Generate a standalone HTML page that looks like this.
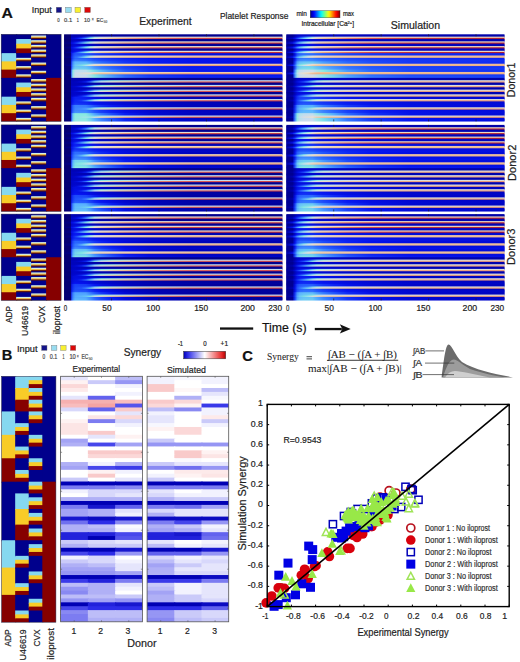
<!DOCTYPE html>
<html><head><meta charset="utf-8"><style>
html,body{margin:0;padding:0;background:#fff;width:520px;height:662px;overflow:hidden}
svg{display:block}
</style></head><body><svg width="520" height="662" viewBox="0 0 520 662" font-family='"Liberation Sans", sans-serif'><defs><linearGradient id="jetbar"><stop offset="0" stop-color="#000080"/><stop offset="0.05" stop-color="#0000b2"/><stop offset="0.1" stop-color="#0000e6"/><stop offset="0.15" stop-color="#0019ff"/><stop offset="0.2" stop-color="#004dff"/><stop offset="0.25" stop-color="#0080ff"/><stop offset="0.3" stop-color="#00b2ff"/><stop offset="0.35" stop-color="#00e5ff"/><stop offset="0.4" stop-color="#1affe5"/><stop offset="0.45" stop-color="#4dffb2"/><stop offset="0.5" stop-color="#80ff80"/><stop offset="0.55" stop-color="#b3ff4c"/><stop offset="0.6" stop-color="#e5ff1a"/><stop offset="0.65" stop-color="#ffe500"/><stop offset="0.7" stop-color="#ffb300"/><stop offset="0.75" stop-color="#ff8000"/><stop offset="0.8" stop-color="#ff4c00"/><stop offset="0.85" stop-color="#ff1a00"/><stop offset="0.9" stop-color="#e50000"/><stop offset="0.95" stop-color="#b30000"/><stop offset="1" stop-color="#800000"/></linearGradient><linearGradient id="g0"><stop offset="0" stop-color="#050073"/><stop offset="0.03" stop-color="#050073"/><stop offset="0.03" stop-color="#0003b5"/><stop offset="0.04" stop-color="#0003b4"/><stop offset="0.05" stop-color="#0003b3"/><stop offset="0.06" stop-color="#0003b1"/><stop offset="0.08" stop-color="#0002ae"/><stop offset="0.1" stop-color="#0002ac"/><stop offset="0.12" stop-color="#0002a9"/><stop offset="0.14" stop-color="#0002a6"/><stop offset="0.17" stop-color="#0001a2"/><stop offset="0.22" stop-color="#00019e"/><stop offset="0.28" stop-color="#000098"/><stop offset="0.39" stop-color="#000093"/><stop offset="0.57" stop-color="#01008f"/><stop offset="1" stop-color="#02008a"/></linearGradient><linearGradient id="g1"><stop offset="0" stop-color="#050074"/><stop offset="0.03" stop-color="#040078"/><stop offset="0.03" stop-color="#0004bf"/><stop offset="0.04" stop-color="#0004c1"/><stop offset="0.05" stop-color="#0005c7"/><stop offset="0.06" stop-color="#0108d0"/><stop offset="0.08" stop-color="#0412ea"/><stop offset="0.1" stop-color="#1a44f9"/><stop offset="0.12" stop-color="#50a5ff"/><stop offset="0.14" stop-color="#98e7e5"/><stop offset="0.17" stop-color="#ccdcec"/><stop offset="0.22" stop-color="#d8dee0"/><stop offset="0.28" stop-color="#dddedb"/><stop offset="0.39" stop-color="#e0dfd8"/><stop offset="0.57" stop-color="#e2dfd6"/><stop offset="1" stop-color="#e4dfd4"/></linearGradient><linearGradient id="g2"><stop offset="0" stop-color="#050076"/><stop offset="0.03" stop-color="#03007f"/><stop offset="0.03" stop-color="#0006cb"/><stop offset="0.04" stop-color="#0108d0"/><stop offset="0.05" stop-color="#030ddc"/><stop offset="0.06" stop-color="#0514f0"/><stop offset="0.08" stop-color="#1f4ffb"/><stop offset="0.1" stop-color="#4d9fff"/><stop offset="0.12" stop-color="#96e8e4"/><stop offset="0.14" stop-color="#dbdedd"/><stop offset="0.17" stop-color="#edd2b7"/><stop offset="0.22" stop-color="#efbb92"/><stop offset="0.28" stop-color="#e99977"/><stop offset="0.39" stop-color="#df6b5d"/><stop offset="0.57" stop-color="#d14548"/><stop offset="1" stop-color="#bd313d"/></linearGradient><linearGradient id="g3"><stop offset="0" stop-color="#050073"/><stop offset="0.03" stop-color="#050073"/><stop offset="0.03" stop-color="#0003b8"/><stop offset="0.04" stop-color="#0004c2"/><stop offset="0.05" stop-color="#0005c3"/><stop offset="0.06" stop-color="#0004c1"/><stop offset="0.08" stop-color="#0004bd"/><stop offset="0.1" stop-color="#0004ba"/><stop offset="0.12" stop-color="#0003b6"/><stop offset="0.14" stop-color="#0003b1"/><stop offset="0.17" stop-color="#0002ad"/><stop offset="0.22" stop-color="#0002a7"/><stop offset="0.28" stop-color="#0001a1"/><stop offset="0.39" stop-color="#000098"/><stop offset="0.57" stop-color="#010092"/><stop offset="1" stop-color="#01008d"/></linearGradient><linearGradient id="g4"><stop offset="0" stop-color="#050076"/><stop offset="0.03" stop-color="#03007e"/><stop offset="0.03" stop-color="#0006cb"/><stop offset="0.04" stop-color="#0109d1"/><stop offset="0.05" stop-color="#030dde"/><stop offset="0.06" stop-color="#0514f0"/><stop offset="0.08" stop-color="#1d4bfa"/><stop offset="0.1" stop-color="#4796ff"/><stop offset="0.12" stop-color="#82e5e4"/><stop offset="0.14" stop-color="#c2ddef"/><stop offset="0.17" stop-color="#d5dde3"/><stop offset="0.22" stop-color="#dbdedd"/><stop offset="0.28" stop-color="#dedfda"/><stop offset="0.39" stop-color="#e1dfd7"/><stop offset="0.57" stop-color="#e3dfd5"/><stop offset="1" stop-color="#e5dfd3"/></linearGradient><linearGradient id="g5"><stop offset="0" stop-color="#040079"/><stop offset="0.03" stop-color="#01008d"/><stop offset="0.03" stop-color="#030ee1"/><stop offset="0.04" stop-color="#0513ed"/><stop offset="0.05" stop-color="#102ef5"/><stop offset="0.06" stop-color="#2256fc"/><stop offset="0.08" stop-color="#50a5ff"/><stop offset="0.1" stop-color="#88ebe1"/><stop offset="0.12" stop-color="#d0dde8"/><stop offset="0.14" stop-color="#ebdcc6"/><stop offset="0.17" stop-color="#eec6a3"/><stop offset="0.22" stop-color="#f0b286"/><stop offset="0.28" stop-color="#e78e71"/><stop offset="0.39" stop-color="#dd6459"/><stop offset="0.57" stop-color="#cf4346"/><stop offset="1" stop-color="#bc303c"/></linearGradient><linearGradient id="g6"><stop offset="0" stop-color="#050073"/><stop offset="0.03" stop-color="#050073"/><stop offset="0.03" stop-color="#0004bc"/><stop offset="0.04" stop-color="#0108cf"/><stop offset="0.05" stop-color="#0109d2"/><stop offset="0.06" stop-color="#0108d0"/><stop offset="0.08" stop-color="#0006cc"/><stop offset="0.1" stop-color="#0005c8"/><stop offset="0.12" stop-color="#0004c3"/><stop offset="0.14" stop-color="#0004bd"/><stop offset="0.17" stop-color="#0003b7"/><stop offset="0.22" stop-color="#0003b1"/><stop offset="0.28" stop-color="#0002a9"/><stop offset="0.39" stop-color="#00019f"/><stop offset="0.57" stop-color="#000096"/><stop offset="1" stop-color="#010091"/></linearGradient><linearGradient id="g7"><stop offset="0" stop-color="#050076"/><stop offset="0.03" stop-color="#03007e"/><stop offset="0.03" stop-color="#0006cc"/><stop offset="0.04" stop-color="#020ad5"/><stop offset="0.05" stop-color="#030fe2"/><stop offset="0.06" stop-color="#0719f1"/><stop offset="0.08" stop-color="#1f4ffb"/><stop offset="0.1" stop-color="#4999ff"/><stop offset="0.12" stop-color="#84e8e3"/><stop offset="0.14" stop-color="#c4ddef"/><stop offset="0.17" stop-color="#d6dee2"/><stop offset="0.22" stop-color="#dcdedc"/><stop offset="0.28" stop-color="#dfdfd9"/><stop offset="0.39" stop-color="#e2dfd6"/><stop offset="0.57" stop-color="#e4dfd4"/><stop offset="1" stop-color="#e5dfd3"/></linearGradient><linearGradient id="g8"><stop offset="0" stop-color="#040079"/><stop offset="0.03" stop-color="#01008d"/><stop offset="0.03" stop-color="#030fe1"/><stop offset="0.04" stop-color="#0514f0"/><stop offset="0.05" stop-color="#1232f6"/><stop offset="0.06" stop-color="#245bfd"/><stop offset="0.08" stop-color="#53a8ff"/><stop offset="0.1" stop-color="#8aeae2"/><stop offset="0.12" stop-color="#d1dde7"/><stop offset="0.14" stop-color="#ecdbc4"/><stop offset="0.17" stop-color="#eec5a1"/><stop offset="0.22" stop-color="#efb085"/><stop offset="0.28" stop-color="#e78c70"/><stop offset="0.39" stop-color="#dd6258"/><stop offset="0.57" stop-color="#ce4246"/><stop offset="1" stop-color="#bb2f3c"/></linearGradient><linearGradient id="g9"><stop offset="0" stop-color="#050073"/><stop offset="0.03" stop-color="#050073"/><stop offset="0.03" stop-color="#0004bf"/><stop offset="0.04" stop-color="#020cda"/><stop offset="0.05" stop-color="#030edf"/><stop offset="0.06" stop-color="#030ddd"/><stop offset="0.08" stop-color="#020bd8"/><stop offset="0.1" stop-color="#0109d3"/><stop offset="0.12" stop-color="#0107ce"/><stop offset="0.14" stop-color="#0005c9"/><stop offset="0.17" stop-color="#0004c2"/><stop offset="0.22" stop-color="#0004ba"/><stop offset="0.28" stop-color="#0003b1"/><stop offset="0.39" stop-color="#0002a6"/><stop offset="0.57" stop-color="#00019d"/><stop offset="1" stop-color="#000094"/></linearGradient><linearGradient id="g10"><stop offset="0" stop-color="#050076"/><stop offset="0.03" stop-color="#03007e"/><stop offset="0.03" stop-color="#0107cc"/><stop offset="0.04" stop-color="#030ee1"/><stop offset="0.05" stop-color="#0412ea"/><stop offset="0.06" stop-color="#091df2"/><stop offset="0.08" stop-color="#2153fc"/><stop offset="0.1" stop-color="#4b9cff"/><stop offset="0.12" stop-color="#86eae2"/><stop offset="0.14" stop-color="#c6ddef"/><stop offset="0.17" stop-color="#d6dee2"/><stop offset="0.22" stop-color="#dddedb"/><stop offset="0.28" stop-color="#e0dfd8"/><stop offset="0.39" stop-color="#e2dfd6"/><stop offset="0.57" stop-color="#e4dfd4"/><stop offset="1" stop-color="#e6dfd2"/></linearGradient><linearGradient id="g11"><stop offset="0" stop-color="#040079"/><stop offset="0.03" stop-color="#01008d"/><stop offset="0.03" stop-color="#030fe2"/><stop offset="0.04" stop-color="#0718f1"/><stop offset="0.05" stop-color="#1437f7"/><stop offset="0.06" stop-color="#265ffe"/><stop offset="0.08" stop-color="#55acff"/><stop offset="0.1" stop-color="#8ceae2"/><stop offset="0.12" stop-color="#d2dde6"/><stop offset="0.14" stop-color="#ecd9c3"/><stop offset="0.17" stop-color="#eec4a0"/><stop offset="0.22" stop-color="#efaf84"/><stop offset="0.28" stop-color="#e68b6f"/><stop offset="0.39" stop-color="#dc6158"/><stop offset="0.57" stop-color="#cd4146"/><stop offset="1" stop-color="#bb2f3c"/></linearGradient><linearGradient id="g12"><stop offset="0" stop-color="#050073"/><stop offset="0.03" stop-color="#050073"/><stop offset="0.03" stop-color="#0107ce"/><stop offset="0.04" stop-color="#163af7"/><stop offset="0.05" stop-color="#2154fc"/><stop offset="0.06" stop-color="#2154fc"/><stop offset="0.08" stop-color="#2052fc"/><stop offset="0.1" stop-color="#1f50fb"/><stop offset="0.12" stop-color="#1b46f9"/><stop offset="0.14" stop-color="#163bf7"/><stop offset="0.17" stop-color="#1130f5"/><stop offset="0.22" stop-color="#0c25f3"/><stop offset="0.28" stop-color="#0719f1"/><stop offset="0.39" stop-color="#0412ea"/><stop offset="0.57" stop-color="#030ee1"/><stop offset="1" stop-color="#020cda"/></linearGradient><linearGradient id="g13"><stop offset="0" stop-color="#050076"/><stop offset="0.03" stop-color="#03007e"/><stop offset="0.03" stop-color="#0109d3"/><stop offset="0.04" stop-color="#1942f9"/><stop offset="0.05" stop-color="#2660fe"/><stop offset="0.06" stop-color="#2a67ff"/><stop offset="0.08" stop-color="#3274ff"/><stop offset="0.1" stop-color="#5ab5ff"/><stop offset="0.12" stop-color="#98e7e5"/><stop offset="0.14" stop-color="#d1dde7"/><stop offset="0.17" stop-color="#e2dfd6"/><stop offset="0.22" stop-color="#eae0ce"/><stop offset="0.28" stop-color="#ecdbc6"/><stop offset="0.39" stop-color="#ecd5bc"/><stop offset="0.57" stop-color="#edd0b3"/><stop offset="1" stop-color="#edccac"/></linearGradient><linearGradient id="g14"><stop offset="0" stop-color="#040079"/><stop offset="0.03" stop-color="#01008d"/><stop offset="0.03" stop-color="#0410e6"/><stop offset="0.04" stop-color="#1d4bfa"/><stop offset="0.05" stop-color="#2d6cff"/><stop offset="0.06" stop-color="#3578ff"/><stop offset="0.08" stop-color="#63bff9"/><stop offset="0.1" stop-color="#9be6e6"/><stop offset="0.12" stop-color="#d5dde3"/><stop offset="0.14" stop-color="#ebdeca"/><stop offset="0.17" stop-color="#edd0b3"/><stop offset="0.22" stop-color="#eec6a3"/><stop offset="0.28" stop-color="#efbd95"/><stop offset="0.39" stop-color="#efb185"/><stop offset="0.57" stop-color="#eb9e7b"/><stop offset="1" stop-color="#e78f72"/></linearGradient><linearGradient id="g15"><stop offset="0" stop-color="#050073"/><stop offset="0.03" stop-color="#050073"/><stop offset="0.03" stop-color="#0108d0"/><stop offset="0.04" stop-color="#1b47fa"/><stop offset="0.05" stop-color="#2863ff"/><stop offset="0.06" stop-color="#2863ff"/><stop offset="0.08" stop-color="#2660fe"/><stop offset="0.1" stop-color="#255dfe"/><stop offset="0.12" stop-color="#2052fc"/><stop offset="0.14" stop-color="#1b45f9"/><stop offset="0.17" stop-color="#163af7"/><stop offset="0.22" stop-color="#102df5"/><stop offset="0.28" stop-color="#0a20f2"/><stop offset="0.39" stop-color="#0514ef"/><stop offset="0.57" stop-color="#0410e6"/><stop offset="1" stop-color="#030edf"/></linearGradient><linearGradient id="g16"><stop offset="0" stop-color="#050073"/><stop offset="0.03" stop-color="#050073"/><stop offset="0.03" stop-color="#0109d3"/><stop offset="0.04" stop-color="#2154fc"/><stop offset="0.05" stop-color="#3071ff"/><stop offset="0.06" stop-color="#3070ff"/><stop offset="0.08" stop-color="#2d6dff"/><stop offset="0.1" stop-color="#2b69ff"/><stop offset="0.12" stop-color="#255dfe"/><stop offset="0.14" stop-color="#1f50fb"/><stop offset="0.17" stop-color="#1a44f9"/><stop offset="0.22" stop-color="#1436f6"/><stop offset="0.28" stop-color="#0e28f4"/><stop offset="0.39" stop-color="#081af1"/><stop offset="0.57" stop-color="#0412ec"/><stop offset="1" stop-color="#030fe4"/></linearGradient><linearGradient id="g17"><stop offset="0" stop-color="#050073"/><stop offset="0.03" stop-color="#050073"/><stop offset="0.03" stop-color="#020ad6"/><stop offset="0.04" stop-color="#2761fe"/><stop offset="0.05" stop-color="#387eff"/><stop offset="0.06" stop-color="#387dff"/><stop offset="0.08" stop-color="#3579ff"/><stop offset="0.1" stop-color="#3274ff"/><stop offset="0.12" stop-color="#2b68ff"/><stop offset="0.14" stop-color="#245bfd"/><stop offset="0.17" stop-color="#1e4dfb"/><stop offset="0.22" stop-color="#183ef8"/><stop offset="0.28" stop-color="#112ff5"/><stop offset="0.39" stop-color="#0a20f2"/><stop offset="0.57" stop-color="#0515f0"/><stop offset="1" stop-color="#0411e9"/></linearGradient><linearGradient id="g18"><stop offset="0" stop-color="#050073"/><stop offset="0.03" stop-color="#050073"/><stop offset="0.03" stop-color="#030ee0"/><stop offset="0.04" stop-color="#428dff"/><stop offset="0.05" stop-color="#5cb7fe"/><stop offset="0.06" stop-color="#5db8fd"/><stop offset="0.08" stop-color="#5db7fd"/><stop offset="0.1" stop-color="#5bb6fe"/><stop offset="0.12" stop-color="#4d9fff"/><stop offset="0.14" stop-color="#3d85ff"/><stop offset="0.17" stop-color="#2e6eff"/><stop offset="0.22" stop-color="#2053fc"/><stop offset="0.28" stop-color="#1437f7"/><stop offset="0.39" stop-color="#0a1ff2"/><stop offset="0.57" stop-color="#0513ec"/><stop offset="1" stop-color="#030fe4"/></linearGradient><linearGradient id="g19"><stop offset="0" stop-color="#050076"/><stop offset="0.03" stop-color="#03007e"/><stop offset="0.03" stop-color="#0410e5"/><stop offset="0.04" stop-color="#4694ff"/><stop offset="0.05" stop-color="#62befa"/><stop offset="0.06" stop-color="#67c4f7"/><stop offset="0.08" stop-color="#6ecdf2"/><stop offset="0.1" stop-color="#7adbea"/><stop offset="0.12" stop-color="#aae3e9"/><stop offset="0.14" stop-color="#d8dee0"/><stop offset="0.17" stop-color="#e8e0d0"/><stop offset="0.22" stop-color="#ebdcc7"/><stop offset="0.28" stop-color="#ecd8c1"/><stop offset="0.39" stop-color="#ecd3b9"/><stop offset="0.57" stop-color="#edcfb1"/><stop offset="1" stop-color="#edcaab"/></linearGradient><linearGradient id="g20"><stop offset="0" stop-color="#040079"/><stop offset="0.03" stop-color="#01008d"/><stop offset="0.03" stop-color="#0412ec"/><stop offset="0.04" stop-color="#4b9cff"/><stop offset="0.05" stop-color="#69c6f5"/><stop offset="0.06" stop-color="#70cff0"/><stop offset="0.08" stop-color="#7ddfe8"/><stop offset="0.1" stop-color="#b1e1eb"/><stop offset="0.12" stop-color="#dddedb"/><stop offset="0.14" stop-color="#ecd6bd"/><stop offset="0.17" stop-color="#eec9a9"/><stop offset="0.22" stop-color="#efc19c"/><stop offset="0.28" stop-color="#efba90"/><stop offset="0.39" stop-color="#eead83"/><stop offset="0.57" stop-color="#ea9c79"/><stop offset="1" stop-color="#e78d71"/></linearGradient><linearGradient id="g21"><stop offset="0" stop-color="#050073"/><stop offset="0.03" stop-color="#050073"/><stop offset="0.03" stop-color="#030fe3"/><stop offset="0.04" stop-color="#4998ff"/><stop offset="0.05" stop-color="#64c0f8"/><stop offset="0.06" stop-color="#65c1f8"/><stop offset="0.08" stop-color="#63bff9"/><stop offset="0.1" stop-color="#62bdfa"/><stop offset="0.12" stop-color="#53a9ff"/><stop offset="0.14" stop-color="#438eff"/><stop offset="0.17" stop-color="#3376ff"/><stop offset="0.22" stop-color="#245bfd"/><stop offset="0.28" stop-color="#183ef8"/><stop offset="0.39" stop-color="#0d26f3"/><stop offset="0.57" stop-color="#0616f0"/><stop offset="1" stop-color="#0411e9"/></linearGradient><linearGradient id="g22"><stop offset="0" stop-color="#050073"/><stop offset="0.03" stop-color="#050073"/><stop offset="0.03" stop-color="#0410e5"/><stop offset="0.04" stop-color="#50a4ff"/><stop offset="0.05" stop-color="#6bc9f3"/><stop offset="0.06" stop-color="#6ccaf3"/><stop offset="0.08" stop-color="#6ac8f4"/><stop offset="0.1" stop-color="#68c5f6"/><stop offset="0.12" stop-color="#5ab3ff"/><stop offset="0.14" stop-color="#4898ff"/><stop offset="0.17" stop-color="#387eff"/><stop offset="0.22" stop-color="#2864ff"/><stop offset="0.28" stop-color="#1b46f9"/><stop offset="0.39" stop-color="#102cf5"/><stop offset="0.57" stop-color="#081cf1"/><stop offset="1" stop-color="#0513ee"/></linearGradient><linearGradient id="g23"><stop offset="0" stop-color="#050073"/><stop offset="0.03" stop-color="#050073"/><stop offset="0.03" stop-color="#0411e8"/><stop offset="0.04" stop-color="#57afff"/><stop offset="0.05" stop-color="#73d3ee"/><stop offset="0.06" stop-color="#73d3ee"/><stop offset="0.08" stop-color="#71d0f0"/><stop offset="0.1" stop-color="#6ecdf1"/><stop offset="0.12" stop-color="#5fbbfb"/><stop offset="0.14" stop-color="#4ea1ff"/><stop offset="0.17" stop-color="#3e87ff"/><stop offset="0.22" stop-color="#2c6bff"/><stop offset="0.28" stop-color="#1e4dfb"/><stop offset="0.39" stop-color="#1233f6"/><stop offset="0.57" stop-color="#0b22f3"/><stop offset="1" stop-color="#0617f1"/></linearGradient><linearGradient id="g24"><stop offset="0" stop-color="#050073"/><stop offset="0.03" stop-color="#050073"/><stop offset="0.03" stop-color="#0b22f3"/><stop offset="0.04" stop-color="#88ebe1"/><stop offset="0.05" stop-color="#bedeee"/><stop offset="0.06" stop-color="#c1deee"/><stop offset="0.08" stop-color="#c0deee"/><stop offset="0.1" stop-color="#bfdeee"/><stop offset="0.12" stop-color="#9ce6e6"/><stop offset="0.14" stop-color="#7adbea"/><stop offset="0.17" stop-color="#5fbafc"/><stop offset="0.22" stop-color="#418cff"/><stop offset="0.28" stop-color="#255cfe"/><stop offset="0.39" stop-color="#1130f5"/><stop offset="0.57" stop-color="#0718f1"/><stop offset="1" stop-color="#0411e9"/></linearGradient><linearGradient id="g25"><stop offset="0" stop-color="#050076"/><stop offset="0.03" stop-color="#03007e"/><stop offset="0.03" stop-color="#0e28f4"/><stop offset="0.04" stop-color="#8deae2"/><stop offset="0.05" stop-color="#c5ddef"/><stop offset="0.06" stop-color="#cbdced"/><stop offset="0.08" stop-color="#cfdde9"/><stop offset="0.1" stop-color="#d6dee2"/><stop offset="0.12" stop-color="#d1dde7"/><stop offset="0.14" stop-color="#e3dfd5"/><stop offset="0.17" stop-color="#ecdac4"/><stop offset="0.22" stop-color="#ecd6bd"/><stop offset="0.28" stop-color="#ecd4bb"/><stop offset="0.39" stop-color="#edd2b6"/><stop offset="0.57" stop-color="#edceb0"/><stop offset="1" stop-color="#eecaaa"/></linearGradient><linearGradient id="g26"><stop offset="0" stop-color="#040079"/><stop offset="0.03" stop-color="#01008d"/><stop offset="0.03" stop-color="#112ff5"/><stop offset="0.04" stop-color="#93e8e4"/><stop offset="0.05" stop-color="#cbdced"/><stop offset="0.06" stop-color="#d1dde7"/><stop offset="0.08" stop-color="#d8dee0"/><stop offset="0.1" stop-color="#e2dfd6"/><stop offset="0.12" stop-color="#ebe0cd"/><stop offset="0.14" stop-color="#eecaa9"/><stop offset="0.17" stop-color="#efc099"/><stop offset="0.22" stop-color="#efba91"/><stop offset="0.28" stop-color="#f0b68a"/><stop offset="0.39" stop-color="#eeaa81"/><stop offset="0.57" stop-color="#ea9a78"/><stop offset="1" stop-color="#e68c70"/></linearGradient><linearGradient id="g27"><stop offset="0" stop-color="#050073"/><stop offset="0.03" stop-color="#050073"/><stop offset="0.03" stop-color="#0c25f3"/><stop offset="0.04" stop-color="#90e9e3"/><stop offset="0.05" stop-color="#c8dcf0"/><stop offset="0.06" stop-color="#c9dcef"/><stop offset="0.08" stop-color="#c9dcef"/><stop offset="0.1" stop-color="#c7dcf0"/><stop offset="0.12" stop-color="#a3e4e8"/><stop offset="0.14" stop-color="#7fe1e6"/><stop offset="0.17" stop-color="#64c0f8"/><stop offset="0.22" stop-color="#4593ff"/><stop offset="0.28" stop-color="#2863ff"/><stop offset="0.39" stop-color="#1437f7"/><stop offset="0.57" stop-color="#091ef2"/><stop offset="1" stop-color="#0513ee"/></linearGradient><linearGradient id="g28"><stop offset="0" stop-color="#050073"/><stop offset="0.03" stop-color="#050073"/><stop offset="0.03" stop-color="#0e28f4"/><stop offset="0.04" stop-color="#98e7e5"/><stop offset="0.05" stop-color="#cdddeb"/><stop offset="0.06" stop-color="#ceddea"/><stop offset="0.08" stop-color="#cdddeb"/><stop offset="0.1" stop-color="#cbdced"/><stop offset="0.12" stop-color="#abe3e9"/><stop offset="0.14" stop-color="#84e8e3"/><stop offset="0.17" stop-color="#69c6f5"/><stop offset="0.22" stop-color="#4a9bff"/><stop offset="0.28" stop-color="#2c6aff"/><stop offset="0.39" stop-color="#173df8"/><stop offset="0.57" stop-color="#0c24f3"/><stop offset="1" stop-color="#0617f1"/></linearGradient><linearGradient id="g29"><stop offset="0" stop-color="#050073"/><stop offset="0.03" stop-color="#050073"/><stop offset="0.03" stop-color="#0f2bf4"/><stop offset="0.04" stop-color="#a1e5e7"/><stop offset="0.05" stop-color="#d1dde7"/><stop offset="0.06" stop-color="#d3dde5"/><stop offset="0.08" stop-color="#d1dde7"/><stop offset="0.1" stop-color="#cfdde9"/><stop offset="0.12" stop-color="#b2e1eb"/><stop offset="0.14" stop-color="#8aeae2"/><stop offset="0.17" stop-color="#6dcbf2"/><stop offset="0.22" stop-color="#4fa2ff"/><stop offset="0.28" stop-color="#3070ff"/><stop offset="0.39" stop-color="#1a44f9"/><stop offset="0.57" stop-color="#0f2af4"/><stop offset="1" stop-color="#091df2"/></linearGradient><linearGradient id="g30"><stop offset="0" stop-color="#050073"/><stop offset="0.03" stop-color="#050074"/><stop offset="0.03" stop-color="#0003b7"/><stop offset="0.04" stop-color="#0003b7"/><stop offset="0.05" stop-color="#0003b7"/><stop offset="0.06" stop-color="#0003b8"/><stop offset="0.08" stop-color="#0004be"/><stop offset="0.1" stop-color="#0107cd"/><stop offset="0.12" stop-color="#0514f0"/><stop offset="0.14" stop-color="#2b69ff"/><stop offset="0.17" stop-color="#68c5f5"/><stop offset="0.22" stop-color="#91e9e3"/><stop offset="0.28" stop-color="#a4e4e8"/><stop offset="0.39" stop-color="#b2e1eb"/><stop offset="0.57" stop-color="#bedeee"/><stop offset="1" stop-color="#c7dcf0"/></linearGradient><linearGradient id="g31"><stop offset="0" stop-color="#050074"/><stop offset="0.03" stop-color="#040077"/><stop offset="0.03" stop-color="#0004bc"/><stop offset="0.04" stop-color="#0004bd"/><stop offset="0.05" stop-color="#0004c0"/><stop offset="0.06" stop-color="#0005c7"/><stop offset="0.08" stop-color="#020cda"/><stop offset="0.1" stop-color="#0c24f3"/><stop offset="0.12" stop-color="#377cff"/><stop offset="0.14" stop-color="#86e9e2"/><stop offset="0.17" stop-color="#d5dee3"/><stop offset="0.22" stop-color="#ecd5bb"/><stop offset="0.28" stop-color="#efbc93"/><stop offset="0.39" stop-color="#e89073"/><stop offset="0.57" stop-color="#dd6358"/><stop offset="1" stop-color="#cf4346"/></linearGradient><linearGradient id="g32"><stop offset="0" stop-color="#050073"/><stop offset="0.03" stop-color="#050073"/><stop offset="0.03" stop-color="#0003b7"/><stop offset="0.04" stop-color="#0004bb"/><stop offset="0.05" stop-color="#0004bb"/><stop offset="0.06" stop-color="#0004b9"/><stop offset="0.08" stop-color="#0003b6"/><stop offset="0.1" stop-color="#0003b3"/><stop offset="0.12" stop-color="#0003af"/><stop offset="0.14" stop-color="#0002ac"/><stop offset="0.17" stop-color="#0002a8"/><stop offset="0.22" stop-color="#0001a3"/><stop offset="0.28" stop-color="#00019c"/><stop offset="0.39" stop-color="#000095"/><stop offset="0.57" stop-color="#010091"/><stop offset="1" stop-color="#01008c"/></linearGradient><linearGradient id="g33"><stop offset="0" stop-color="#050074"/><stop offset="0.03" stop-color="#050076"/><stop offset="0.03" stop-color="#0004ba"/><stop offset="0.04" stop-color="#0004bd"/><stop offset="0.05" stop-color="#0004bf"/><stop offset="0.06" stop-color="#0005c3"/><stop offset="0.08" stop-color="#0108d1"/><stop offset="0.1" stop-color="#0412ea"/><stop offset="0.12" stop-color="#1e4dfb"/><stop offset="0.14" stop-color="#53a9ff"/><stop offset="0.17" stop-color="#7fe1e6"/><stop offset="0.22" stop-color="#9ae7e5"/><stop offset="0.28" stop-color="#a8e3e9"/><stop offset="0.39" stop-color="#b5e0ec"/><stop offset="0.57" stop-color="#bfdeee"/><stop offset="1" stop-color="#c7dcf0"/></linearGradient><linearGradient id="g34"><stop offset="0" stop-color="#050075"/><stop offset="0.03" stop-color="#04007b"/><stop offset="0.03" stop-color="#0005c4"/><stop offset="0.04" stop-color="#0005c9"/><stop offset="0.05" stop-color="#0108d1"/><stop offset="0.06" stop-color="#030dde"/><stop offset="0.08" stop-color="#0e28f4"/><stop offset="0.1" stop-color="#2d6dff"/><stop offset="0.12" stop-color="#6dcbf2"/><stop offset="0.14" stop-color="#c4ddef"/><stop offset="0.17" stop-color="#e6dfd2"/><stop offset="0.22" stop-color="#edccad"/><stop offset="0.28" stop-color="#f0b68a"/><stop offset="0.39" stop-color="#e6896e"/><stop offset="0.57" stop-color="#dc5f56"/><stop offset="1" stop-color="#ce4246"/></linearGradient><linearGradient id="g35"><stop offset="0" stop-color="#050074"/><stop offset="0.03" stop-color="#050076"/><stop offset="0.03" stop-color="#0004bb"/><stop offset="0.04" stop-color="#0005c4"/><stop offset="0.05" stop-color="#0005c6"/><stop offset="0.06" stop-color="#0005c6"/><stop offset="0.08" stop-color="#0109d2"/><stop offset="0.1" stop-color="#0412ec"/><stop offset="0.12" stop-color="#1f4ffb"/><stop offset="0.14" stop-color="#54aaff"/><stop offset="0.17" stop-color="#80e2e6"/><stop offset="0.22" stop-color="#9be6e6"/><stop offset="0.28" stop-color="#a9e3e9"/><stop offset="0.39" stop-color="#b5e0ec"/><stop offset="0.57" stop-color="#c0deee"/><stop offset="1" stop-color="#c8dcf0"/></linearGradient><linearGradient id="g36"><stop offset="0" stop-color="#050075"/><stop offset="0.03" stop-color="#04007b"/><stop offset="0.03" stop-color="#0005c5"/><stop offset="0.04" stop-color="#0006ca"/><stop offset="0.05" stop-color="#0109d3"/><stop offset="0.06" stop-color="#030ee0"/><stop offset="0.08" stop-color="#0f2bf4"/><stop offset="0.1" stop-color="#2e6eff"/><stop offset="0.12" stop-color="#6eccf2"/><stop offset="0.14" stop-color="#c5ddef"/><stop offset="0.17" stop-color="#e7e0d1"/><stop offset="0.22" stop-color="#edcbac"/><stop offset="0.28" stop-color="#f0b589"/><stop offset="0.39" stop-color="#e6886e"/><stop offset="0.57" stop-color="#dc5e56"/><stop offset="1" stop-color="#ce4246"/></linearGradient><linearGradient id="g37"><stop offset="0" stop-color="#050073"/><stop offset="0.03" stop-color="#050073"/><stop offset="0.03" stop-color="#0004ba"/><stop offset="0.04" stop-color="#0005c9"/><stop offset="0.05" stop-color="#0006cb"/><stop offset="0.06" stop-color="#0005c9"/><stop offset="0.08" stop-color="#0005c5"/><stop offset="0.1" stop-color="#0004c1"/><stop offset="0.12" stop-color="#0004bc"/><stop offset="0.14" stop-color="#0003b7"/><stop offset="0.17" stop-color="#0003b2"/><stop offset="0.22" stop-color="#0002ac"/><stop offset="0.28" stop-color="#0001a5"/><stop offset="0.39" stop-color="#00019c"/><stop offset="0.57" stop-color="#000094"/><stop offset="1" stop-color="#01008f"/></linearGradient><linearGradient id="g38"><stop offset="0" stop-color="#050074"/><stop offset="0.03" stop-color="#050076"/><stop offset="0.03" stop-color="#0004bc"/><stop offset="0.04" stop-color="#0006cb"/><stop offset="0.05" stop-color="#0107cd"/><stop offset="0.06" stop-color="#0107cd"/><stop offset="0.08" stop-color="#020ad4"/><stop offset="0.1" stop-color="#0513ed"/><stop offset="0.12" stop-color="#2051fb"/><stop offset="0.14" stop-color="#55acff"/><stop offset="0.17" stop-color="#80e3e5"/><stop offset="0.22" stop-color="#9ce6e6"/><stop offset="0.28" stop-color="#aae3e9"/><stop offset="0.39" stop-color="#b6e0ec"/><stop offset="0.57" stop-color="#c0deee"/><stop offset="1" stop-color="#c8dcf0"/></linearGradient><linearGradient id="g39"><stop offset="0" stop-color="#050075"/><stop offset="0.03" stop-color="#04007b"/><stop offset="0.03" stop-color="#0005c5"/><stop offset="0.04" stop-color="#0107ce"/><stop offset="0.05" stop-color="#020ad5"/><stop offset="0.06" stop-color="#030fe2"/><stop offset="0.08" stop-color="#102df5"/><stop offset="0.1" stop-color="#2f70ff"/><stop offset="0.12" stop-color="#6fcdf1"/><stop offset="0.14" stop-color="#c6ddef"/><stop offset="0.17" stop-color="#e7e0d1"/><stop offset="0.22" stop-color="#edcbab"/><stop offset="0.28" stop-color="#f0b588"/><stop offset="0.39" stop-color="#e5886e"/><stop offset="0.57" stop-color="#db5d56"/><stop offset="1" stop-color="#cd4146"/></linearGradient><linearGradient id="g40"><stop offset="0" stop-color="#050073"/><stop offset="0.03" stop-color="#050073"/><stop offset="0.03" stop-color="#0005c5"/><stop offset="0.04" stop-color="#0513ee"/><stop offset="0.05" stop-color="#0b21f2"/><stop offset="0.06" stop-color="#0b21f2"/><stop offset="0.08" stop-color="#0a1ff2"/><stop offset="0.1" stop-color="#091cf2"/><stop offset="0.12" stop-color="#0514ef"/><stop offset="0.14" stop-color="#0410e6"/><stop offset="0.17" stop-color="#030dde"/><stop offset="0.22" stop-color="#020ad4"/><stop offset="0.28" stop-color="#0006ca"/><stop offset="0.39" stop-color="#0004be"/><stop offset="0.57" stop-color="#0003b4"/><stop offset="1" stop-color="#0002ab"/></linearGradient><linearGradient id="g41"><stop offset="0" stop-color="#050074"/><stop offset="0.03" stop-color="#050076"/><stop offset="0.03" stop-color="#0005c6"/><stop offset="0.04" stop-color="#0514f0"/><stop offset="0.05" stop-color="#0c24f3"/><stop offset="0.06" stop-color="#0d25f3"/><stop offset="0.08" stop-color="#0e28f4"/><stop offset="0.1" stop-color="#112ff5"/><stop offset="0.12" stop-color="#2761ff"/><stop offset="0.14" stop-color="#5db7fd"/><stop offset="0.17" stop-color="#87ebe1"/><stop offset="0.22" stop-color="#a3e4e8"/><stop offset="0.28" stop-color="#b0e1eb"/><stop offset="0.39" stop-color="#bcdfed"/><stop offset="0.57" stop-color="#c6dcf0"/><stop offset="1" stop-color="#cbdced"/></linearGradient><linearGradient id="g42"><stop offset="0" stop-color="#050075"/><stop offset="0.03" stop-color="#04007b"/><stop offset="0.03" stop-color="#0005c9"/><stop offset="0.04" stop-color="#0617f1"/><stop offset="0.05" stop-color="#0e29f4"/><stop offset="0.06" stop-color="#102ef5"/><stop offset="0.08" stop-color="#183ef8"/><stop offset="0.1" stop-color="#3980ff"/><stop offset="0.12" stop-color="#77d7ec"/><stop offset="0.14" stop-color="#cbdced"/><stop offset="0.17" stop-color="#ebe0cc"/><stop offset="0.22" stop-color="#eec7a5"/><stop offset="0.28" stop-color="#efaf84"/><stop offset="0.39" stop-color="#e4826a"/><stop offset="0.57" stop-color="#da5752"/><stop offset="1" stop-color="#ca3e44"/></linearGradient><linearGradient id="g43"><stop offset="0" stop-color="#050073"/><stop offset="0.03" stop-color="#050073"/><stop offset="0.03" stop-color="#0005c7"/><stop offset="0.04" stop-color="#0719f1"/><stop offset="0.05" stop-color="#0e29f4"/><stop offset="0.06" stop-color="#0e28f4"/><stop offset="0.08" stop-color="#0d25f3"/><stop offset="0.1" stop-color="#0b23f3"/><stop offset="0.12" stop-color="#0719f1"/><stop offset="0.14" stop-color="#0412eb"/><stop offset="0.17" stop-color="#030fe2"/><stop offset="0.22" stop-color="#020bd8"/><stop offset="0.28" stop-color="#0107cd"/><stop offset="0.39" stop-color="#0004c2"/><stop offset="0.57" stop-color="#0003b7"/><stop offset="1" stop-color="#0002ae"/></linearGradient><linearGradient id="g44"><stop offset="0" stop-color="#050073"/><stop offset="0.03" stop-color="#050073"/><stop offset="0.03" stop-color="#0005c8"/><stop offset="0.04" stop-color="#0a1ff2"/><stop offset="0.05" stop-color="#1130f5"/><stop offset="0.06" stop-color="#1130f5"/><stop offset="0.08" stop-color="#102cf5"/><stop offset="0.1" stop-color="#0e29f4"/><stop offset="0.12" stop-color="#0a1ff2"/><stop offset="0.14" stop-color="#0514ef"/><stop offset="0.17" stop-color="#0410e6"/><stop offset="0.22" stop-color="#020cdc"/><stop offset="0.28" stop-color="#0108d1"/><stop offset="0.39" stop-color="#0005c5"/><stop offset="0.57" stop-color="#0004ba"/><stop offset="1" stop-color="#0003b1"/></linearGradient><linearGradient id="g45"><stop offset="0" stop-color="#050073"/><stop offset="0.03" stop-color="#050073"/><stop offset="0.03" stop-color="#0006ca"/><stop offset="0.04" stop-color="#0d25f3"/><stop offset="0.05" stop-color="#1538f7"/><stop offset="0.06" stop-color="#1437f7"/><stop offset="0.08" stop-color="#1333f6"/><stop offset="0.1" stop-color="#112ff5"/><stop offset="0.12" stop-color="#0c24f3"/><stop offset="0.14" stop-color="#0719f1"/><stop offset="0.17" stop-color="#0412ea"/><stop offset="0.22" stop-color="#030edf"/><stop offset="0.28" stop-color="#0109d4"/><stop offset="0.39" stop-color="#0005c9"/><stop offset="0.57" stop-color="#0004be"/><stop offset="1" stop-color="#0003b4"/></linearGradient><linearGradient id="g46"><stop offset="0" stop-color="#050073"/><stop offset="0.03" stop-color="#050073"/><stop offset="0.03" stop-color="#020ad5"/><stop offset="0.04" stop-color="#255efe"/><stop offset="0.05" stop-color="#387dff"/><stop offset="0.06" stop-color="#397fff"/><stop offset="0.08" stop-color="#377dff"/><stop offset="0.1" stop-color="#367bff"/><stop offset="0.12" stop-color="#2965ff"/><stop offset="0.14" stop-color="#1d4bfa"/><stop offset="0.17" stop-color="#1232f6"/><stop offset="0.22" stop-color="#0718f1"/><stop offset="0.28" stop-color="#030dde"/><stop offset="0.39" stop-color="#0006ca"/><stop offset="0.57" stop-color="#0004bb"/><stop offset="1" stop-color="#0003b0"/></linearGradient><linearGradient id="g47"><stop offset="0" stop-color="#050074"/><stop offset="0.03" stop-color="#050076"/><stop offset="0.03" stop-color="#020ad6"/><stop offset="0.04" stop-color="#2660fe"/><stop offset="0.05" stop-color="#3980ff"/><stop offset="0.06" stop-color="#3b82ff"/><stop offset="0.08" stop-color="#3d85ff"/><stop offset="0.1" stop-color="#418bff"/><stop offset="0.12" stop-color="#3e87ff"/><stop offset="0.14" stop-color="#67c3f7"/><stop offset="0.17" stop-color="#91e9e3"/><stop offset="0.22" stop-color="#aae3e9"/><stop offset="0.28" stop-color="#b5e0ec"/><stop offset="0.39" stop-color="#bedeee"/><stop offset="0.57" stop-color="#c7dcf0"/><stop offset="1" stop-color="#ccdcec"/></linearGradient><linearGradient id="g48"><stop offset="0" stop-color="#050075"/><stop offset="0.03" stop-color="#04007b"/><stop offset="0.03" stop-color="#020bd9"/><stop offset="0.04" stop-color="#2863ff"/><stop offset="0.05" stop-color="#3c84ff"/><stop offset="0.06" stop-color="#408aff"/><stop offset="0.08" stop-color="#4694ff"/><stop offset="0.1" stop-color="#50a5ff"/><stop offset="0.12" stop-color="#83e6e4"/><stop offset="0.14" stop-color="#d1dde7"/><stop offset="0.17" stop-color="#ecdac4"/><stop offset="0.22" stop-color="#eec39f"/><stop offset="0.28" stop-color="#eeaa81"/><stop offset="0.39" stop-color="#e37f69"/><stop offset="0.57" stop-color="#da5651"/><stop offset="1" stop-color="#c93d44"/></linearGradient><linearGradient id="g49"><stop offset="0" stop-color="#050073"/><stop offset="0.03" stop-color="#050073"/><stop offset="0.03" stop-color="#020ad6"/><stop offset="0.04" stop-color="#2864ff"/><stop offset="0.05" stop-color="#3c84ff"/><stop offset="0.06" stop-color="#3d85ff"/><stop offset="0.08" stop-color="#3b83ff"/><stop offset="0.1" stop-color="#3a80ff"/><stop offset="0.12" stop-color="#2c6aff"/><stop offset="0.14" stop-color="#1f50fb"/><stop offset="0.17" stop-color="#1437f7"/><stop offset="0.22" stop-color="#091cf2"/><stop offset="0.28" stop-color="#030ee1"/><stop offset="0.39" stop-color="#0107cd"/><stop offset="0.57" stop-color="#0004be"/><stop offset="1" stop-color="#0003b3"/></linearGradient><linearGradient id="g50"><stop offset="0" stop-color="#050073"/><stop offset="0.03" stop-color="#050073"/><stop offset="0.03" stop-color="#020bd8"/><stop offset="0.04" stop-color="#2c6aff"/><stop offset="0.05" stop-color="#408bff"/><stop offset="0.06" stop-color="#418cff"/><stop offset="0.08" stop-color="#3f89ff"/><stop offset="0.1" stop-color="#3d86ff"/><stop offset="0.12" stop-color="#2f6fff"/><stop offset="0.14" stop-color="#2255fc"/><stop offset="0.17" stop-color="#163cf7"/><stop offset="0.22" stop-color="#0b21f2"/><stop offset="0.28" stop-color="#0410e4"/><stop offset="0.39" stop-color="#0108d0"/><stop offset="0.57" stop-color="#0004c1"/><stop offset="1" stop-color="#0003b7"/></linearGradient><linearGradient id="g51"><stop offset="0" stop-color="#050073"/><stop offset="0.03" stop-color="#050073"/><stop offset="0.03" stop-color="#020bd9"/><stop offset="0.04" stop-color="#2f70ff"/><stop offset="0.05" stop-color="#4491ff"/><stop offset="0.06" stop-color="#4592ff"/><stop offset="0.08" stop-color="#438fff"/><stop offset="0.1" stop-color="#418cff"/><stop offset="0.12" stop-color="#3275ff"/><stop offset="0.14" stop-color="#245bfd"/><stop offset="0.17" stop-color="#1840f8"/><stop offset="0.22" stop-color="#0c25f3"/><stop offset="0.28" stop-color="#0411e7"/><stop offset="0.39" stop-color="#0109d3"/><stop offset="0.57" stop-color="#0005c5"/><stop offset="1" stop-color="#0004ba"/></linearGradient><linearGradient id="g52"><stop offset="0" stop-color="#050073"/><stop offset="0.03" stop-color="#050073"/><stop offset="0.03" stop-color="#0513ee"/><stop offset="0.04" stop-color="#66c3f7"/><stop offset="0.05" stop-color="#87ebe1"/><stop offset="0.06" stop-color="#8aeae2"/><stop offset="0.08" stop-color="#88ebe1"/><stop offset="0.1" stop-color="#87ebe1"/><stop offset="0.12" stop-color="#6ecdf1"/><stop offset="0.14" stop-color="#53a9ff"/><stop offset="0.17" stop-color="#387eff"/><stop offset="0.22" stop-color="#1e4efb"/><stop offset="0.28" stop-color="#091ef2"/><stop offset="0.39" stop-color="#020ad5"/><stop offset="0.57" stop-color="#0004c0"/><stop offset="1" stop-color="#0003b3"/></linearGradient><linearGradient id="g53"><stop offset="0" stop-color="#050074"/><stop offset="0.03" stop-color="#050076"/><stop offset="0.03" stop-color="#0514ef"/><stop offset="0.04" stop-color="#67c4f6"/><stop offset="0.05" stop-color="#89ebe1"/><stop offset="0.06" stop-color="#8ceae2"/><stop offset="0.08" stop-color="#8ee9e3"/><stop offset="0.1" stop-color="#93e8e4"/><stop offset="0.12" stop-color="#82e4e5"/><stop offset="0.14" stop-color="#76d7ec"/><stop offset="0.17" stop-color="#a0e5e7"/><stop offset="0.22" stop-color="#b5e0ec"/><stop offset="0.28" stop-color="#badfed"/><stop offset="0.39" stop-color="#c0deee"/><stop offset="0.57" stop-color="#c8dcf0"/><stop offset="1" stop-color="#ccdcec"/></linearGradient><linearGradient id="g54"><stop offset="0" stop-color="#050075"/><stop offset="0.03" stop-color="#04007b"/><stop offset="0.03" stop-color="#0616f0"/><stop offset="0.04" stop-color="#69c6f5"/><stop offset="0.05" stop-color="#8ceae2"/><stop offset="0.06" stop-color="#92e8e4"/><stop offset="0.08" stop-color="#99e7e5"/><stop offset="0.1" stop-color="#a5e4e8"/><stop offset="0.12" stop-color="#9de6e6"/><stop offset="0.14" stop-color="#dbdedd"/><stop offset="0.17" stop-color="#edd2b7"/><stop offset="0.22" stop-color="#efbd96"/><stop offset="0.28" stop-color="#eca47e"/><stop offset="0.39" stop-color="#e37d67"/><stop offset="0.57" stop-color="#d95551"/><stop offset="1" stop-color="#c93d43"/></linearGradient><linearGradient id="g55"><stop offset="0" stop-color="#050073"/><stop offset="0.03" stop-color="#050073"/><stop offset="0.03" stop-color="#0514ef"/><stop offset="0.04" stop-color="#69c7f5"/><stop offset="0.05" stop-color="#8ceae2"/><stop offset="0.06" stop-color="#8ee9e3"/><stop offset="0.08" stop-color="#8deae2"/><stop offset="0.1" stop-color="#8beae2"/><stop offset="0.12" stop-color="#71d0ef"/><stop offset="0.14" stop-color="#56adff"/><stop offset="0.17" stop-color="#3b82ff"/><stop offset="0.22" stop-color="#2052fc"/><stop offset="0.28" stop-color="#0b21f3"/><stop offset="0.39" stop-color="#020bd8"/><stop offset="0.57" stop-color="#0005c3"/><stop offset="1" stop-color="#0003b6"/></linearGradient><linearGradient id="g56"><stop offset="0" stop-color="#050073"/><stop offset="0.03" stop-color="#050073"/><stop offset="0.03" stop-color="#0515f0"/><stop offset="0.04" stop-color="#6ccaf3"/><stop offset="0.05" stop-color="#91e9e3"/><stop offset="0.06" stop-color="#93e8e4"/><stop offset="0.08" stop-color="#91e9e3"/><stop offset="0.1" stop-color="#8fe9e3"/><stop offset="0.12" stop-color="#74d4ee"/><stop offset="0.14" stop-color="#59b2ff"/><stop offset="0.17" stop-color="#3d86ff"/><stop offset="0.22" stop-color="#2257fc"/><stop offset="0.28" stop-color="#0c25f3"/><stop offset="0.39" stop-color="#020cdb"/><stop offset="0.57" stop-color="#0005c7"/><stop offset="1" stop-color="#0004b9"/></linearGradient><linearGradient id="g57"><stop offset="0" stop-color="#050073"/><stop offset="0.03" stop-color="#050073"/><stop offset="0.03" stop-color="#0616f0"/><stop offset="0.04" stop-color="#70cef1"/><stop offset="0.05" stop-color="#96e8e4"/><stop offset="0.06" stop-color="#98e7e5"/><stop offset="0.08" stop-color="#95e8e4"/><stop offset="0.1" stop-color="#93e8e4"/><stop offset="0.12" stop-color="#77d7ec"/><stop offset="0.14" stop-color="#5cb6fe"/><stop offset="0.17" stop-color="#408aff"/><stop offset="0.22" stop-color="#245bfd"/><stop offset="0.28" stop-color="#0e29f4"/><stop offset="0.39" stop-color="#030dde"/><stop offset="0.57" stop-color="#0006c9"/><stop offset="1" stop-color="#0004bd"/></linearGradient><linearGradient id="g58"><stop offset="0" stop-color="#000092"/><stop offset="0.03" stop-color="#000092"/><stop offset="0.03" stop-color="#000095"/><stop offset="0.04" stop-color="#0002ae"/><stop offset="0.05" stop-color="#0005c5"/><stop offset="0.06" stop-color="#0006cc"/><stop offset="0.08" stop-color="#0107cd"/><stop offset="0.1" stop-color="#0107cc"/><stop offset="0.12" stop-color="#0006cb"/><stop offset="0.14" stop-color="#0005c9"/><stop offset="0.17" stop-color="#0005c7"/><stop offset="0.22" stop-color="#0005c3"/><stop offset="0.28" stop-color="#0004bf"/><stop offset="0.39" stop-color="#0003b8"/><stop offset="0.57" stop-color="#0003b1"/><stop offset="1" stop-color="#0002a8"/></linearGradient><linearGradient id="g59"><stop offset="0" stop-color="#000096"/><stop offset="0.03" stop-color="#0002a8"/><stop offset="0.03" stop-color="#0002af"/><stop offset="0.04" stop-color="#0107ce"/><stop offset="0.05" stop-color="#0514f0"/><stop offset="0.06" stop-color="#1335f6"/><stop offset="0.08" stop-color="#3275ff"/><stop offset="0.1" stop-color="#62befa"/><stop offset="0.12" stop-color="#a1e5e7"/><stop offset="0.14" stop-color="#d1dde7"/><stop offset="0.17" stop-color="#dfdfd9"/><stop offset="0.22" stop-color="#e5dfd3"/><stop offset="0.28" stop-color="#e9e0cf"/><stop offset="0.39" stop-color="#ebdfcc"/><stop offset="0.57" stop-color="#ebddc8"/><stop offset="1" stop-color="#ecdbc5"/></linearGradient><linearGradient id="g60"><stop offset="0" stop-color="#00019d"/><stop offset="0.03" stop-color="#0005c7"/><stop offset="0.03" stop-color="#0107ce"/><stop offset="0.04" stop-color="#0513ee"/><stop offset="0.05" stop-color="#1c49fa"/><stop offset="0.06" stop-color="#377cff"/><stop offset="0.08" stop-color="#6ac8f4"/><stop offset="0.1" stop-color="#abe3e9"/><stop offset="0.12" stop-color="#dfdfd9"/><stop offset="0.14" stop-color="#edcdaf"/><stop offset="0.17" stop-color="#efb88e"/><stop offset="0.22" stop-color="#ea9a78"/><stop offset="0.28" stop-color="#e17664"/><stop offset="0.39" stop-color="#d74c4b"/><stop offset="0.57" stop-color="#c1353f"/><stop offset="1" stop-color="#af2335"/></linearGradient><linearGradient id="g61"><stop offset="0" stop-color="#000092"/><stop offset="0.03" stop-color="#000092"/><stop offset="0.03" stop-color="#000096"/><stop offset="0.04" stop-color="#0003b7"/><stop offset="0.05" stop-color="#0108d1"/><stop offset="0.06" stop-color="#020bd8"/><stop offset="0.08" stop-color="#020bd9"/><stop offset="0.1" stop-color="#020bd8"/><stop offset="0.12" stop-color="#020ad5"/><stop offset="0.14" stop-color="#0109d2"/><stop offset="0.17" stop-color="#0108cf"/><stop offset="0.22" stop-color="#0006cc"/><stop offset="0.28" stop-color="#0005c7"/><stop offset="0.39" stop-color="#0004bf"/><stop offset="0.57" stop-color="#0003b8"/><stop offset="1" stop-color="#0002ae"/></linearGradient><linearGradient id="g62"><stop offset="0" stop-color="#00019c"/><stop offset="0.03" stop-color="#0005c4"/><stop offset="0.03" stop-color="#0006cb"/><stop offset="0.04" stop-color="#0513ec"/><stop offset="0.05" stop-color="#1b46f9"/><stop offset="0.06" stop-color="#3477ff"/><stop offset="0.08" stop-color="#64c1f8"/><stop offset="0.1" stop-color="#96e7e5"/><stop offset="0.12" stop-color="#ccdcec"/><stop offset="0.14" stop-color="#dcdedc"/><stop offset="0.17" stop-color="#e4dfd4"/><stop offset="0.22" stop-color="#e8e0d0"/><stop offset="0.28" stop-color="#eae0ce"/><stop offset="0.39" stop-color="#ebdeca"/><stop offset="0.57" stop-color="#ebdcc6"/><stop offset="1" stop-color="#ecdbc4"/></linearGradient><linearGradient id="g63"><stop offset="0" stop-color="#0002ad"/><stop offset="0.03" stop-color="#0718f1"/><stop offset="0.03" stop-color="#0b21f2"/><stop offset="0.04" stop-color="#2052fc"/><stop offset="0.05" stop-color="#4796ff"/><stop offset="0.06" stop-color="#6bc9f3"/><stop offset="0.08" stop-color="#aee2ea"/><stop offset="0.1" stop-color="#dbdedd"/><stop offset="0.12" stop-color="#ecd4ba"/><stop offset="0.14" stop-color="#efbe98"/><stop offset="0.17" stop-color="#eeaa81"/><stop offset="0.22" stop-color="#e78d71"/><stop offset="0.28" stop-color="#df6c5e"/><stop offset="0.39" stop-color="#d34749"/><stop offset="0.57" stop-color="#bf333e"/><stop offset="1" stop-color="#ae2235"/></linearGradient><linearGradient id="g64"><stop offset="0" stop-color="#000092"/><stop offset="0.03" stop-color="#000092"/><stop offset="0.03" stop-color="#000098"/><stop offset="0.04" stop-color="#0004bf"/><stop offset="0.05" stop-color="#020cdc"/><stop offset="0.06" stop-color="#030fe4"/><stop offset="0.08" stop-color="#0410e5"/><stop offset="0.1" stop-color="#030fe3"/><stop offset="0.12" stop-color="#030edf"/><stop offset="0.14" stop-color="#020cdc"/><stop offset="0.17" stop-color="#020bd8"/><stop offset="0.22" stop-color="#0109d3"/><stop offset="0.28" stop-color="#0107cd"/><stop offset="0.39" stop-color="#0005c7"/><stop offset="0.57" stop-color="#0004be"/><stop offset="1" stop-color="#0003b4"/></linearGradient><linearGradient id="g65"><stop offset="0" stop-color="#00019c"/><stop offset="0.03" stop-color="#0005c4"/><stop offset="0.03" stop-color="#0006cb"/><stop offset="0.04" stop-color="#0513ee"/><stop offset="0.05" stop-color="#1d4afa"/><stop offset="0.06" stop-color="#367aff"/><stop offset="0.08" stop-color="#66c3f7"/><stop offset="0.1" stop-color="#99e7e5"/><stop offset="0.12" stop-color="#cdddeb"/><stop offset="0.14" stop-color="#dddedb"/><stop offset="0.17" stop-color="#e5dfd3"/><stop offset="0.22" stop-color="#e8e0d0"/><stop offset="0.28" stop-color="#ebe0cd"/><stop offset="0.39" stop-color="#ebddc9"/><stop offset="0.57" stop-color="#ecdbc5"/><stop offset="1" stop-color="#ecdac3"/></linearGradient><linearGradient id="g66"><stop offset="0" stop-color="#0002ad"/><stop offset="0.03" stop-color="#0718f1"/><stop offset="0.03" stop-color="#0b22f3"/><stop offset="0.04" stop-color="#2154fc"/><stop offset="0.05" stop-color="#4a9aff"/><stop offset="0.06" stop-color="#6dccf2"/><stop offset="0.08" stop-color="#b1e1eb"/><stop offset="0.1" stop-color="#dcdedc"/><stop offset="0.12" stop-color="#ecd3b8"/><stop offset="0.14" stop-color="#efbd96"/><stop offset="0.17" stop-color="#eda880"/><stop offset="0.22" stop-color="#e68b70"/><stop offset="0.28" stop-color="#de6a5d"/><stop offset="0.39" stop-color="#d34749"/><stop offset="0.57" stop-color="#be323d"/><stop offset="1" stop-color="#ad2134"/></linearGradient><linearGradient id="g67"><stop offset="0" stop-color="#000092"/><stop offset="0.03" stop-color="#000092"/><stop offset="0.03" stop-color="#000099"/><stop offset="0.04" stop-color="#0005c7"/><stop offset="0.05" stop-color="#0410e7"/><stop offset="0.06" stop-color="#0514f0"/><stop offset="0.08" stop-color="#0515f0"/><stop offset="0.1" stop-color="#0513ee"/><stop offset="0.12" stop-color="#0412ea"/><stop offset="0.14" stop-color="#0410e5"/><stop offset="0.17" stop-color="#030ee0"/><stop offset="0.22" stop-color="#020cda"/><stop offset="0.28" stop-color="#0109d4"/><stop offset="0.39" stop-color="#0107cc"/><stop offset="0.57" stop-color="#0005c5"/><stop offset="1" stop-color="#0004bb"/></linearGradient><linearGradient id="g68"><stop offset="0" stop-color="#00019c"/><stop offset="0.03" stop-color="#0005c4"/><stop offset="0.03" stop-color="#0006cc"/><stop offset="0.04" stop-color="#0514f0"/><stop offset="0.05" stop-color="#1e4efb"/><stop offset="0.06" stop-color="#387eff"/><stop offset="0.08" stop-color="#68c5f5"/><stop offset="0.1" stop-color="#9be6e6"/><stop offset="0.12" stop-color="#ceddea"/><stop offset="0.14" stop-color="#dedfda"/><stop offset="0.17" stop-color="#e6dfd2"/><stop offset="0.22" stop-color="#e9e0cf"/><stop offset="0.28" stop-color="#ebdfcc"/><stop offset="0.39" stop-color="#ebddc8"/><stop offset="0.57" stop-color="#ecdac4"/><stop offset="1" stop-color="#ecd9c3"/></linearGradient><linearGradient id="g69"><stop offset="0" stop-color="#0002ad"/><stop offset="0.03" stop-color="#0718f1"/><stop offset="0.03" stop-color="#0b22f3"/><stop offset="0.04" stop-color="#2256fc"/><stop offset="0.05" stop-color="#4c9dff"/><stop offset="0.06" stop-color="#6fcef1"/><stop offset="0.08" stop-color="#b3e1eb"/><stop offset="0.1" stop-color="#dddedb"/><stop offset="0.12" stop-color="#edd2b6"/><stop offset="0.14" stop-color="#efbc94"/><stop offset="0.17" stop-color="#eda77f"/><stop offset="0.22" stop-color="#e68a6f"/><stop offset="0.28" stop-color="#de695c"/><stop offset="0.39" stop-color="#d24648"/><stop offset="0.57" stop-color="#bd313d"/><stop offset="1" stop-color="#ac2034"/></linearGradient><linearGradient id="g70"><stop offset="0" stop-color="#000092"/><stop offset="0.03" stop-color="#000092"/><stop offset="0.03" stop-color="#0001a0"/><stop offset="0.04" stop-color="#0411e7"/><stop offset="0.05" stop-color="#1e4cfb"/><stop offset="0.06" stop-color="#2864ff"/><stop offset="0.08" stop-color="#2d6dff"/><stop offset="0.1" stop-color="#2e6dff"/><stop offset="0.12" stop-color="#2d6cff"/><stop offset="0.14" stop-color="#2863ff"/><stop offset="0.17" stop-color="#2359fd"/><stop offset="0.22" stop-color="#1e4dfb"/><stop offset="0.28" stop-color="#1841f8"/><stop offset="0.39" stop-color="#1333f6"/><stop offset="0.57" stop-color="#0e29f4"/><stop offset="1" stop-color="#0a1ff2"/></linearGradient><linearGradient id="g71"><stop offset="0" stop-color="#00019c"/><stop offset="0.03" stop-color="#0005c4"/><stop offset="0.03" stop-color="#0107cd"/><stop offset="0.04" stop-color="#0a1ff2"/><stop offset="0.05" stop-color="#2b68ff"/><stop offset="0.06" stop-color="#4593ff"/><stop offset="0.08" stop-color="#75d6ed"/><stop offset="0.1" stop-color="#aee2ea"/><stop offset="0.12" stop-color="#d8dee0"/><stop offset="0.14" stop-color="#eae0ce"/><stop offset="0.17" stop-color="#ecd7bf"/><stop offset="0.22" stop-color="#edd1b6"/><stop offset="0.28" stop-color="#edcdae"/><stop offset="0.39" stop-color="#eec7a6"/><stop offset="0.57" stop-color="#eec29e"/><stop offset="1" stop-color="#efbf98"/></linearGradient><linearGradient id="g72"><stop offset="0" stop-color="#0002ad"/><stop offset="0.03" stop-color="#0718f1"/><stop offset="0.03" stop-color="#0c24f3"/><stop offset="0.04" stop-color="#2761fe"/><stop offset="0.05" stop-color="#57afff"/><stop offset="0.06" stop-color="#7bdde9"/><stop offset="0.08" stop-color="#bddfed"/><stop offset="0.1" stop-color="#dddedb"/><stop offset="0.12" stop-color="#ecdac3"/><stop offset="0.14" stop-color="#edcdb0"/><stop offset="0.17" stop-color="#eec7a6"/><stop offset="0.22" stop-color="#eec39f"/><stop offset="0.28" stop-color="#efbf99"/><stop offset="0.39" stop-color="#efba91"/><stop offset="0.57" stop-color="#f0b68a"/><stop offset="1" stop-color="#efb286"/></linearGradient><linearGradient id="g73"><stop offset="0" stop-color="#000092"/><stop offset="0.03" stop-color="#000092"/><stop offset="0.03" stop-color="#0001a2"/><stop offset="0.04" stop-color="#0513ee"/><stop offset="0.05" stop-color="#2359fd"/><stop offset="0.06" stop-color="#3070ff"/><stop offset="0.08" stop-color="#3578ff"/><stop offset="0.1" stop-color="#3578ff"/><stop offset="0.12" stop-color="#3376ff"/><stop offset="0.14" stop-color="#2d6dff"/><stop offset="0.17" stop-color="#2762ff"/><stop offset="0.22" stop-color="#2256fc"/><stop offset="0.28" stop-color="#1c48fa"/><stop offset="0.39" stop-color="#163af7"/><stop offset="0.57" stop-color="#112ff5"/><stop offset="1" stop-color="#0c24f3"/></linearGradient><linearGradient id="g74"><stop offset="0" stop-color="#000092"/><stop offset="0.03" stop-color="#000092"/><stop offset="0.03" stop-color="#0001a3"/><stop offset="0.04" stop-color="#0719f1"/><stop offset="0.05" stop-color="#2965ff"/><stop offset="0.06" stop-color="#377cff"/><stop offset="0.08" stop-color="#3c84ff"/><stop offset="0.1" stop-color="#3c83ff"/><stop offset="0.12" stop-color="#3a80ff"/><stop offset="0.14" stop-color="#3376ff"/><stop offset="0.17" stop-color="#2c6bff"/><stop offset="0.22" stop-color="#255efe"/><stop offset="0.28" stop-color="#1f4ffb"/><stop offset="0.39" stop-color="#1840f8"/><stop offset="0.57" stop-color="#1334f6"/><stop offset="1" stop-color="#0f2af4"/></linearGradient><linearGradient id="g75"><stop offset="0" stop-color="#000092"/><stop offset="0.03" stop-color="#000092"/><stop offset="0.03" stop-color="#0001a4"/><stop offset="0.04" stop-color="#0b21f2"/><stop offset="0.05" stop-color="#3070ff"/><stop offset="0.06" stop-color="#3f88ff"/><stop offset="0.08" stop-color="#4490ff"/><stop offset="0.1" stop-color="#438fff"/><stop offset="0.12" stop-color="#408aff"/><stop offset="0.14" stop-color="#397fff"/><stop offset="0.17" stop-color="#3273ff"/><stop offset="0.22" stop-color="#2966ff"/><stop offset="0.28" stop-color="#2257fd"/><stop offset="0.39" stop-color="#1b47fa"/><stop offset="0.57" stop-color="#163af7"/><stop offset="1" stop-color="#1130f5"/></linearGradient><linearGradient id="g76"><stop offset="0" stop-color="#000092"/><stop offset="0.03" stop-color="#000092"/><stop offset="0.03" stop-color="#0002aa"/><stop offset="0.04" stop-color="#173ef8"/><stop offset="0.05" stop-color="#4d9fff"/><stop offset="0.06" stop-color="#61bdfa"/><stop offset="0.08" stop-color="#69c7f5"/><stop offset="0.1" stop-color="#6ac8f4"/><stop offset="0.12" stop-color="#6ac7f5"/><stop offset="0.14" stop-color="#5cb7fd"/><stop offset="0.17" stop-color="#4da0ff"/><stop offset="0.22" stop-color="#3c85ff"/><stop offset="0.28" stop-color="#2b69ff"/><stop offset="0.39" stop-color="#1d4cfa"/><stop offset="0.57" stop-color="#1537f7"/><stop offset="1" stop-color="#0f2af4"/></linearGradient><linearGradient id="g77"><stop offset="0" stop-color="#00019c"/><stop offset="0.03" stop-color="#0005c4"/><stop offset="0.03" stop-color="#0108d0"/><stop offset="0.04" stop-color="#1f51fb"/><stop offset="0.05" stop-color="#5cb7fd"/><stop offset="0.06" stop-color="#76d6ed"/><stop offset="0.08" stop-color="#8ceae2"/><stop offset="0.1" stop-color="#c4ddef"/><stop offset="0.12" stop-color="#e3dfd5"/><stop offset="0.14" stop-color="#ecd7be"/><stop offset="0.17" stop-color="#edcfb2"/><stop offset="0.22" stop-color="#edcbac"/><stop offset="0.28" stop-color="#eec8a7"/><stop offset="0.39" stop-color="#eec5a1"/><stop offset="0.57" stop-color="#efc19b"/><stop offset="1" stop-color="#efbe96"/></linearGradient><linearGradient id="g78"><stop offset="0" stop-color="#0002ad"/><stop offset="0.03" stop-color="#0718f1"/><stop offset="0.03" stop-color="#0d26f3"/><stop offset="0.04" stop-color="#2f6fff"/><stop offset="0.05" stop-color="#69c7f5"/><stop offset="0.06" stop-color="#8ceae2"/><stop offset="0.08" stop-color="#cdddeb"/><stop offset="0.1" stop-color="#e7e0d1"/><stop offset="0.12" stop-color="#edceb0"/><stop offset="0.14" stop-color="#eec39f"/><stop offset="0.17" stop-color="#efbf99"/><stop offset="0.22" stop-color="#efbd95"/><stop offset="0.28" stop-color="#efbb92"/><stop offset="0.39" stop-color="#f0b88d"/><stop offset="0.57" stop-color="#f0b487"/><stop offset="1" stop-color="#efaf84"/></linearGradient><linearGradient id="g79"><stop offset="0" stop-color="#000092"/><stop offset="0.03" stop-color="#000092"/><stop offset="0.03" stop-color="#0002ab"/><stop offset="0.04" stop-color="#1b45f9"/><stop offset="0.05" stop-color="#54aaff"/><stop offset="0.06" stop-color="#68c5f6"/><stop offset="0.08" stop-color="#70cff0"/><stop offset="0.1" stop-color="#70cff0"/><stop offset="0.12" stop-color="#6fcef1"/><stop offset="0.14" stop-color="#62bdfa"/><stop offset="0.17" stop-color="#52a8ff"/><stop offset="0.22" stop-color="#418cff"/><stop offset="0.28" stop-color="#2f6fff"/><stop offset="0.39" stop-color="#2052fc"/><stop offset="0.57" stop-color="#173df8"/><stop offset="1" stop-color="#1130f5"/></linearGradient><linearGradient id="g80"><stop offset="0" stop-color="#000092"/><stop offset="0.03" stop-color="#000092"/><stop offset="0.03" stop-color="#0002ad"/><stop offset="0.04" stop-color="#1e4dfb"/><stop offset="0.05" stop-color="#5bb5ff"/><stop offset="0.06" stop-color="#6fcdf1"/><stop offset="0.08" stop-color="#77d7ec"/><stop offset="0.1" stop-color="#77d7ec"/><stop offset="0.12" stop-color="#75d5ed"/><stop offset="0.14" stop-color="#67c4f6"/><stop offset="0.17" stop-color="#58b0ff"/><stop offset="0.22" stop-color="#4693ff"/><stop offset="0.28" stop-color="#3376ff"/><stop offset="0.39" stop-color="#2359fd"/><stop offset="0.57" stop-color="#1a43f9"/><stop offset="1" stop-color="#1436f6"/></linearGradient><linearGradient id="g81"><stop offset="0" stop-color="#000092"/><stop offset="0.03" stop-color="#000092"/><stop offset="0.03" stop-color="#0002ae"/><stop offset="0.04" stop-color="#2154fc"/><stop offset="0.05" stop-color="#61bcfa"/><stop offset="0.06" stop-color="#75d6ed"/><stop offset="0.08" stop-color="#7ddfe8"/><stop offset="0.1" stop-color="#7ddfe8"/><stop offset="0.12" stop-color="#7bdce9"/><stop offset="0.14" stop-color="#6ccaf3"/><stop offset="0.17" stop-color="#5db7fd"/><stop offset="0.22" stop-color="#4a9bff"/><stop offset="0.28" stop-color="#377cff"/><stop offset="0.39" stop-color="#265ffe"/><stop offset="0.57" stop-color="#1c49fa"/><stop offset="1" stop-color="#163bf7"/></linearGradient><linearGradient id="g82"><stop offset="0" stop-color="#000092"/><stop offset="0.03" stop-color="#000092"/><stop offset="0.03" stop-color="#0003b9"/><stop offset="0.04" stop-color="#3f88ff"/><stop offset="0.05" stop-color="#98e7e5"/><stop offset="0.06" stop-color="#bedeee"/><stop offset="0.08" stop-color="#cbdced"/><stop offset="0.1" stop-color="#cdddeb"/><stop offset="0.12" stop-color="#ccddec"/><stop offset="0.14" stop-color="#aee2ea"/><stop offset="0.17" stop-color="#8aeae2"/><stop offset="0.22" stop-color="#6ac8f4"/><stop offset="0.28" stop-color="#4999ff"/><stop offset="0.39" stop-color="#2966ff"/><stop offset="0.57" stop-color="#1943f9"/><stop offset="1" stop-color="#1130f5"/></linearGradient><linearGradient id="g83"><stop offset="0" stop-color="#00019c"/><stop offset="0.03" stop-color="#0005c4"/><stop offset="0.03" stop-color="#0109d3"/><stop offset="0.04" stop-color="#4999ff"/><stop offset="0.05" stop-color="#aae3e9"/><stop offset="0.06" stop-color="#d0dde8"/><stop offset="0.08" stop-color="#e0dfd8"/><stop offset="0.1" stop-color="#ebe0cd"/><stop offset="0.12" stop-color="#ecd7be"/><stop offset="0.14" stop-color="#eec7a5"/><stop offset="0.17" stop-color="#eec29e"/><stop offset="0.22" stop-color="#eec29d"/><stop offset="0.28" stop-color="#eec39e"/><stop offset="0.39" stop-color="#eec29d"/><stop offset="0.57" stop-color="#efc099"/><stop offset="1" stop-color="#efbd95"/></linearGradient><linearGradient id="g84"><stop offset="0" stop-color="#0002ad"/><stop offset="0.03" stop-color="#0718f1"/><stop offset="0.03" stop-color="#0f2af4"/><stop offset="0.04" stop-color="#54aaff"/><stop offset="0.05" stop-color="#badfed"/><stop offset="0.06" stop-color="#dadede"/><stop offset="0.08" stop-color="#ebdfcc"/><stop offset="0.1" stop-color="#edd2b6"/><stop offset="0.12" stop-color="#efbb92"/><stop offset="0.14" stop-color="#f0b387"/><stop offset="0.17" stop-color="#efb286"/><stop offset="0.22" stop-color="#f0b487"/><stop offset="0.28" stop-color="#f0b589"/><stop offset="0.39" stop-color="#f0b588"/><stop offset="0.57" stop-color="#f0b286"/><stop offset="1" stop-color="#efae84"/></linearGradient><linearGradient id="g85"><stop offset="0" stop-color="#000092"/><stop offset="0.03" stop-color="#000092"/><stop offset="0.03" stop-color="#0004ba"/><stop offset="0.04" stop-color="#438fff"/><stop offset="0.05" stop-color="#9fe5e7"/><stop offset="0.06" stop-color="#c7dcf0"/><stop offset="0.08" stop-color="#d0dde8"/><stop offset="0.1" stop-color="#d1dde7"/><stop offset="0.12" stop-color="#d0dde8"/><stop offset="0.14" stop-color="#b5e0ec"/><stop offset="0.17" stop-color="#90e9e3"/><stop offset="0.22" stop-color="#6ecdf2"/><stop offset="0.28" stop-color="#4d9fff"/><stop offset="0.39" stop-color="#2d6cff"/><stop offset="0.57" stop-color="#1c49fa"/><stop offset="1" stop-color="#1436f6"/></linearGradient><linearGradient id="g86"><stop offset="0" stop-color="#000092"/><stop offset="0.03" stop-color="#000092"/><stop offset="0.03" stop-color="#0004bb"/><stop offset="0.04" stop-color="#4796ff"/><stop offset="0.05" stop-color="#a7e4e8"/><stop offset="0.06" stop-color="#ccdcec"/><stop offset="0.08" stop-color="#d4dde4"/><stop offset="0.1" stop-color="#d4dde4"/><stop offset="0.12" stop-color="#d4dde4"/><stop offset="0.14" stop-color="#bbdfed"/><stop offset="0.17" stop-color="#96e8e4"/><stop offset="0.22" stop-color="#72d2ef"/><stop offset="0.28" stop-color="#51a6ff"/><stop offset="0.39" stop-color="#3172ff"/><stop offset="0.57" stop-color="#1f4ffb"/><stop offset="1" stop-color="#163cf7"/></linearGradient><linearGradient id="g87"><stop offset="0" stop-color="#000092"/><stop offset="0.03" stop-color="#000092"/><stop offset="0.03" stop-color="#0004bd"/><stop offset="0.04" stop-color="#4b9cff"/><stop offset="0.05" stop-color="#afe2ea"/><stop offset="0.06" stop-color="#d0dde8"/><stop offset="0.08" stop-color="#d8dee0"/><stop offset="0.1" stop-color="#d8dee0"/><stop offset="0.12" stop-color="#d7dee1"/><stop offset="0.14" stop-color="#c2ddef"/><stop offset="0.17" stop-color="#9ce6e6"/><stop offset="0.22" stop-color="#77d7ec"/><stop offset="0.28" stop-color="#55acff"/><stop offset="0.39" stop-color="#3477ff"/><stop offset="0.57" stop-color="#2155fc"/><stop offset="1" stop-color="#1941f9"/></linearGradient><linearGradient id="g88"><stop offset="0" stop-color="#000093"/><stop offset="0.03" stop-color="#000096"/><stop offset="0.03" stop-color="#00009b"/><stop offset="0.04" stop-color="#0003b6"/><stop offset="0.05" stop-color="#0108cf"/><stop offset="0.06" stop-color="#020cdb"/><stop offset="0.08" stop-color="#0513ee"/><stop offset="0.1" stop-color="#1335f6"/><stop offset="0.12" stop-color="#3579ff"/><stop offset="0.14" stop-color="#6ccaf3"/><stop offset="0.17" stop-color="#99e7e5"/><stop offset="0.22" stop-color="#b7e0ec"/><stop offset="0.28" stop-color="#c8dcf0"/><stop offset="0.39" stop-color="#d0dde8"/><stop offset="0.57" stop-color="#d7dee1"/><stop offset="1" stop-color="#dddedb"/></linearGradient><linearGradient id="g89"><stop offset="0" stop-color="#000095"/><stop offset="0.03" stop-color="#0001a1"/><stop offset="0.03" stop-color="#0002a7"/><stop offset="0.04" stop-color="#0005c5"/><stop offset="0.05" stop-color="#030fe3"/><stop offset="0.06" stop-color="#0a1ff2"/><stop offset="0.08" stop-color="#2153fc"/><stop offset="0.1" stop-color="#4999ff"/><stop offset="0.12" stop-color="#87ebe1"/><stop offset="0.14" stop-color="#cfdde9"/><stop offset="0.17" stop-color="#e7e0d1"/><stop offset="0.22" stop-color="#ecd4ba"/><stop offset="0.28" stop-color="#eec8a7"/><stop offset="0.39" stop-color="#efbb91"/><stop offset="0.57" stop-color="#eeaa81"/><stop offset="1" stop-color="#e99877"/></linearGradient><linearGradient id="g90"><stop offset="0" stop-color="#000092"/><stop offset="0.03" stop-color="#000092"/><stop offset="0.03" stop-color="#000096"/><stop offset="0.04" stop-color="#0003b3"/><stop offset="0.05" stop-color="#0006cb"/><stop offset="0.06" stop-color="#0109d2"/><stop offset="0.08" stop-color="#0109d3"/><stop offset="0.1" stop-color="#0109d2"/><stop offset="0.12" stop-color="#0108d0"/><stop offset="0.14" stop-color="#0107ce"/><stop offset="0.17" stop-color="#0006cb"/><stop offset="0.22" stop-color="#0005c8"/><stop offset="0.28" stop-color="#0004c3"/><stop offset="0.39" stop-color="#0004bc"/><stop offset="0.57" stop-color="#0003b4"/><stop offset="1" stop-color="#0002ab"/></linearGradient><linearGradient id="g91"><stop offset="0" stop-color="#000094"/><stop offset="0.03" stop-color="#00019c"/><stop offset="0.03" stop-color="#0001a2"/><stop offset="0.04" stop-color="#0004c0"/><stop offset="0.05" stop-color="#030ddc"/><stop offset="0.06" stop-color="#0513ee"/><stop offset="0.08" stop-color="#1538f7"/><stop offset="0.1" stop-color="#2e6dff"/><stop offset="0.12" stop-color="#5db7fd"/><stop offset="0.14" stop-color="#89ebe1"/><stop offset="0.17" stop-color="#abe3e9"/><stop offset="0.22" stop-color="#bfdeee"/><stop offset="0.28" stop-color="#cadcee"/><stop offset="0.39" stop-color="#d2dde6"/><stop offset="0.57" stop-color="#d8dee0"/><stop offset="1" stop-color="#dddedb"/></linearGradient><linearGradient id="g92"><stop offset="0" stop-color="#000098"/><stop offset="0.03" stop-color="#0003b4"/><stop offset="0.03" stop-color="#0004bb"/><stop offset="0.04" stop-color="#020cdb"/><stop offset="0.05" stop-color="#0e2af4"/><stop offset="0.06" stop-color="#2153fc"/><stop offset="0.08" stop-color="#4b9cff"/><stop offset="0.1" stop-color="#7cdee8"/><stop offset="0.12" stop-color="#c2ddef"/><stop offset="0.14" stop-color="#e0dfd8"/><stop offset="0.17" stop-color="#ecdbc6"/><stop offset="0.22" stop-color="#edcfb3"/><stop offset="0.28" stop-color="#eec5a1"/><stop offset="0.39" stop-color="#f0b88e"/><stop offset="0.57" stop-color="#eda780"/><stop offset="1" stop-color="#e99777"/></linearGradient><linearGradient id="g93"><stop offset="0" stop-color="#000094"/><stop offset="0.03" stop-color="#00019c"/><stop offset="0.03" stop-color="#0001a2"/><stop offset="0.04" stop-color="#0004c1"/><stop offset="0.05" stop-color="#030dde"/><stop offset="0.06" stop-color="#0514f0"/><stop offset="0.08" stop-color="#163af7"/><stop offset="0.1" stop-color="#2f6fff"/><stop offset="0.12" stop-color="#5eb8fd"/><stop offset="0.14" stop-color="#8aeae2"/><stop offset="0.17" stop-color="#ace2ea"/><stop offset="0.22" stop-color="#bfdeee"/><stop offset="0.28" stop-color="#cbdced"/><stop offset="0.39" stop-color="#d2dde6"/><stop offset="0.57" stop-color="#d9dedf"/><stop offset="1" stop-color="#dddedb"/></linearGradient><linearGradient id="g94"><stop offset="0" stop-color="#000098"/><stop offset="0.03" stop-color="#0003b4"/><stop offset="0.03" stop-color="#0004bb"/><stop offset="0.04" stop-color="#020cdc"/><stop offset="0.05" stop-color="#0f2bf4"/><stop offset="0.06" stop-color="#2255fc"/><stop offset="0.08" stop-color="#4c9dff"/><stop offset="0.1" stop-color="#7ddfe8"/><stop offset="0.12" stop-color="#c3ddef"/><stop offset="0.14" stop-color="#e1dfd7"/><stop offset="0.17" stop-color="#ecdbc5"/><stop offset="0.22" stop-color="#edcfb2"/><stop offset="0.28" stop-color="#eec4a1"/><stop offset="0.39" stop-color="#f0b88d"/><stop offset="0.57" stop-color="#eda77f"/><stop offset="1" stop-color="#e99776"/></linearGradient><linearGradient id="g95"><stop offset="0" stop-color="#000092"/><stop offset="0.03" stop-color="#000092"/><stop offset="0.03" stop-color="#000097"/><stop offset="0.04" stop-color="#0004bb"/><stop offset="0.05" stop-color="#020ad6"/><stop offset="0.06" stop-color="#030dde"/><stop offset="0.08" stop-color="#030edf"/><stop offset="0.1" stop-color="#030ddd"/><stop offset="0.12" stop-color="#020cda"/><stop offset="0.14" stop-color="#020bd7"/><stop offset="0.17" stop-color="#0109d3"/><stop offset="0.22" stop-color="#0108cf"/><stop offset="0.28" stop-color="#0006ca"/><stop offset="0.39" stop-color="#0004c3"/><stop offset="0.57" stop-color="#0004bb"/><stop offset="1" stop-color="#0003b1"/></linearGradient><linearGradient id="g96"><stop offset="0" stop-color="#000094"/><stop offset="0.03" stop-color="#00019c"/><stop offset="0.03" stop-color="#0001a2"/><stop offset="0.04" stop-color="#0004c2"/><stop offset="0.05" stop-color="#030edf"/><stop offset="0.06" stop-color="#0616f0"/><stop offset="0.08" stop-color="#163cf7"/><stop offset="0.1" stop-color="#3071ff"/><stop offset="0.12" stop-color="#5fbafc"/><stop offset="0.14" stop-color="#8beae2"/><stop offset="0.17" stop-color="#ade2ea"/><stop offset="0.22" stop-color="#c0deee"/><stop offset="0.28" stop-color="#cbdced"/><stop offset="0.39" stop-color="#d2dde6"/><stop offset="0.57" stop-color="#d9dedf"/><stop offset="1" stop-color="#dededa"/></linearGradient><linearGradient id="g97"><stop offset="0" stop-color="#000098"/><stop offset="0.03" stop-color="#0003b4"/><stop offset="0.03" stop-color="#0004bb"/><stop offset="0.04" stop-color="#030ddd"/><stop offset="0.05" stop-color="#102df5"/><stop offset="0.06" stop-color="#2257fd"/><stop offset="0.08" stop-color="#4d9fff"/><stop offset="0.1" stop-color="#7ee0e7"/><stop offset="0.12" stop-color="#c5ddef"/><stop offset="0.14" stop-color="#e1dfd7"/><stop offset="0.17" stop-color="#ecdac4"/><stop offset="0.22" stop-color="#edcfb1"/><stop offset="0.28" stop-color="#eec4a0"/><stop offset="0.39" stop-color="#f0b88d"/><stop offset="0.57" stop-color="#eda67f"/><stop offset="1" stop-color="#e99676"/></linearGradient><linearGradient id="g98"><stop offset="0" stop-color="#000092"/><stop offset="0.03" stop-color="#000092"/><stop offset="0.03" stop-color="#00019d"/><stop offset="0.04" stop-color="#020ad7"/><stop offset="0.05" stop-color="#0f2bf4"/><stop offset="0.06" stop-color="#173df8"/><stop offset="0.08" stop-color="#1a44f9"/><stop offset="0.1" stop-color="#1a44f9"/><stop offset="0.12" stop-color="#1942f9"/><stop offset="0.14" stop-color="#1538f7"/><stop offset="0.17" stop-color="#102df5"/><stop offset="0.22" stop-color="#0a20f2"/><stop offset="0.28" stop-color="#0514ef"/><stop offset="0.39" stop-color="#030fe3"/><stop offset="0.57" stop-color="#020bd9"/><stop offset="1" stop-color="#0108d0"/></linearGradient><linearGradient id="g99"><stop offset="0" stop-color="#000094"/><stop offset="0.03" stop-color="#00019c"/><stop offset="0.03" stop-color="#0001a4"/><stop offset="0.04" stop-color="#020cdb"/><stop offset="0.05" stop-color="#1232f6"/><stop offset="0.06" stop-color="#1c48fa"/><stop offset="0.08" stop-color="#245afd"/><stop offset="0.1" stop-color="#3b83ff"/><stop offset="0.12" stop-color="#69c6f5"/><stop offset="0.14" stop-color="#97e7e5"/><stop offset="0.17" stop-color="#b8e0ec"/><stop offset="0.22" stop-color="#c9dcef"/><stop offset="0.28" stop-color="#cfdde9"/><stop offset="0.39" stop-color="#d6dee2"/><stop offset="0.57" stop-color="#dcdedc"/><stop offset="1" stop-color="#e0dfd8"/></linearGradient><linearGradient id="g100"><stop offset="0" stop-color="#000098"/><stop offset="0.03" stop-color="#0003b4"/><stop offset="0.03" stop-color="#0004bd"/><stop offset="0.04" stop-color="#0410e4"/><stop offset="0.05" stop-color="#183ff8"/><stop offset="0.06" stop-color="#2b69ff"/><stop offset="0.08" stop-color="#58b1ff"/><stop offset="0.1" stop-color="#89ebe1"/><stop offset="0.12" stop-color="#cdddeb"/><stop offset="0.14" stop-color="#e7e0d1"/><stop offset="0.17" stop-color="#ecd4ba"/><stop offset="0.22" stop-color="#eec9a9"/><stop offset="0.28" stop-color="#efbf99"/><stop offset="0.39" stop-color="#f0b487"/><stop offset="0.57" stop-color="#eba07b"/><stop offset="1" stop-color="#e79073"/></linearGradient><linearGradient id="g101"><stop offset="0" stop-color="#000092"/><stop offset="0.03" stop-color="#000092"/><stop offset="0.03" stop-color="#00019d"/><stop offset="0.04" stop-color="#020cda"/><stop offset="0.05" stop-color="#1231f5"/><stop offset="0.06" stop-color="#1a44f9"/><stop offset="0.08" stop-color="#1d4bfa"/><stop offset="0.1" stop-color="#1d4afa"/><stop offset="0.12" stop-color="#1c48fa"/><stop offset="0.14" stop-color="#173df8"/><stop offset="0.17" stop-color="#1232f6"/><stop offset="0.22" stop-color="#0c24f3"/><stop offset="0.28" stop-color="#0616f0"/><stop offset="0.39" stop-color="#0410e6"/><stop offset="0.57" stop-color="#020cdc"/><stop offset="1" stop-color="#0109d3"/></linearGradient><linearGradient id="g102"><stop offset="0" stop-color="#000092"/><stop offset="0.03" stop-color="#000092"/><stop offset="0.03" stop-color="#00019e"/><stop offset="0.04" stop-color="#030ddd"/><stop offset="0.05" stop-color="#1437f7"/><stop offset="0.06" stop-color="#1d4afa"/><stop offset="0.08" stop-color="#2051fc"/><stop offset="0.1" stop-color="#2051fb"/><stop offset="0.12" stop-color="#1e4efb"/><stop offset="0.14" stop-color="#1942f9"/><stop offset="0.17" stop-color="#1436f6"/><stop offset="0.22" stop-color="#0e29f4"/><stop offset="0.28" stop-color="#081af1"/><stop offset="0.39" stop-color="#0411e8"/><stop offset="0.57" stop-color="#030dde"/><stop offset="1" stop-color="#020ad5"/></linearGradient><linearGradient id="g103"><stop offset="0" stop-color="#000092"/><stop offset="0.03" stop-color="#000092"/><stop offset="0.03" stop-color="#00019f"/><stop offset="0.04" stop-color="#030ee0"/><stop offset="0.05" stop-color="#173df8"/><stop offset="0.06" stop-color="#2051fc"/><stop offset="0.08" stop-color="#2358fd"/><stop offset="0.1" stop-color="#2257fd"/><stop offset="0.12" stop-color="#2154fc"/><stop offset="0.14" stop-color="#1c48fa"/><stop offset="0.17" stop-color="#163bf7"/><stop offset="0.22" stop-color="#102df5"/><stop offset="0.28" stop-color="#091ef2"/><stop offset="0.39" stop-color="#0412eb"/><stop offset="0.57" stop-color="#030ee1"/><stop offset="1" stop-color="#020bd8"/></linearGradient><linearGradient id="g104"><stop offset="0" stop-color="#000092"/><stop offset="0.03" stop-color="#000092"/><stop offset="0.03" stop-color="#0002a6"/><stop offset="0.04" stop-color="#102cf5"/><stop offset="0.05" stop-color="#3c84ff"/><stop offset="0.06" stop-color="#4ea1ff"/><stop offset="0.08" stop-color="#56aeff"/><stop offset="0.1" stop-color="#57afff"/><stop offset="0.12" stop-color="#56aeff"/><stop offset="0.14" stop-color="#4694ff"/><stop offset="0.17" stop-color="#3579ff"/><stop offset="0.22" stop-color="#245bfd"/><stop offset="0.28" stop-color="#1538f7"/><stop offset="0.39" stop-color="#0718f1"/><stop offset="0.57" stop-color="#030ee1"/><stop offset="1" stop-color="#020ad5"/></linearGradient><linearGradient id="g105"><stop offset="0" stop-color="#000094"/><stop offset="0.03" stop-color="#00019c"/><stop offset="0.03" stop-color="#0002aa"/><stop offset="0.04" stop-color="#1231f5"/><stop offset="0.05" stop-color="#408bff"/><stop offset="0.06" stop-color="#54abff"/><stop offset="0.08" stop-color="#61bdfa"/><stop offset="0.1" stop-color="#6ac8f4"/><stop offset="0.12" stop-color="#7bdce9"/><stop offset="0.14" stop-color="#aae3e9"/><stop offset="0.17" stop-color="#c7dcf0"/><stop offset="0.22" stop-color="#ceddea"/><stop offset="0.28" stop-color="#d2dde6"/><stop offset="0.39" stop-color="#d7dee1"/><stop offset="0.57" stop-color="#dddedb"/><stop offset="1" stop-color="#e1dfd7"/></linearGradient><linearGradient id="g106"><stop offset="0" stop-color="#000098"/><stop offset="0.03" stop-color="#0003b4"/><stop offset="0.03" stop-color="#0004c0"/><stop offset="0.04" stop-color="#1539f7"/><stop offset="0.05" stop-color="#4796ff"/><stop offset="0.06" stop-color="#5fbafc"/><stop offset="0.08" stop-color="#71d0ef"/><stop offset="0.1" stop-color="#9fe5e7"/><stop offset="0.12" stop-color="#d8dee0"/><stop offset="0.14" stop-color="#ecdac4"/><stop offset="0.17" stop-color="#edccad"/><stop offset="0.22" stop-color="#eec39f"/><stop offset="0.28" stop-color="#efbb93"/><stop offset="0.39" stop-color="#efb085"/><stop offset="0.57" stop-color="#eb9e7b"/><stop offset="1" stop-color="#e78f72"/></linearGradient><linearGradient id="g107"><stop offset="0" stop-color="#000092"/><stop offset="0.03" stop-color="#000092"/><stop offset="0.03" stop-color="#0002a7"/><stop offset="0.04" stop-color="#1130f5"/><stop offset="0.05" stop-color="#408aff"/><stop offset="0.06" stop-color="#52a7ff"/><stop offset="0.08" stop-color="#5ab4ff"/><stop offset="0.1" stop-color="#5ab4ff"/><stop offset="0.12" stop-color="#59b3ff"/><stop offset="0.14" stop-color="#4999ff"/><stop offset="0.17" stop-color="#387eff"/><stop offset="0.22" stop-color="#265ffe"/><stop offset="0.28" stop-color="#163cf7"/><stop offset="0.39" stop-color="#081bf1"/><stop offset="0.57" stop-color="#030fe3"/><stop offset="1" stop-color="#020bd7"/></linearGradient><linearGradient id="g108"><stop offset="0" stop-color="#000092"/><stop offset="0.03" stop-color="#000092"/><stop offset="0.03" stop-color="#0002a8"/><stop offset="0.04" stop-color="#1334f6"/><stop offset="0.05" stop-color="#438fff"/><stop offset="0.06" stop-color="#56adff"/><stop offset="0.08" stop-color="#5db8fd"/><stop offset="0.1" stop-color="#5eb8fd"/><stop offset="0.12" stop-color="#5cb7fd"/><stop offset="0.14" stop-color="#4c9eff"/><stop offset="0.17" stop-color="#3b82ff"/><stop offset="0.22" stop-color="#2863ff"/><stop offset="0.28" stop-color="#1840f8"/><stop offset="0.39" stop-color="#0a1ff2"/><stop offset="0.57" stop-color="#0410e6"/><stop offset="1" stop-color="#020cda"/></linearGradient><linearGradient id="g109"><stop offset="0" stop-color="#000092"/><stop offset="0.03" stop-color="#000092"/><stop offset="0.03" stop-color="#0002a9"/><stop offset="0.04" stop-color="#1538f7"/><stop offset="0.05" stop-color="#4695ff"/><stop offset="0.06" stop-color="#5ab3ff"/><stop offset="0.08" stop-color="#61bcfb"/><stop offset="0.1" stop-color="#61bcfb"/><stop offset="0.12" stop-color="#5fbafb"/><stop offset="0.14" stop-color="#4fa2ff"/><stop offset="0.17" stop-color="#3d86ff"/><stop offset="0.22" stop-color="#2a67ff"/><stop offset="0.28" stop-color="#1a43f9"/><stop offset="0.39" stop-color="#0b22f3"/><stop offset="0.57" stop-color="#0411e8"/><stop offset="1" stop-color="#030ddc"/></linearGradient><linearGradient id="g110"><stop offset="0" stop-color="#000092"/><stop offset="0.03" stop-color="#000092"/><stop offset="0.03" stop-color="#0003b7"/><stop offset="0.04" stop-color="#397fff"/><stop offset="0.05" stop-color="#8beae2"/><stop offset="0.06" stop-color="#b0e2ea"/><stop offset="0.08" stop-color="#c0deee"/><stop offset="0.1" stop-color="#c2ddef"/><stop offset="0.12" stop-color="#c2ddef"/><stop offset="0.14" stop-color="#9be6e6"/><stop offset="0.17" stop-color="#78d8eb"/><stop offset="0.22" stop-color="#55acff"/><stop offset="0.28" stop-color="#2f6fff"/><stop offset="0.39" stop-color="#1232f6"/><stop offset="0.57" stop-color="#0411e8"/><stop offset="1" stop-color="#020bd7"/></linearGradient><linearGradient id="g111"><stop offset="0" stop-color="#000094"/><stop offset="0.03" stop-color="#00019c"/><stop offset="0.03" stop-color="#0004ba"/><stop offset="0.04" stop-color="#3b83ff"/><stop offset="0.05" stop-color="#90e9e3"/><stop offset="0.06" stop-color="#b7e0ec"/><stop offset="0.08" stop-color="#cbdced"/><stop offset="0.1" stop-color="#d1dde7"/><stop offset="0.12" stop-color="#d9dedf"/><stop offset="0.14" stop-color="#cfdde9"/><stop offset="0.17" stop-color="#d3dde5"/><stop offset="0.22" stop-color="#d7dee1"/><stop offset="0.28" stop-color="#d8dee0"/><stop offset="0.39" stop-color="#dadede"/><stop offset="0.57" stop-color="#dddedb"/><stop offset="1" stop-color="#e1dfd7"/></linearGradient><linearGradient id="g112"><stop offset="0" stop-color="#000098"/><stop offset="0.03" stop-color="#0003b4"/><stop offset="0.03" stop-color="#0005c5"/><stop offset="0.04" stop-color="#408aff"/><stop offset="0.05" stop-color="#98e7e5"/><stop offset="0.06" stop-color="#c3ddef"/><stop offset="0.08" stop-color="#d5dde3"/><stop offset="0.1" stop-color="#dfdfd9"/><stop offset="0.12" stop-color="#e9e0cf"/><stop offset="0.14" stop-color="#eec9a9"/><stop offset="0.17" stop-color="#efbf98"/><stop offset="0.22" stop-color="#efba90"/><stop offset="0.28" stop-color="#f0b589"/><stop offset="0.39" stop-color="#eeab82"/><stop offset="0.57" stop-color="#ea9c7a"/><stop offset="1" stop-color="#e78f72"/></linearGradient><linearGradient id="g113"><stop offset="0" stop-color="#000092"/><stop offset="0.03" stop-color="#000092"/><stop offset="0.03" stop-color="#0003b7"/><stop offset="0.04" stop-color="#3b82ff"/><stop offset="0.05" stop-color="#8fe9e3"/><stop offset="0.06" stop-color="#b4e1eb"/><stop offset="0.08" stop-color="#c4ddef"/><stop offset="0.1" stop-color="#c6dcf0"/><stop offset="0.12" stop-color="#c5ddef"/><stop offset="0.14" stop-color="#9ee6e6"/><stop offset="0.17" stop-color="#7adbea"/><stop offset="0.22" stop-color="#57b0ff"/><stop offset="0.28" stop-color="#3172ff"/><stop offset="0.39" stop-color="#1435f6"/><stop offset="0.57" stop-color="#0412eb"/><stop offset="1" stop-color="#020cda"/></linearGradient><linearGradient id="g114"><stop offset="0" stop-color="#000092"/><stop offset="0.03" stop-color="#000092"/><stop offset="0.03" stop-color="#0003b8"/><stop offset="0.04" stop-color="#3d85ff"/><stop offset="0.05" stop-color="#93e8e4"/><stop offset="0.06" stop-color="#b8e0ec"/><stop offset="0.08" stop-color="#c8dcf0"/><stop offset="0.1" stop-color="#c9dcef"/><stop offset="0.12" stop-color="#c9dcef"/><stop offset="0.14" stop-color="#a2e5e7"/><stop offset="0.17" stop-color="#7cdee8"/><stop offset="0.22" stop-color="#5ab4ff"/><stop offset="0.28" stop-color="#3376ff"/><stop offset="0.39" stop-color="#1539f7"/><stop offset="0.57" stop-color="#0513ee"/><stop offset="1" stop-color="#030ddc"/></linearGradient><linearGradient id="g115"><stop offset="0" stop-color="#000092"/><stop offset="0.03" stop-color="#000092"/><stop offset="0.03" stop-color="#0003b9"/><stop offset="0.04" stop-color="#3f89ff"/><stop offset="0.05" stop-color="#97e7e5"/><stop offset="0.06" stop-color="#bddfed"/><stop offset="0.08" stop-color="#cadcee"/><stop offset="0.1" stop-color="#cbdced"/><stop offset="0.12" stop-color="#cadcee"/><stop offset="0.14" stop-color="#a5e4e8"/><stop offset="0.17" stop-color="#7fe1e7"/><stop offset="0.22" stop-color="#5cb6fe"/><stop offset="0.28" stop-color="#3579ff"/><stop offset="0.39" stop-color="#163cf7"/><stop offset="0.57" stop-color="#0514f0"/><stop offset="1" stop-color="#030edf"/></linearGradient><linearGradient id="g116"><stop offset="0" stop-color="#050073"/><stop offset="0.03" stop-color="#050073"/><stop offset="0.03" stop-color="#0005c4"/><stop offset="0.04" stop-color="#0513ed"/><stop offset="0.05" stop-color="#0a1ef2"/><stop offset="0.06" stop-color="#091ef2"/><stop offset="0.08" stop-color="#081cf1"/><stop offset="0.1" stop-color="#081af1"/><stop offset="0.12" stop-color="#0513ee"/><stop offset="0.14" stop-color="#0410e6"/><stop offset="0.17" stop-color="#030dde"/><stop offset="0.22" stop-color="#020ad6"/><stop offset="0.28" stop-color="#0107cd"/><stop offset="0.39" stop-color="#0004c2"/><stop offset="0.57" stop-color="#0003b9"/><stop offset="1" stop-color="#0003af"/></linearGradient><linearGradient id="g117"><stop offset="0" stop-color="#050076"/><stop offset="0.03" stop-color="#03007e"/><stop offset="0.03" stop-color="#0107ce"/><stop offset="0.04" stop-color="#0718f1"/><stop offset="0.05" stop-color="#0f2af4"/><stop offset="0.06" stop-color="#1231f5"/><stop offset="0.08" stop-color="#255efe"/><stop offset="0.1" stop-color="#52a7ff"/><stop offset="0.12" stop-color="#8ee9e3"/><stop offset="0.14" stop-color="#ccdcec"/><stop offset="0.17" stop-color="#dddedb"/><stop offset="0.22" stop-color="#e6dfd2"/><stop offset="0.28" stop-color="#ebe0cd"/><stop offset="0.39" stop-color="#ecdac3"/><stop offset="0.57" stop-color="#ecd4bb"/><stop offset="1" stop-color="#edd0b4"/></linearGradient><linearGradient id="g118"><stop offset="0" stop-color="#040079"/><stop offset="0.03" stop-color="#01008d"/><stop offset="0.03" stop-color="#030fe3"/><stop offset="0.04" stop-color="#0b21f2"/><stop offset="0.05" stop-color="#1840f8"/><stop offset="0.06" stop-color="#2b68ff"/><stop offset="0.08" stop-color="#5bb5ff"/><stop offset="0.1" stop-color="#91e9e3"/><stop offset="0.12" stop-color="#d0dde8"/><stop offset="0.14" stop-color="#e8e0d0"/><stop offset="0.17" stop-color="#ecd5bb"/><stop offset="0.22" stop-color="#edcbab"/><stop offset="0.28" stop-color="#eec19c"/><stop offset="0.39" stop-color="#f0b78b"/><stop offset="0.57" stop-color="#eda77f"/><stop offset="1" stop-color="#e99877"/></linearGradient><linearGradient id="g119"><stop offset="0" stop-color="#050073"/><stop offset="0.03" stop-color="#050073"/><stop offset="0.03" stop-color="#0005c8"/><stop offset="0.04" stop-color="#091df2"/><stop offset="0.05" stop-color="#102ef5"/><stop offset="0.06" stop-color="#102df5"/><stop offset="0.08" stop-color="#0f2af4"/><stop offset="0.1" stop-color="#0d27f3"/><stop offset="0.12" stop-color="#091df2"/><stop offset="0.14" stop-color="#0514ef"/><stop offset="0.17" stop-color="#0411e7"/><stop offset="0.22" stop-color="#030ddd"/><stop offset="0.28" stop-color="#0109d3"/><stop offset="0.39" stop-color="#0005c9"/><stop offset="0.57" stop-color="#0004bf"/><stop offset="1" stop-color="#0003b6"/></linearGradient><linearGradient id="g120"><stop offset="0" stop-color="#050073"/><stop offset="0.03" stop-color="#050073"/><stop offset="0.03" stop-color="#0006cb"/><stop offset="0.04" stop-color="#0f2af4"/><stop offset="0.05" stop-color="#173df8"/><stop offset="0.06" stop-color="#163cf7"/><stop offset="0.08" stop-color="#1537f7"/><stop offset="0.1" stop-color="#1333f6"/><stop offset="0.12" stop-color="#0e29f4"/><stop offset="0.14" stop-color="#091ef2"/><stop offset="0.17" stop-color="#0514ef"/><stop offset="0.22" stop-color="#0410e5"/><stop offset="0.28" stop-color="#020cda"/><stop offset="0.39" stop-color="#0108cf"/><stop offset="0.57" stop-color="#0005c5"/><stop offset="1" stop-color="#0004bc"/></linearGradient><linearGradient id="g121"><stop offset="0" stop-color="#050073"/><stop offset="0.03" stop-color="#050073"/><stop offset="0.03" stop-color="#0107cd"/><stop offset="0.04" stop-color="#1437f7"/><stop offset="0.05" stop-color="#1e4dfb"/><stop offset="0.06" stop-color="#1d4bfa"/><stop offset="0.08" stop-color="#1b45f9"/><stop offset="0.1" stop-color="#1840f8"/><stop offset="0.12" stop-color="#1335f6"/><stop offset="0.14" stop-color="#0e28f4"/><stop offset="0.17" stop-color="#091df2"/><stop offset="0.22" stop-color="#0513ec"/><stop offset="0.28" stop-color="#030ee0"/><stop offset="0.39" stop-color="#020ad4"/><stop offset="0.57" stop-color="#0006cb"/><stop offset="1" stop-color="#0004c2"/></linearGradient><linearGradient id="g122"><stop offset="0" stop-color="#050073"/><stop offset="0.03" stop-color="#050073"/><stop offset="0.03" stop-color="#0109d2"/><stop offset="0.04" stop-color="#1f50fb"/><stop offset="0.05" stop-color="#2e6eff"/><stop offset="0.06" stop-color="#2f6fff"/><stop offset="0.08" stop-color="#2e6dff"/><stop offset="0.1" stop-color="#2d6cff"/><stop offset="0.12" stop-color="#2358fd"/><stop offset="0.14" stop-color="#1941f8"/><stop offset="0.17" stop-color="#0f2cf4"/><stop offset="0.22" stop-color="#0616f0"/><stop offset="0.28" stop-color="#030dde"/><stop offset="0.39" stop-color="#0107cd"/><stop offset="0.57" stop-color="#0004c0"/><stop offset="1" stop-color="#0003b6"/></linearGradient><linearGradient id="g123"><stop offset="0" stop-color="#050076"/><stop offset="0.03" stop-color="#03007e"/><stop offset="0.03" stop-color="#020bd7"/><stop offset="0.04" stop-color="#2358fd"/><stop offset="0.05" stop-color="#3579ff"/><stop offset="0.06" stop-color="#3980ff"/><stop offset="0.08" stop-color="#428dff"/><stop offset="0.1" stop-color="#5fbafc"/><stop offset="0.12" stop-color="#9be6e6"/><stop offset="0.14" stop-color="#d1dde7"/><stop offset="0.17" stop-color="#e1dfd7"/><stop offset="0.22" stop-color="#e9e0cf"/><stop offset="0.28" stop-color="#ebdeca"/><stop offset="0.39" stop-color="#ecd9c2"/><stop offset="0.57" stop-color="#ecd4b9"/><stop offset="1" stop-color="#edcfb3"/></linearGradient><linearGradient id="g124"><stop offset="0" stop-color="#040079"/><stop offset="0.03" stop-color="#01008d"/><stop offset="0.03" stop-color="#0411e7"/><stop offset="0.04" stop-color="#2761fe"/><stop offset="0.05" stop-color="#3d85ff"/><stop offset="0.06" stop-color="#4491ff"/><stop offset="0.08" stop-color="#67c4f6"/><stop offset="0.1" stop-color="#a0e5e7"/><stop offset="0.12" stop-color="#d6dee2"/><stop offset="0.14" stop-color="#ebdec9"/><stop offset="0.17" stop-color="#edd0b4"/><stop offset="0.22" stop-color="#eec7a6"/><stop offset="0.28" stop-color="#efbf99"/><stop offset="0.39" stop-color="#f0b68a"/><stop offset="0.57" stop-color="#eda57f"/><stop offset="1" stop-color="#e99776"/></linearGradient><linearGradient id="g125"><stop offset="0" stop-color="#050073"/><stop offset="0.03" stop-color="#050073"/><stop offset="0.03" stop-color="#020ad5"/><stop offset="0.04" stop-color="#255dfe"/><stop offset="0.05" stop-color="#377cff"/><stop offset="0.06" stop-color="#377cff"/><stop offset="0.08" stop-color="#357aff"/><stop offset="0.1" stop-color="#3477ff"/><stop offset="0.12" stop-color="#2863ff"/><stop offset="0.14" stop-color="#1d4bfa"/><stop offset="0.17" stop-color="#1435f6"/><stop offset="0.22" stop-color="#091ef2"/><stop offset="0.28" stop-color="#0410e5"/><stop offset="0.39" stop-color="#0109d3"/><stop offset="0.57" stop-color="#0005c6"/><stop offset="1" stop-color="#0004bc"/></linearGradient><linearGradient id="g126"><stop offset="0" stop-color="#050073"/><stop offset="0.03" stop-color="#050073"/><stop offset="0.03" stop-color="#020bd8"/><stop offset="0.04" stop-color="#2b69ff"/><stop offset="0.05" stop-color="#3f89ff"/><stop offset="0.06" stop-color="#3f89ff"/><stop offset="0.08" stop-color="#3d86ff"/><stop offset="0.1" stop-color="#3b82ff"/><stop offset="0.12" stop-color="#2e6eff"/><stop offset="0.14" stop-color="#2256fc"/><stop offset="0.17" stop-color="#183ff8"/><stop offset="0.22" stop-color="#0d27f3"/><stop offset="0.28" stop-color="#0412eb"/><stop offset="0.39" stop-color="#020bd8"/><stop offset="0.57" stop-color="#0006cc"/><stop offset="1" stop-color="#0004c2"/></linearGradient><linearGradient id="g127"><stop offset="0" stop-color="#050073"/><stop offset="0.03" stop-color="#050073"/><stop offset="0.03" stop-color="#020cda"/><stop offset="0.04" stop-color="#3275ff"/><stop offset="0.05" stop-color="#4897ff"/><stop offset="0.06" stop-color="#4796ff"/><stop offset="0.08" stop-color="#4592ff"/><stop offset="0.1" stop-color="#428dff"/><stop offset="0.12" stop-color="#3478ff"/><stop offset="0.14" stop-color="#2761fe"/><stop offset="0.17" stop-color="#1c49fa"/><stop offset="0.22" stop-color="#112ff5"/><stop offset="0.28" stop-color="#0616f0"/><stop offset="0.39" stop-color="#030dde"/><stop offset="0.57" stop-color="#0108d1"/><stop offset="1" stop-color="#0005c8"/></linearGradient><linearGradient id="g128"><stop offset="0" stop-color="#050073"/><stop offset="0.03" stop-color="#050073"/><stop offset="0.03" stop-color="#0411e7"/><stop offset="0.04" stop-color="#55acff"/><stop offset="0.05" stop-color="#72d2ef"/><stop offset="0.06" stop-color="#74d4ee"/><stop offset="0.08" stop-color="#73d3ee"/><stop offset="0.1" stop-color="#72d1ef"/><stop offset="0.12" stop-color="#5db8fd"/><stop offset="0.14" stop-color="#4592ff"/><stop offset="0.17" stop-color="#2e6dff"/><stop offset="0.22" stop-color="#1a43f9"/><stop offset="0.28" stop-color="#081af1"/><stop offset="0.39" stop-color="#020bd7"/><stop offset="0.57" stop-color="#0005c5"/><stop offset="1" stop-color="#0003b9"/></linearGradient><linearGradient id="g129"><stop offset="0" stop-color="#050076"/><stop offset="0.03" stop-color="#03007e"/><stop offset="0.03" stop-color="#0513ec"/><stop offset="0.04" stop-color="#59b3ff"/><stop offset="0.05" stop-color="#78d9eb"/><stop offset="0.06" stop-color="#7ddfe8"/><stop offset="0.08" stop-color="#85e8e3"/><stop offset="0.1" stop-color="#93e8e4"/><stop offset="0.12" stop-color="#b0e2ea"/><stop offset="0.14" stop-color="#d9dedf"/><stop offset="0.17" stop-color="#e7e0d1"/><stop offset="0.22" stop-color="#ebdeca"/><stop offset="0.28" stop-color="#ecdbc6"/><stop offset="0.39" stop-color="#ecd8c0"/><stop offset="0.57" stop-color="#ecd3b9"/><stop offset="1" stop-color="#edcfb2"/></linearGradient><linearGradient id="g130"><stop offset="0" stop-color="#040079"/><stop offset="0.03" stop-color="#01008d"/><stop offset="0.03" stop-color="#0617f1"/><stop offset="0.04" stop-color="#5eb9fc"/><stop offset="0.05" stop-color="#7fe1e6"/><stop offset="0.06" stop-color="#87ebe1"/><stop offset="0.08" stop-color="#97e7e5"/><stop offset="0.1" stop-color="#b9dfed"/><stop offset="0.12" stop-color="#e0dfd8"/><stop offset="0.14" stop-color="#ecd4bb"/><stop offset="0.17" stop-color="#eec9a9"/><stop offset="0.22" stop-color="#eec39e"/><stop offset="0.28" stop-color="#efbd95"/><stop offset="0.39" stop-color="#f0b488"/><stop offset="0.57" stop-color="#eca47e"/><stop offset="1" stop-color="#e99676"/></linearGradient><linearGradient id="g131"><stop offset="0" stop-color="#050073"/><stop offset="0.03" stop-color="#050073"/><stop offset="0.03" stop-color="#0412ea"/><stop offset="0.04" stop-color="#5cb6fe"/><stop offset="0.05" stop-color="#7adbea"/><stop offset="0.06" stop-color="#7bdde9"/><stop offset="0.08" stop-color="#7adbea"/><stop offset="0.1" stop-color="#78d9eb"/><stop offset="0.12" stop-color="#63bff9"/><stop offset="0.14" stop-color="#4a9bff"/><stop offset="0.17" stop-color="#3376ff"/><stop offset="0.22" stop-color="#1d4cfa"/><stop offset="0.28" stop-color="#0b21f3"/><stop offset="0.39" stop-color="#030ddd"/><stop offset="0.57" stop-color="#0006cb"/><stop offset="1" stop-color="#0004bf"/></linearGradient><linearGradient id="g132"><stop offset="0" stop-color="#050073"/><stop offset="0.03" stop-color="#050073"/><stop offset="0.03" stop-color="#0513ed"/><stop offset="0.04" stop-color="#62bef9"/><stop offset="0.05" stop-color="#81e4e5"/><stop offset="0.06" stop-color="#83e6e4"/><stop offset="0.08" stop-color="#81e3e5"/><stop offset="0.1" stop-color="#7ee1e7"/><stop offset="0.12" stop-color="#69c6f5"/><stop offset="0.14" stop-color="#50a4ff"/><stop offset="0.17" stop-color="#387eff"/><stop offset="0.22" stop-color="#2154fc"/><stop offset="0.28" stop-color="#0e29f4"/><stop offset="0.39" stop-color="#030fe2"/><stop offset="0.57" stop-color="#0108d0"/><stop offset="1" stop-color="#0005c5"/></linearGradient><linearGradient id="g133"><stop offset="0" stop-color="#050073"/><stop offset="0.03" stop-color="#050073"/><stop offset="0.03" stop-color="#0514ef"/><stop offset="0.04" stop-color="#69c6f5"/><stop offset="0.05" stop-color="#8aeae2"/><stop offset="0.06" stop-color="#8beae2"/><stop offset="0.08" stop-color="#87ebe1"/><stop offset="0.1" stop-color="#85e8e2"/><stop offset="0.12" stop-color="#6ecdf1"/><stop offset="0.14" stop-color="#56aeff"/><stop offset="0.17" stop-color="#3e86ff"/><stop offset="0.22" stop-color="#255dfe"/><stop offset="0.28" stop-color="#1130f5"/><stop offset="0.39" stop-color="#0411e8"/><stop offset="0.57" stop-color="#020ad5"/><stop offset="1" stop-color="#0006cb"/></linearGradient><linearGradient id="g134"><stop offset="0" stop-color="#050073"/><stop offset="0.03" stop-color="#050073"/><stop offset="0.03" stop-color="#0004bf"/><stop offset="0.04" stop-color="#020cda"/><stop offset="0.05" stop-color="#030fe2"/><stop offset="0.06" stop-color="#030ee1"/><stop offset="0.08" stop-color="#030edf"/><stop offset="0.1" stop-color="#030ddd"/><stop offset="0.12" stop-color="#020bd7"/><stop offset="0.14" stop-color="#0108cf"/><stop offset="0.17" stop-color="#0005c8"/><stop offset="0.22" stop-color="#0004be"/><stop offset="0.28" stop-color="#0003b4"/><stop offset="0.39" stop-color="#0002a8"/><stop offset="0.57" stop-color="#00019f"/><stop offset="1" stop-color="#000096"/></linearGradient><linearGradient id="g135"><stop offset="0" stop-color="#050074"/><stop offset="0.03" stop-color="#050076"/><stop offset="0.03" stop-color="#0004c0"/><stop offset="0.04" stop-color="#020cdc"/><stop offset="0.05" stop-color="#0410e4"/><stop offset="0.06" stop-color="#0410e5"/><stop offset="0.08" stop-color="#0411e8"/><stop offset="0.1" stop-color="#081af1"/><stop offset="0.12" stop-color="#2359fd"/><stop offset="0.14" stop-color="#59b2ff"/><stop offset="0.17" stop-color="#83e7e3"/><stop offset="0.22" stop-color="#9fe5e7"/><stop offset="0.28" stop-color="#ace2ea"/><stop offset="0.39" stop-color="#b8e0ec"/><stop offset="0.57" stop-color="#c3ddef"/><stop offset="1" stop-color="#c9dcef"/></linearGradient><linearGradient id="g136"><stop offset="0" stop-color="#050075"/><stop offset="0.03" stop-color="#04007b"/><stop offset="0.03" stop-color="#0005c7"/><stop offset="0.04" stop-color="#030edf"/><stop offset="0.05" stop-color="#0411e9"/><stop offset="0.06" stop-color="#0513ed"/><stop offset="0.08" stop-color="#1435f6"/><stop offset="0.1" stop-color="#3578ff"/><stop offset="0.12" stop-color="#73d2ef"/><stop offset="0.14" stop-color="#c9dcef"/><stop offset="0.17" stop-color="#e9e0cf"/><stop offset="0.22" stop-color="#eec9a8"/><stop offset="0.28" stop-color="#f0b386"/><stop offset="0.39" stop-color="#e5866c"/><stop offset="0.57" stop-color="#db5b54"/><stop offset="1" stop-color="#cc4045"/></linearGradient><linearGradient id="g137"><stop offset="0" stop-color="#050073"/><stop offset="0.03" stop-color="#050073"/><stop offset="0.03" stop-color="#0004c1"/><stop offset="0.04" stop-color="#030ee0"/><stop offset="0.05" stop-color="#0411e9"/><stop offset="0.06" stop-color="#0411e8"/><stop offset="0.08" stop-color="#0410e5"/><stop offset="0.1" stop-color="#030fe3"/><stop offset="0.12" stop-color="#020cdc"/><stop offset="0.14" stop-color="#0109d4"/><stop offset="0.17" stop-color="#0107cc"/><stop offset="0.22" stop-color="#0005c3"/><stop offset="0.28" stop-color="#0003b8"/><stop offset="0.39" stop-color="#0002ac"/><stop offset="0.57" stop-color="#0001a2"/><stop offset="1" stop-color="#000099"/></linearGradient><linearGradient id="g138"><stop offset="0" stop-color="#050073"/><stop offset="0.03" stop-color="#050073"/><stop offset="0.03" stop-color="#0004c2"/><stop offset="0.04" stop-color="#0410e6"/><stop offset="0.05" stop-color="#0514ef"/><stop offset="0.06" stop-color="#0513ee"/><stop offset="0.08" stop-color="#0412eb"/><stop offset="0.1" stop-color="#0411e9"/><stop offset="0.12" stop-color="#030ee1"/><stop offset="0.14" stop-color="#020bd9"/><stop offset="0.17" stop-color="#0108d1"/><stop offset="0.22" stop-color="#0005c8"/><stop offset="0.28" stop-color="#0004bc"/><stop offset="0.39" stop-color="#0003af"/><stop offset="0.57" stop-color="#0002a5"/><stop offset="1" stop-color="#00019c"/></linearGradient><linearGradient id="g139"><stop offset="0" stop-color="#050073"/><stop offset="0.03" stop-color="#050073"/><stop offset="0.03" stop-color="#0005c4"/><stop offset="0.04" stop-color="#0412eb"/><stop offset="0.05" stop-color="#081bf1"/><stop offset="0.06" stop-color="#071af1"/><stop offset="0.08" stop-color="#0616f0"/><stop offset="0.1" stop-color="#0513ee"/><stop offset="0.12" stop-color="#0410e6"/><stop offset="0.14" stop-color="#030ddd"/><stop offset="0.17" stop-color="#020ad5"/><stop offset="0.22" stop-color="#0006cb"/><stop offset="0.28" stop-color="#0004c0"/><stop offset="0.39" stop-color="#0003b3"/><stop offset="0.57" stop-color="#0002a8"/><stop offset="1" stop-color="#00019f"/></linearGradient><linearGradient id="g140"><stop offset="0" stop-color="#050073"/><stop offset="0.03" stop-color="#050073"/><stop offset="0.03" stop-color="#0107cc"/><stop offset="0.04" stop-color="#1333f6"/><stop offset="0.05" stop-color="#1d4bfa"/><stop offset="0.06" stop-color="#1d4bfa"/><stop offset="0.08" stop-color="#1c49fa"/><stop offset="0.1" stop-color="#1b47fa"/><stop offset="0.12" stop-color="#1334f6"/><stop offset="0.14" stop-color="#0a1ff2"/><stop offset="0.17" stop-color="#0411e9"/><stop offset="0.22" stop-color="#020bd7"/><stop offset="0.28" stop-color="#0005c4"/><stop offset="0.39" stop-color="#0003b0"/><stop offset="0.57" stop-color="#0001a3"/><stop offset="1" stop-color="#000098"/></linearGradient><linearGradient id="g141"><stop offset="0" stop-color="#050074"/><stop offset="0.03" stop-color="#050076"/><stop offset="0.03" stop-color="#0107cd"/><stop offset="0.04" stop-color="#1335f6"/><stop offset="0.05" stop-color="#1e4dfb"/><stop offset="0.06" stop-color="#1f50fb"/><stop offset="0.08" stop-color="#2052fc"/><stop offset="0.1" stop-color="#235afd"/><stop offset="0.12" stop-color="#2c6aff"/><stop offset="0.14" stop-color="#60bbfb"/><stop offset="0.17" stop-color="#89eae2"/><stop offset="0.22" stop-color="#a4e4e8"/><stop offset="0.28" stop-color="#afe2ea"/><stop offset="0.39" stop-color="#b9dfed"/><stop offset="0.57" stop-color="#c3ddef"/><stop offset="1" stop-color="#cadcee"/></linearGradient><linearGradient id="g142"><stop offset="0" stop-color="#050075"/><stop offset="0.03" stop-color="#04007b"/><stop offset="0.03" stop-color="#0108d0"/><stop offset="0.04" stop-color="#1538f7"/><stop offset="0.05" stop-color="#2053fc"/><stop offset="0.06" stop-color="#2358fd"/><stop offset="0.08" stop-color="#2863ff"/><stop offset="0.1" stop-color="#408bff"/><stop offset="0.12" stop-color="#7cdde9"/><stop offset="0.14" stop-color="#cdddeb"/><stop offset="0.17" stop-color="#ebdeca"/><stop offset="0.22" stop-color="#eec6a4"/><stop offset="0.28" stop-color="#efb085"/><stop offset="0.39" stop-color="#e5846c"/><stop offset="0.57" stop-color="#db5b54"/><stop offset="1" stop-color="#cc4045"/></linearGradient><linearGradient id="g143"><stop offset="0" stop-color="#050073"/><stop offset="0.03" stop-color="#050073"/><stop offset="0.03" stop-color="#0107ce"/><stop offset="0.04" stop-color="#153af7"/><stop offset="0.05" stop-color="#2052fc"/><stop offset="0.06" stop-color="#2053fc"/><stop offset="0.08" stop-color="#1f50fb"/><stop offset="0.1" stop-color="#1e4dfb"/><stop offset="0.12" stop-color="#1539f7"/><stop offset="0.14" stop-color="#0c24f3"/><stop offset="0.17" stop-color="#0513ed"/><stop offset="0.22" stop-color="#020cdb"/><stop offset="0.28" stop-color="#0005c8"/><stop offset="0.39" stop-color="#0003b4"/><stop offset="0.57" stop-color="#0002a6"/><stop offset="1" stop-color="#00019c"/></linearGradient><linearGradient id="g144"><stop offset="0" stop-color="#050073"/><stop offset="0.03" stop-color="#050073"/><stop offset="0.03" stop-color="#0108cf"/><stop offset="0.04" stop-color="#1840f8"/><stop offset="0.05" stop-color="#245afd"/><stop offset="0.06" stop-color="#245afd"/><stop offset="0.08" stop-color="#2257fd"/><stop offset="0.1" stop-color="#2154fc"/><stop offset="0.12" stop-color="#183ff8"/><stop offset="0.14" stop-color="#0e29f4"/><stop offset="0.17" stop-color="#0615f0"/><stop offset="0.22" stop-color="#030dde"/><stop offset="0.28" stop-color="#0006cc"/><stop offset="0.39" stop-color="#0003b7"/><stop offset="0.57" stop-color="#0002a9"/><stop offset="1" stop-color="#00019f"/></linearGradient><linearGradient id="g145"><stop offset="0" stop-color="#050073"/><stop offset="0.03" stop-color="#050073"/><stop offset="0.03" stop-color="#0108d0"/><stop offset="0.04" stop-color="#1b46f9"/><stop offset="0.05" stop-color="#2762ff"/><stop offset="0.06" stop-color="#2761ff"/><stop offset="0.08" stop-color="#255efe"/><stop offset="0.1" stop-color="#245afd"/><stop offset="0.12" stop-color="#1b45f9"/><stop offset="0.14" stop-color="#112ff5"/><stop offset="0.17" stop-color="#081af1"/><stop offset="0.22" stop-color="#030fe2"/><stop offset="0.28" stop-color="#0108cf"/><stop offset="0.39" stop-color="#0004bb"/><stop offset="0.57" stop-color="#0002ac"/><stop offset="1" stop-color="#0001a2"/></linearGradient><linearGradient id="g146"><stop offset="0" stop-color="#050073"/><stop offset="0.03" stop-color="#050073"/><stop offset="0.03" stop-color="#030edf"/><stop offset="0.04" stop-color="#3f89ff"/><stop offset="0.05" stop-color="#59b2ff"/><stop offset="0.06" stop-color="#5ab4ff"/><stop offset="0.08" stop-color="#59b3ff"/><stop offset="0.1" stop-color="#58b1ff"/><stop offset="0.12" stop-color="#438fff"/><stop offset="0.14" stop-color="#2c6bff"/><stop offset="0.17" stop-color="#1b46f9"/><stop offset="0.22" stop-color="#0a1ff2"/><stop offset="0.28" stop-color="#020bd9"/><stop offset="0.39" stop-color="#0004ba"/><stop offset="0.57" stop-color="#0002a6"/><stop offset="1" stop-color="#00009a"/></linearGradient><linearGradient id="g147"><stop offset="0" stop-color="#050074"/><stop offset="0.03" stop-color="#050076"/><stop offset="0.03" stop-color="#030ee0"/><stop offset="0.04" stop-color="#408aff"/><stop offset="0.05" stop-color="#5ab4ff"/><stop offset="0.06" stop-color="#5cb7fd"/><stop offset="0.08" stop-color="#5eb9fc"/><stop offset="0.1" stop-color="#61bdfa"/><stop offset="0.12" stop-color="#58b1ff"/><stop offset="0.14" stop-color="#6bc9f3"/><stop offset="0.17" stop-color="#94e8e4"/><stop offset="0.22" stop-color="#ace3e9"/><stop offset="0.28" stop-color="#b4e1eb"/><stop offset="0.39" stop-color="#bbdfed"/><stop offset="0.57" stop-color="#c4ddef"/><stop offset="1" stop-color="#cadcee"/></linearGradient><linearGradient id="g148"><stop offset="0" stop-color="#050075"/><stop offset="0.03" stop-color="#04007b"/><stop offset="0.03" stop-color="#030fe2"/><stop offset="0.04" stop-color="#428dff"/><stop offset="0.05" stop-color="#5db8fd"/><stop offset="0.06" stop-color="#61bcfb"/><stop offset="0.08" stop-color="#66c3f7"/><stop offset="0.1" stop-color="#70cff1"/><stop offset="0.12" stop-color="#8beae2"/><stop offset="0.14" stop-color="#d5dde3"/><stop offset="0.17" stop-color="#ecd8c1"/><stop offset="0.22" stop-color="#eec29d"/><stop offset="0.28" stop-color="#eeab82"/><stop offset="0.39" stop-color="#e4826b"/><stop offset="0.57" stop-color="#db5a54"/><stop offset="1" stop-color="#cc4045"/></linearGradient><linearGradient id="g149"><stop offset="0" stop-color="#050073"/><stop offset="0.03" stop-color="#050073"/><stop offset="0.03" stop-color="#030ee0"/><stop offset="0.04" stop-color="#428eff"/><stop offset="0.05" stop-color="#5db7fd"/><stop offset="0.06" stop-color="#5eb9fc"/><stop offset="0.08" stop-color="#5db7fd"/><stop offset="0.1" stop-color="#5bb6fe"/><stop offset="0.12" stop-color="#4694ff"/><stop offset="0.14" stop-color="#2f70ff"/><stop offset="0.17" stop-color="#1d4bfa"/><stop offset="0.22" stop-color="#0c23f3"/><stop offset="0.28" stop-color="#020cdc"/><stop offset="0.39" stop-color="#0004be"/><stop offset="0.57" stop-color="#0002a9"/><stop offset="1" stop-color="#00019d"/></linearGradient><linearGradient id="g150"><stop offset="0" stop-color="#050073"/><stop offset="0.03" stop-color="#050073"/><stop offset="0.03" stop-color="#030fe2"/><stop offset="0.04" stop-color="#4694ff"/><stop offset="0.05" stop-color="#61bcfb"/><stop offset="0.06" stop-color="#62bdfa"/><stop offset="0.08" stop-color="#60bbfb"/><stop offset="0.1" stop-color="#5eb9fc"/><stop offset="0.12" stop-color="#4a9aff"/><stop offset="0.14" stop-color="#3274ff"/><stop offset="0.17" stop-color="#1f50fb"/><stop offset="0.22" stop-color="#0e27f4"/><stop offset="0.28" stop-color="#030edf"/><stop offset="0.39" stop-color="#0004c1"/><stop offset="0.57" stop-color="#0002ac"/><stop offset="1" stop-color="#0001a0"/></linearGradient><linearGradient id="g151"><stop offset="0" stop-color="#050073"/><stop offset="0.03" stop-color="#050073"/><stop offset="0.03" stop-color="#030fe3"/><stop offset="0.04" stop-color="#4a9aff"/><stop offset="0.05" stop-color="#64c1f8"/><stop offset="0.06" stop-color="#65c2f8"/><stop offset="0.08" stop-color="#63c0f9"/><stop offset="0.1" stop-color="#62bdfa"/><stop offset="0.12" stop-color="#4d9fff"/><stop offset="0.14" stop-color="#3579ff"/><stop offset="0.17" stop-color="#2155fc"/><stop offset="0.22" stop-color="#0f2cf4"/><stop offset="0.28" stop-color="#030fe2"/><stop offset="0.39" stop-color="#0005c5"/><stop offset="0.57" stop-color="#0003af"/><stop offset="1" stop-color="#0001a3"/></linearGradient><linearGradient id="g152"><stop offset="0" stop-color="#000092"/><stop offset="0.03" stop-color="#000092"/><stop offset="0.03" stop-color="#00019b"/><stop offset="0.04" stop-color="#0108d0"/><stop offset="0.05" stop-color="#091ef2"/><stop offset="0.06" stop-color="#102ef5"/><stop offset="0.08" stop-color="#1334f6"/><stop offset="0.1" stop-color="#1334f6"/><stop offset="0.12" stop-color="#1232f6"/><stop offset="0.14" stop-color="#0f2bf4"/><stop offset="0.17" stop-color="#0c23f3"/><stop offset="0.22" stop-color="#081bf1"/><stop offset="0.28" stop-color="#0513ed"/><stop offset="0.39" stop-color="#0410e4"/><stop offset="0.57" stop-color="#030ddc"/><stop offset="1" stop-color="#0109d4"/></linearGradient><linearGradient id="g153"><stop offset="0" stop-color="#00019c"/><stop offset="0.03" stop-color="#0005c4"/><stop offset="0.03" stop-color="#0107cc"/><stop offset="0.04" stop-color="#0617f1"/><stop offset="0.05" stop-color="#2154fc"/><stop offset="0.06" stop-color="#3c85ff"/><stop offset="0.08" stop-color="#6dcbf2"/><stop offset="0.1" stop-color="#a3e4e8"/><stop offset="0.12" stop-color="#d3dde5"/><stop offset="0.14" stop-color="#e5dfd3"/><stop offset="0.17" stop-color="#ebddc8"/><stop offset="0.22" stop-color="#ecd7be"/><stop offset="0.28" stop-color="#edd2b6"/><stop offset="0.39" stop-color="#edccad"/><stop offset="0.57" stop-color="#eec7a5"/><stop offset="1" stop-color="#eec39f"/></linearGradient><linearGradient id="g154"><stop offset="0" stop-color="#0002ad"/><stop offset="0.03" stop-color="#0718f1"/><stop offset="0.03" stop-color="#0b22f3"/><stop offset="0.04" stop-color="#2359fd"/><stop offset="0.05" stop-color="#4fa2ff"/><stop offset="0.06" stop-color="#73d3ee"/><stop offset="0.08" stop-color="#b2e1eb"/><stop offset="0.1" stop-color="#d7dee1"/><stop offset="0.12" stop-color="#ebe0cd"/><stop offset="0.14" stop-color="#ecd3b9"/><stop offset="0.17" stop-color="#edcdaf"/><stop offset="0.22" stop-color="#eec9a8"/><stop offset="0.28" stop-color="#eec4a0"/><stop offset="0.39" stop-color="#efbf98"/><stop offset="0.57" stop-color="#efba91"/><stop offset="1" stop-color="#f0b78c"/></linearGradient><linearGradient id="g155"><stop offset="0" stop-color="#000092"/><stop offset="0.03" stop-color="#000092"/><stop offset="0.03" stop-color="#00019d"/><stop offset="0.04" stop-color="#020bd7"/><stop offset="0.05" stop-color="#0f2af4"/><stop offset="0.06" stop-color="#163bf7"/><stop offset="0.08" stop-color="#1941f8"/><stop offset="0.1" stop-color="#1840f8"/><stop offset="0.12" stop-color="#173ef8"/><stop offset="0.14" stop-color="#1436f6"/><stop offset="0.17" stop-color="#102df5"/><stop offset="0.22" stop-color="#0c23f3"/><stop offset="0.28" stop-color="#0718f1"/><stop offset="0.39" stop-color="#0412ea"/><stop offset="0.57" stop-color="#030ee1"/><stop offset="1" stop-color="#020bd9"/></linearGradient><linearGradient id="g156"><stop offset="0" stop-color="#000092"/><stop offset="0.03" stop-color="#000092"/><stop offset="0.03" stop-color="#00019e"/><stop offset="0.04" stop-color="#030ddd"/><stop offset="0.05" stop-color="#1437f6"/><stop offset="0.06" stop-color="#1c49fa"/><stop offset="0.08" stop-color="#1f4ffb"/><stop offset="0.1" stop-color="#1e4dfb"/><stop offset="0.12" stop-color="#1c49fa"/><stop offset="0.14" stop-color="#1840f8"/><stop offset="0.17" stop-color="#1437f6"/><stop offset="0.22" stop-color="#0f2cf4"/><stop offset="0.28" stop-color="#0a20f2"/><stop offset="0.39" stop-color="#0514f0"/><stop offset="0.57" stop-color="#0410e6"/><stop offset="1" stop-color="#030dde"/></linearGradient><linearGradient id="g157"><stop offset="0" stop-color="#000092"/><stop offset="0.03" stop-color="#000092"/><stop offset="0.03" stop-color="#00019f"/><stop offset="0.04" stop-color="#030fe4"/><stop offset="0.05" stop-color="#1a43f9"/><stop offset="0.06" stop-color="#2257fd"/><stop offset="0.08" stop-color="#255cfe"/><stop offset="0.1" stop-color="#245afd"/><stop offset="0.12" stop-color="#2255fc"/><stop offset="0.14" stop-color="#1d4bfa"/><stop offset="0.17" stop-color="#1840f8"/><stop offset="0.22" stop-color="#1334f6"/><stop offset="0.28" stop-color="#0d27f4"/><stop offset="0.39" stop-color="#081af1"/><stop offset="0.57" stop-color="#0412ec"/><stop offset="1" stop-color="#030fe3"/></linearGradient><linearGradient id="g158"><stop offset="0" stop-color="#000092"/><stop offset="0.03" stop-color="#000092"/><stop offset="0.03" stop-color="#0001a1"/><stop offset="0.04" stop-color="#0513ed"/><stop offset="0.05" stop-color="#2357fd"/><stop offset="0.06" stop-color="#2f6fff"/><stop offset="0.08" stop-color="#3578ff"/><stop offset="0.1" stop-color="#3579ff"/><stop offset="0.12" stop-color="#3478ff"/><stop offset="0.14" stop-color="#2a68ff"/><stop offset="0.17" stop-color="#2255fc"/><stop offset="0.22" stop-color="#1840f8"/><stop offset="0.28" stop-color="#0f2af4"/><stop offset="0.39" stop-color="#0515f0"/><stop offset="0.57" stop-color="#030fe3"/><stop offset="1" stop-color="#020bd9"/></linearGradient><linearGradient id="g159"><stop offset="0" stop-color="#00019c"/><stop offset="0.03" stop-color="#0005c4"/><stop offset="0.03" stop-color="#0107ce"/><stop offset="0.04" stop-color="#0c23f3"/><stop offset="0.05" stop-color="#3172ff"/><stop offset="0.06" stop-color="#4796ff"/><stop offset="0.08" stop-color="#77d8eb"/><stop offset="0.1" stop-color="#b1e1eb"/><stop offset="0.12" stop-color="#dadede"/><stop offset="0.14" stop-color="#ebe0cd"/><stop offset="0.17" stop-color="#ecd7bf"/><stop offset="0.22" stop-color="#edd3b8"/><stop offset="0.28" stop-color="#edcfb2"/><stop offset="0.39" stop-color="#edcaab"/><stop offset="0.57" stop-color="#eec6a4"/><stop offset="1" stop-color="#eec39e"/></linearGradient><linearGradient id="g160"><stop offset="0" stop-color="#0002ad"/><stop offset="0.03" stop-color="#0718f1"/><stop offset="0.03" stop-color="#0c24f3"/><stop offset="0.04" stop-color="#2863ff"/><stop offset="0.05" stop-color="#58b2ff"/><stop offset="0.06" stop-color="#7ddfe8"/><stop offset="0.08" stop-color="#c0deee"/><stop offset="0.1" stop-color="#dedfda"/><stop offset="0.12" stop-color="#ecd8c1"/><stop offset="0.14" stop-color="#edcdaf"/><stop offset="0.17" stop-color="#eec8a7"/><stop offset="0.22" stop-color="#eec5a1"/><stop offset="0.28" stop-color="#eec19c"/><stop offset="0.39" stop-color="#efbd96"/><stop offset="0.57" stop-color="#efb990"/><stop offset="1" stop-color="#f0b78b"/></linearGradient><linearGradient id="g161"><stop offset="0" stop-color="#000092"/><stop offset="0.03" stop-color="#000092"/><stop offset="0.03" stop-color="#0001a3"/><stop offset="0.04" stop-color="#0718f1"/><stop offset="0.05" stop-color="#2864ff"/><stop offset="0.06" stop-color="#377bff"/><stop offset="0.08" stop-color="#3c84ff"/><stop offset="0.1" stop-color="#3c84ff"/><stop offset="0.12" stop-color="#3b82ff"/><stop offset="0.14" stop-color="#3071ff"/><stop offset="0.17" stop-color="#265ffe"/><stop offset="0.22" stop-color="#1c49fa"/><stop offset="0.28" stop-color="#1231f6"/><stop offset="0.39" stop-color="#081bf1"/><stop offset="0.57" stop-color="#0411e8"/><stop offset="1" stop-color="#030dde"/></linearGradient><linearGradient id="g162"><stop offset="0" stop-color="#000092"/><stop offset="0.03" stop-color="#000092"/><stop offset="0.03" stop-color="#0001a4"/><stop offset="0.04" stop-color="#0a1ff2"/><stop offset="0.05" stop-color="#2f6fff"/><stop offset="0.06" stop-color="#3e87ff"/><stop offset="0.08" stop-color="#4490ff"/><stop offset="0.1" stop-color="#438fff"/><stop offset="0.12" stop-color="#418cff"/><stop offset="0.14" stop-color="#367aff"/><stop offset="0.17" stop-color="#2a68ff"/><stop offset="0.22" stop-color="#2051fb"/><stop offset="0.28" stop-color="#1539f7"/><stop offset="0.39" stop-color="#0b22f3"/><stop offset="0.57" stop-color="#0513ed"/><stop offset="1" stop-color="#030fe3"/></linearGradient><linearGradient id="g163"><stop offset="0" stop-color="#000092"/><stop offset="0.03" stop-color="#000092"/><stop offset="0.03" stop-color="#0002a6"/><stop offset="0.04" stop-color="#0d27f4"/><stop offset="0.05" stop-color="#367aff"/><stop offset="0.06" stop-color="#4693ff"/><stop offset="0.08" stop-color="#4b9cff"/><stop offset="0.1" stop-color="#4a9aff"/><stop offset="0.12" stop-color="#4896ff"/><stop offset="0.14" stop-color="#3c84ff"/><stop offset="0.17" stop-color="#3070ff"/><stop offset="0.22" stop-color="#235afd"/><stop offset="0.28" stop-color="#1840f8"/><stop offset="0.39" stop-color="#0e28f4"/><stop offset="0.57" stop-color="#0617f1"/><stop offset="1" stop-color="#0411e8"/></linearGradient><linearGradient id="g164"><stop offset="0" stop-color="#000092"/><stop offset="0.03" stop-color="#000092"/><stop offset="0.03" stop-color="#0002ab"/><stop offset="0.04" stop-color="#1a44f9"/><stop offset="0.05" stop-color="#53a9ff"/><stop offset="0.06" stop-color="#67c4f6"/><stop offset="0.08" stop-color="#70cff0"/><stop offset="0.1" stop-color="#71d0f0"/><stop offset="0.12" stop-color="#70cff0"/><stop offset="0.14" stop-color="#5eb9fc"/><stop offset="0.17" stop-color="#4a9aff"/><stop offset="0.22" stop-color="#3375ff"/><stop offset="0.28" stop-color="#1e4dfb"/><stop offset="0.39" stop-color="#0d25f3"/><stop offset="0.57" stop-color="#0411e9"/><stop offset="1" stop-color="#020cdc"/></linearGradient><linearGradient id="g165"><stop offset="0" stop-color="#00019c"/><stop offset="0.03" stop-color="#0005c4"/><stop offset="0.03" stop-color="#0108d0"/><stop offset="0.04" stop-color="#2257fd"/><stop offset="0.05" stop-color="#62bdfa"/><stop offset="0.06" stop-color="#7cdde8"/><stop offset="0.08" stop-color="#95e8e4"/><stop offset="0.1" stop-color="#c6dcf0"/><stop offset="0.12" stop-color="#e4dfd4"/><stop offset="0.14" stop-color="#ecd6bd"/><stop offset="0.17" stop-color="#edcfb3"/><stop offset="0.22" stop-color="#edcdaf"/><stop offset="0.28" stop-color="#edcbac"/><stop offset="0.39" stop-color="#eec9a8"/><stop offset="0.57" stop-color="#eec5a3"/><stop offset="1" stop-color="#eec29e"/></linearGradient><linearGradient id="g166"><stop offset="0" stop-color="#0002ad"/><stop offset="0.03" stop-color="#0718f1"/><stop offset="0.03" stop-color="#0d27f4"/><stop offset="0.04" stop-color="#3071ff"/><stop offset="0.05" stop-color="#6fcdf1"/><stop offset="0.06" stop-color="#8fe9e3"/><stop offset="0.08" stop-color="#ceddea"/><stop offset="0.1" stop-color="#e8e0d0"/><stop offset="0.12" stop-color="#edccae"/><stop offset="0.14" stop-color="#eec39f"/><stop offset="0.17" stop-color="#efc09a"/><stop offset="0.22" stop-color="#efbf98"/><stop offset="0.28" stop-color="#efbe97"/><stop offset="0.39" stop-color="#efbc93"/><stop offset="0.57" stop-color="#efb98f"/><stop offset="1" stop-color="#f0b68b"/></linearGradient><linearGradient id="g167"><stop offset="0" stop-color="#000092"/><stop offset="0.03" stop-color="#000092"/><stop offset="0.03" stop-color="#0002ac"/><stop offset="0.04" stop-color="#1d4bfa"/><stop offset="0.05" stop-color="#5ab4ff"/><stop offset="0.06" stop-color="#6ecdf2"/><stop offset="0.08" stop-color="#77d7ec"/><stop offset="0.1" stop-color="#77d8ec"/><stop offset="0.12" stop-color="#76d6ec"/><stop offset="0.14" stop-color="#63c0f9"/><stop offset="0.17" stop-color="#4fa2ff"/><stop offset="0.22" stop-color="#377dff"/><stop offset="0.28" stop-color="#2154fc"/><stop offset="0.39" stop-color="#0f2cf4"/><stop offset="0.57" stop-color="#0513ee"/><stop offset="1" stop-color="#030ee1"/></linearGradient><linearGradient id="g168"><stop offset="0" stop-color="#000092"/><stop offset="0.03" stop-color="#000092"/><stop offset="0.03" stop-color="#0002ae"/><stop offset="0.04" stop-color="#2153fc"/><stop offset="0.05" stop-color="#60bbfb"/><stop offset="0.06" stop-color="#75d5ed"/><stop offset="0.08" stop-color="#7ddfe8"/><stop offset="0.1" stop-color="#7ddfe7"/><stop offset="0.12" stop-color="#7cdde8"/><stop offset="0.14" stop-color="#69c6f5"/><stop offset="0.17" stop-color="#54abff"/><stop offset="0.22" stop-color="#3c84ff"/><stop offset="0.28" stop-color="#245cfd"/><stop offset="0.39" stop-color="#1232f6"/><stop offset="0.57" stop-color="#0717f1"/><stop offset="1" stop-color="#0410e6"/></linearGradient><linearGradient id="g169"><stop offset="0" stop-color="#000092"/><stop offset="0.03" stop-color="#000092"/><stop offset="0.03" stop-color="#0003af"/><stop offset="0.04" stop-color="#245afd"/><stop offset="0.05" stop-color="#66c3f7"/><stop offset="0.06" stop-color="#7cdde9"/><stop offset="0.08" stop-color="#84e7e3"/><stop offset="0.1" stop-color="#84e7e3"/><stop offset="0.12" stop-color="#82e4e5"/><stop offset="0.14" stop-color="#6eccf2"/><stop offset="0.17" stop-color="#59b3ff"/><stop offset="0.22" stop-color="#418bff"/><stop offset="0.28" stop-color="#2863ff"/><stop offset="0.39" stop-color="#1539f7"/><stop offset="0.57" stop-color="#091df2"/><stop offset="1" stop-color="#0412eb"/></linearGradient><linearGradient id="g170"><stop offset="0" stop-color="#000092"/><stop offset="0.03" stop-color="#000092"/><stop offset="0.03" stop-color="#000099"/><stop offset="0.04" stop-color="#0005c8"/><stop offset="0.05" stop-color="#0412ea"/><stop offset="0.06" stop-color="#081af1"/><stop offset="0.08" stop-color="#0a1ff2"/><stop offset="0.1" stop-color="#0a1ff2"/><stop offset="0.12" stop-color="#091ef2"/><stop offset="0.14" stop-color="#0616f0"/><stop offset="0.17" stop-color="#0412eb"/><stop offset="0.22" stop-color="#030fe3"/><stop offset="0.28" stop-color="#020cda"/><stop offset="0.39" stop-color="#0108d0"/><stop offset="0.57" stop-color="#0005c7"/><stop offset="1" stop-color="#0004bd"/></linearGradient><linearGradient id="g171"><stop offset="0" stop-color="#000094"/><stop offset="0.03" stop-color="#00019c"/><stop offset="0.03" stop-color="#0001a3"/><stop offset="0.04" stop-color="#0006cc"/><stop offset="0.05" stop-color="#0514f0"/><stop offset="0.06" stop-color="#0d26f3"/><stop offset="0.08" stop-color="#1a45f9"/><stop offset="0.1" stop-color="#3579ff"/><stop offset="0.12" stop-color="#64c0f9"/><stop offset="0.14" stop-color="#91e9e3"/><stop offset="0.17" stop-color="#b2e1eb"/><stop offset="0.22" stop-color="#c4ddef"/><stop offset="0.28" stop-color="#cdddeb"/><stop offset="0.39" stop-color="#d4dde4"/><stop offset="0.57" stop-color="#dadede"/><stop offset="1" stop-color="#dfdfd9"/></linearGradient><linearGradient id="g172"><stop offset="0" stop-color="#000098"/><stop offset="0.03" stop-color="#0003b4"/><stop offset="0.03" stop-color="#0004bc"/><stop offset="0.04" stop-color="#030ee0"/><stop offset="0.05" stop-color="#1334f6"/><stop offset="0.06" stop-color="#2660fe"/><stop offset="0.08" stop-color="#52a7ff"/><stop offset="0.1" stop-color="#83e6e4"/><stop offset="0.12" stop-color="#cadcee"/><stop offset="0.14" stop-color="#e4dfd4"/><stop offset="0.17" stop-color="#ecd8c0"/><stop offset="0.22" stop-color="#edccae"/><stop offset="0.28" stop-color="#eec29d"/><stop offset="0.39" stop-color="#f0b68a"/><stop offset="0.57" stop-color="#eca47e"/><stop offset="1" stop-color="#e89475"/></linearGradient><linearGradient id="g173"><stop offset="0" stop-color="#000092"/><stop offset="0.03" stop-color="#000092"/><stop offset="0.03" stop-color="#00009a"/><stop offset="0.04" stop-color="#0006cb"/><stop offset="0.05" stop-color="#0514ef"/><stop offset="0.06" stop-color="#0b21f3"/><stop offset="0.08" stop-color="#0d26f3"/><stop offset="0.1" stop-color="#0d26f3"/><stop offset="0.12" stop-color="#0c23f3"/><stop offset="0.14" stop-color="#081bf1"/><stop offset="0.17" stop-color="#0514ef"/><stop offset="0.22" stop-color="#0410e6"/><stop offset="0.28" stop-color="#030ddd"/><stop offset="0.39" stop-color="#0109d3"/><stop offset="0.57" stop-color="#0006ca"/><stop offset="1" stop-color="#0004c0"/></linearGradient><linearGradient id="g174"><stop offset="0" stop-color="#000092"/><stop offset="0.03" stop-color="#000092"/><stop offset="0.03" stop-color="#00009b"/><stop offset="0.04" stop-color="#0107cf"/><stop offset="0.05" stop-color="#071af1"/><stop offset="0.06" stop-color="#0e28f4"/><stop offset="0.08" stop-color="#102df5"/><stop offset="0.1" stop-color="#0f2cf4"/><stop offset="0.12" stop-color="#0e29f4"/><stop offset="0.14" stop-color="#0a21f2"/><stop offset="0.17" stop-color="#0717f1"/><stop offset="0.22" stop-color="#0412ea"/><stop offset="0.28" stop-color="#030ee0"/><stop offset="0.39" stop-color="#020ad6"/><stop offset="0.57" stop-color="#0107cd"/><stop offset="1" stop-color="#0005c3"/></linearGradient><linearGradient id="g175"><stop offset="0" stop-color="#000092"/><stop offset="0.03" stop-color="#000092"/><stop offset="0.03" stop-color="#00019c"/><stop offset="0.04" stop-color="#0109d2"/><stop offset="0.05" stop-color="#0a20f2"/><stop offset="0.06" stop-color="#112ff5"/><stop offset="0.08" stop-color="#1334f6"/><stop offset="0.1" stop-color="#1232f6"/><stop offset="0.12" stop-color="#112ff5"/><stop offset="0.14" stop-color="#0d26f3"/><stop offset="0.17" stop-color="#091cf2"/><stop offset="0.22" stop-color="#0513ee"/><stop offset="0.28" stop-color="#030fe3"/><stop offset="0.39" stop-color="#020bd8"/><stop offset="0.57" stop-color="#0108cf"/><stop offset="1" stop-color="#0005c6"/></linearGradient><linearGradient id="g176"><stop offset="0" stop-color="#000092"/><stop offset="0.03" stop-color="#000092"/><stop offset="0.03" stop-color="#0001a0"/><stop offset="0.04" stop-color="#0410e6"/><stop offset="0.05" stop-color="#1d4afa"/><stop offset="0.06" stop-color="#2761fe"/><stop offset="0.08" stop-color="#2c6aff"/><stop offset="0.1" stop-color="#2c6aff"/><stop offset="0.12" stop-color="#2b69ff"/><stop offset="0.14" stop-color="#2256fc"/><stop offset="0.17" stop-color="#1941f8"/><stop offset="0.22" stop-color="#0f2af4"/><stop offset="0.28" stop-color="#0513ee"/><stop offset="0.39" stop-color="#020cda"/><stop offset="0.57" stop-color="#0006cc"/><stop offset="1" stop-color="#0004c0"/></linearGradient><linearGradient id="g177"><stop offset="0" stop-color="#000094"/><stop offset="0.03" stop-color="#00019c"/><stop offset="0.03" stop-color="#0001a5"/><stop offset="0.04" stop-color="#0412ea"/><stop offset="0.05" stop-color="#2051fb"/><stop offset="0.06" stop-color="#2c6bff"/><stop offset="0.08" stop-color="#387dff"/><stop offset="0.1" stop-color="#428dff"/><stop offset="0.12" stop-color="#6fcdf1"/><stop offset="0.14" stop-color="#9de6e6"/><stop offset="0.17" stop-color="#bcdfed"/><stop offset="0.22" stop-color="#cadcee"/><stop offset="0.28" stop-color="#cfdde9"/><stop offset="0.39" stop-color="#d5dde3"/><stop offset="0.57" stop-color="#dadede"/><stop offset="1" stop-color="#dfdfd9"/></linearGradient><linearGradient id="g178"><stop offset="0" stop-color="#000098"/><stop offset="0.03" stop-color="#0003b4"/><stop offset="0.03" stop-color="#0004be"/><stop offset="0.04" stop-color="#0616f0"/><stop offset="0.05" stop-color="#255efe"/><stop offset="0.06" stop-color="#377cff"/><stop offset="0.08" stop-color="#5eb9fc"/><stop offset="0.1" stop-color="#90e9e3"/><stop offset="0.12" stop-color="#d1dde7"/><stop offset="0.14" stop-color="#eae0ce"/><stop offset="0.17" stop-color="#edd2b7"/><stop offset="0.22" stop-color="#eec8a7"/><stop offset="0.28" stop-color="#efbf99"/><stop offset="0.39" stop-color="#f0b588"/><stop offset="0.57" stop-color="#eca37d"/><stop offset="1" stop-color="#e89374"/></linearGradient><linearGradient id="g179"><stop offset="0" stop-color="#000092"/><stop offset="0.03" stop-color="#000092"/><stop offset="0.03" stop-color="#0001a1"/><stop offset="0.04" stop-color="#0412e9"/><stop offset="0.05" stop-color="#1f50fb"/><stop offset="0.06" stop-color="#2a67ff"/><stop offset="0.08" stop-color="#2f70ff"/><stop offset="0.1" stop-color="#2f70ff"/><stop offset="0.12" stop-color="#2e6eff"/><stop offset="0.14" stop-color="#245bfd"/><stop offset="0.17" stop-color="#1b46f9"/><stop offset="0.22" stop-color="#102ef5"/><stop offset="0.28" stop-color="#0616f0"/><stop offset="0.39" stop-color="#030ddd"/><stop offset="0.57" stop-color="#0107cf"/><stop offset="1" stop-color="#0005c3"/></linearGradient><linearGradient id="g180"><stop offset="0" stop-color="#000092"/><stop offset="0.03" stop-color="#000092"/><stop offset="0.03" stop-color="#0001a1"/><stop offset="0.04" stop-color="#0513ed"/><stop offset="0.05" stop-color="#2256fc"/><stop offset="0.06" stop-color="#2e6dff"/><stop offset="0.08" stop-color="#3376ff"/><stop offset="0.1" stop-color="#3375ff"/><stop offset="0.12" stop-color="#3173ff"/><stop offset="0.14" stop-color="#2660fe"/><stop offset="0.17" stop-color="#1d4afa"/><stop offset="0.22" stop-color="#1232f6"/><stop offset="0.28" stop-color="#0719f1"/><stop offset="0.39" stop-color="#030ee0"/><stop offset="0.57" stop-color="#0108d1"/><stop offset="1" stop-color="#0005c6"/></linearGradient><linearGradient id="g181"><stop offset="0" stop-color="#000092"/><stop offset="0.03" stop-color="#000092"/><stop offset="0.03" stop-color="#0001a2"/><stop offset="0.04" stop-color="#0514f0"/><stop offset="0.05" stop-color="#255dfe"/><stop offset="0.06" stop-color="#3273ff"/><stop offset="0.08" stop-color="#377bff"/><stop offset="0.1" stop-color="#367bff"/><stop offset="0.12" stop-color="#3578ff"/><stop offset="0.14" stop-color="#2965ff"/><stop offset="0.17" stop-color="#1f4ffb"/><stop offset="0.22" stop-color="#1437f6"/><stop offset="0.28" stop-color="#091df2"/><stop offset="0.39" stop-color="#030fe3"/><stop offset="0.57" stop-color="#0109d4"/><stop offset="1" stop-color="#0005c9"/></linearGradient><linearGradient id="g182"><stop offset="0" stop-color="#000092"/><stop offset="0.03" stop-color="#000092"/><stop offset="0.03" stop-color="#0002aa"/><stop offset="0.04" stop-color="#1941f8"/><stop offset="0.05" stop-color="#50a4ff"/><stop offset="0.06" stop-color="#64c0f8"/><stop offset="0.08" stop-color="#6ccaf3"/><stop offset="0.1" stop-color="#6dccf2"/><stop offset="0.12" stop-color="#6dcbf3"/><stop offset="0.14" stop-color="#59b2ff"/><stop offset="0.17" stop-color="#428dff"/><stop offset="0.22" stop-color="#2965ff"/><stop offset="0.28" stop-color="#1436f6"/><stop offset="0.39" stop-color="#0411e9"/><stop offset="0.57" stop-color="#0108d1"/><stop offset="1" stop-color="#0004c2"/></linearGradient><linearGradient id="g183"><stop offset="0" stop-color="#000094"/><stop offset="0.03" stop-color="#00019c"/><stop offset="0.03" stop-color="#0002ae"/><stop offset="0.04" stop-color="#1a45f9"/><stop offset="0.05" stop-color="#54aaff"/><stop offset="0.06" stop-color="#69c7f5"/><stop offset="0.08" stop-color="#77d8ec"/><stop offset="0.1" stop-color="#80e3e5"/><stop offset="0.12" stop-color="#8fe9e3"/><stop offset="0.14" stop-color="#b1e1eb"/><stop offset="0.17" stop-color="#cadcee"/><stop offset="0.22" stop-color="#cfdde9"/><stop offset="0.28" stop-color="#d2dde6"/><stop offset="0.39" stop-color="#d6dee2"/><stop offset="0.57" stop-color="#dbdedd"/><stop offset="1" stop-color="#dfdfd9"/></linearGradient><linearGradient id="g184"><stop offset="0" stop-color="#000098"/><stop offset="0.03" stop-color="#0003b4"/><stop offset="0.03" stop-color="#0004c1"/><stop offset="0.04" stop-color="#1e4efb"/><stop offset="0.05" stop-color="#5bb5fe"/><stop offset="0.06" stop-color="#73d3ee"/><stop offset="0.08" stop-color="#87ebe1"/><stop offset="0.1" stop-color="#a7e4e8"/><stop offset="0.12" stop-color="#dcdedc"/><stop offset="0.14" stop-color="#ecd7be"/><stop offset="0.17" stop-color="#eecaa9"/><stop offset="0.22" stop-color="#eec29d"/><stop offset="0.28" stop-color="#efbc93"/><stop offset="0.39" stop-color="#f0b286"/><stop offset="0.57" stop-color="#eca27d"/><stop offset="1" stop-color="#e89374"/></linearGradient><linearGradient id="g185"><stop offset="0" stop-color="#000092"/><stop offset="0.03" stop-color="#000092"/><stop offset="0.03" stop-color="#0002ab"/><stop offset="0.04" stop-color="#1a44f9"/><stop offset="0.05" stop-color="#53a9ff"/><stop offset="0.06" stop-color="#67c4f6"/><stop offset="0.08" stop-color="#70cef1"/><stop offset="0.1" stop-color="#70cff0"/><stop offset="0.12" stop-color="#70cef1"/><stop offset="0.14" stop-color="#5bb6fe"/><stop offset="0.17" stop-color="#4491ff"/><stop offset="0.22" stop-color="#2b69ff"/><stop offset="0.28" stop-color="#163af7"/><stop offset="0.39" stop-color="#0412ec"/><stop offset="0.57" stop-color="#0109d3"/><stop offset="1" stop-color="#0005c5"/></linearGradient><linearGradient id="g186"><stop offset="0" stop-color="#000092"/><stop offset="0.03" stop-color="#000092"/><stop offset="0.03" stop-color="#0002ac"/><stop offset="0.04" stop-color="#1c48fa"/><stop offset="0.05" stop-color="#57afff"/><stop offset="0.06" stop-color="#6bc8f4"/><stop offset="0.08" stop-color="#73d2ee"/><stop offset="0.1" stop-color="#74d3ee"/><stop offset="0.12" stop-color="#72d2ef"/><stop offset="0.14" stop-color="#5eb9fc"/><stop offset="0.17" stop-color="#4796ff"/><stop offset="0.22" stop-color="#2d6cff"/><stop offset="0.28" stop-color="#173ef8"/><stop offset="0.39" stop-color="#0513ee"/><stop offset="0.57" stop-color="#020ad6"/><stop offset="1" stop-color="#0005c8"/></linearGradient><linearGradient id="g187"><stop offset="0" stop-color="#000092"/><stop offset="0.03" stop-color="#000092"/><stop offset="0.03" stop-color="#0002ac"/><stop offset="0.04" stop-color="#1d4cfa"/><stop offset="0.05" stop-color="#5ab4ff"/><stop offset="0.06" stop-color="#6ecdf2"/><stop offset="0.08" stop-color="#76d7ec"/><stop offset="0.1" stop-color="#77d7ec"/><stop offset="0.12" stop-color="#75d5ed"/><stop offset="0.14" stop-color="#61bcfb"/><stop offset="0.17" stop-color="#4a9aff"/><stop offset="0.22" stop-color="#3070ff"/><stop offset="0.28" stop-color="#1942f9"/><stop offset="0.39" stop-color="#0615f0"/><stop offset="0.57" stop-color="#020bd8"/><stop offset="1" stop-color="#0006ca"/></linearGradient><linearGradient id="g188"><stop offset="0" stop-color="#050073"/><stop offset="0.03" stop-color="#050073"/><stop offset="0.03" stop-color="#0005c3"/><stop offset="0.04" stop-color="#0411e8"/><stop offset="0.05" stop-color="#0718f1"/><stop offset="0.06" stop-color="#0718f1"/><stop offset="0.08" stop-color="#0615f0"/><stop offset="0.1" stop-color="#0514ef"/><stop offset="0.12" stop-color="#0411e8"/><stop offset="0.14" stop-color="#030ee1"/><stop offset="0.17" stop-color="#020cda"/><stop offset="0.22" stop-color="#0109d2"/><stop offset="0.28" stop-color="#0005c9"/><stop offset="0.39" stop-color="#0004be"/><stop offset="0.57" stop-color="#0003b4"/><stop offset="1" stop-color="#0002ab"/></linearGradient><linearGradient id="g189"><stop offset="0" stop-color="#050076"/><stop offset="0.03" stop-color="#03007e"/><stop offset="0.03" stop-color="#0107cd"/><stop offset="0.04" stop-color="#0514ef"/><stop offset="0.05" stop-color="#0c24f3"/><stop offset="0.06" stop-color="#0f2af4"/><stop offset="0.08" stop-color="#245cfd"/><stop offset="0.1" stop-color="#50a5ff"/><stop offset="0.12" stop-color="#8deae2"/><stop offset="0.14" stop-color="#ccdcec"/><stop offset="0.17" stop-color="#dddedb"/><stop offset="0.22" stop-color="#e5dfd3"/><stop offset="0.28" stop-color="#eae0ce"/><stop offset="0.39" stop-color="#ecdac4"/><stop offset="0.57" stop-color="#ecd5bb"/><stop offset="1" stop-color="#edd0b4"/></linearGradient><linearGradient id="g190"><stop offset="0" stop-color="#040079"/><stop offset="0.03" stop-color="#01008d"/><stop offset="0.03" stop-color="#030fe3"/><stop offset="0.04" stop-color="#091df2"/><stop offset="0.05" stop-color="#173ef8"/><stop offset="0.06" stop-color="#2966ff"/><stop offset="0.08" stop-color="#5ab3ff"/><stop offset="0.1" stop-color="#8fe9e3"/><stop offset="0.12" stop-color="#cfdde9"/><stop offset="0.14" stop-color="#e7e0d1"/><stop offset="0.17" stop-color="#ecd5bc"/><stop offset="0.22" stop-color="#edcbac"/><stop offset="0.28" stop-color="#eec29d"/><stop offset="0.39" stop-color="#f0b78c"/><stop offset="0.57" stop-color="#eda780"/><stop offset="1" stop-color="#e99977"/></linearGradient><linearGradient id="g191"><stop offset="0" stop-color="#050073"/><stop offset="0.03" stop-color="#050073"/><stop offset="0.03" stop-color="#0005c6"/><stop offset="0.04" stop-color="#0718f1"/><stop offset="0.05" stop-color="#0d27f4"/><stop offset="0.06" stop-color="#0d26f3"/><stop offset="0.08" stop-color="#0c23f3"/><stop offset="0.1" stop-color="#0a20f2"/><stop offset="0.12" stop-color="#0617f1"/><stop offset="0.14" stop-color="#0412ea"/><stop offset="0.17" stop-color="#030fe2"/><stop offset="0.22" stop-color="#020bd9"/><stop offset="0.28" stop-color="#0108cf"/><stop offset="0.39" stop-color="#0005c5"/><stop offset="0.57" stop-color="#0004ba"/><stop offset="1" stop-color="#0003b1"/></linearGradient><linearGradient id="g192"><stop offset="0" stop-color="#050073"/><stop offset="0.03" stop-color="#050073"/><stop offset="0.03" stop-color="#0006c9"/><stop offset="0.04" stop-color="#0c25f3"/><stop offset="0.05" stop-color="#1437f7"/><stop offset="0.06" stop-color="#1435f6"/><stop offset="0.08" stop-color="#1231f5"/><stop offset="0.1" stop-color="#102df5"/><stop offset="0.12" stop-color="#0b23f3"/><stop offset="0.14" stop-color="#0718f1"/><stop offset="0.17" stop-color="#0412ea"/><stop offset="0.22" stop-color="#030ee0"/><stop offset="0.28" stop-color="#020ad6"/><stop offset="0.39" stop-color="#0006cb"/><stop offset="0.57" stop-color="#0004c1"/><stop offset="1" stop-color="#0003b7"/></linearGradient><linearGradient id="g193"><stop offset="0" stop-color="#050073"/><stop offset="0.03" stop-color="#050073"/><stop offset="0.03" stop-color="#0107cc"/><stop offset="0.04" stop-color="#1232f6"/><stop offset="0.05" stop-color="#1b46f9"/><stop offset="0.06" stop-color="#1a44f9"/><stop offset="0.08" stop-color="#183ff8"/><stop offset="0.1" stop-color="#1539f7"/><stop offset="0.12" stop-color="#112ef5"/><stop offset="0.14" stop-color="#0b22f3"/><stop offset="0.17" stop-color="#0617f1"/><stop offset="0.22" stop-color="#0411e8"/><stop offset="0.28" stop-color="#030ddc"/><stop offset="0.39" stop-color="#0108d1"/><stop offset="0.57" stop-color="#0005c7"/><stop offset="1" stop-color="#0004bd"/></linearGradient><linearGradient id="g194"><stop offset="0" stop-color="#050073"/><stop offset="0.03" stop-color="#050073"/><stop offset="0.03" stop-color="#0108d0"/><stop offset="0.04" stop-color="#1b47fa"/><stop offset="0.05" stop-color="#2864ff"/><stop offset="0.06" stop-color="#2865ff"/><stop offset="0.08" stop-color="#2763ff"/><stop offset="0.1" stop-color="#2660fe"/><stop offset="0.12" stop-color="#1e4dfb"/><stop offset="0.14" stop-color="#1437f7"/><stop offset="0.17" stop-color="#0c23f3"/><stop offset="0.22" stop-color="#0412eb"/><stop offset="0.28" stop-color="#020bd9"/><stop offset="0.39" stop-color="#0005c8"/><stop offset="0.57" stop-color="#0004bb"/><stop offset="1" stop-color="#0003b0"/></linearGradient><linearGradient id="g195"><stop offset="0" stop-color="#050076"/><stop offset="0.03" stop-color="#03007e"/><stop offset="0.03" stop-color="#020ad5"/><stop offset="0.04" stop-color="#1f4efb"/><stop offset="0.05" stop-color="#2e6eff"/><stop offset="0.06" stop-color="#3375ff"/><stop offset="0.08" stop-color="#3b82ff"/><stop offset="0.1" stop-color="#5db7fd"/><stop offset="0.12" stop-color="#99e7e5"/><stop offset="0.14" stop-color="#d0dde8"/><stop offset="0.17" stop-color="#e1dfd7"/><stop offset="0.22" stop-color="#e8e0d0"/><stop offset="0.28" stop-color="#ebdfcb"/><stop offset="0.39" stop-color="#ecd9c3"/><stop offset="0.57" stop-color="#ecd4ba"/><stop offset="1" stop-color="#edd0b3"/></linearGradient><linearGradient id="g196"><stop offset="0" stop-color="#040079"/><stop offset="0.03" stop-color="#01008d"/><stop offset="0.03" stop-color="#0411e7"/><stop offset="0.04" stop-color="#2358fd"/><stop offset="0.05" stop-color="#367aff"/><stop offset="0.06" stop-color="#3d86ff"/><stop offset="0.08" stop-color="#65c2f8"/><stop offset="0.1" stop-color="#9ee6e6"/><stop offset="0.12" stop-color="#d5dee3"/><stop offset="0.14" stop-color="#ebdfcb"/><stop offset="0.17" stop-color="#edd1b5"/><stop offset="0.22" stop-color="#eec8a7"/><stop offset="0.28" stop-color="#efc09a"/><stop offset="0.39" stop-color="#f0b68a"/><stop offset="0.57" stop-color="#eda67f"/><stop offset="1" stop-color="#e99877"/></linearGradient><linearGradient id="g197"><stop offset="0" stop-color="#050073"/><stop offset="0.03" stop-color="#050073"/><stop offset="0.03" stop-color="#0109d3"/><stop offset="0.04" stop-color="#2154fc"/><stop offset="0.05" stop-color="#3071ff"/><stop offset="0.06" stop-color="#3072ff"/><stop offset="0.08" stop-color="#2f6fff"/><stop offset="0.1" stop-color="#2d6cff"/><stop offset="0.12" stop-color="#2358fd"/><stop offset="0.14" stop-color="#1942f9"/><stop offset="0.17" stop-color="#102df5"/><stop offset="0.22" stop-color="#0617f1"/><stop offset="0.28" stop-color="#030edf"/><stop offset="0.39" stop-color="#0107ce"/><stop offset="0.57" stop-color="#0004c1"/><stop offset="1" stop-color="#0003b7"/></linearGradient><linearGradient id="g198"><stop offset="0" stop-color="#050073"/><stop offset="0.03" stop-color="#050073"/><stop offset="0.03" stop-color="#020ad6"/><stop offset="0.04" stop-color="#2761fe"/><stop offset="0.05" stop-color="#397fff"/><stop offset="0.06" stop-color="#397fff"/><stop offset="0.08" stop-color="#367bff"/><stop offset="0.1" stop-color="#3477ff"/><stop offset="0.12" stop-color="#2864ff"/><stop offset="0.14" stop-color="#1e4cfb"/><stop offset="0.17" stop-color="#1436f6"/><stop offset="0.22" stop-color="#0a1ff2"/><stop offset="0.28" stop-color="#0410e6"/><stop offset="0.39" stop-color="#0109d4"/><stop offset="0.57" stop-color="#0005c7"/><stop offset="1" stop-color="#0004bd"/></linearGradient><linearGradient id="g199"><stop offset="0" stop-color="#050073"/><stop offset="0.03" stop-color="#050073"/><stop offset="0.03" stop-color="#020bd8"/><stop offset="0.04" stop-color="#2d6cff"/><stop offset="0.05" stop-color="#418cff"/><stop offset="0.06" stop-color="#418cff"/><stop offset="0.08" stop-color="#3e87ff"/><stop offset="0.1" stop-color="#3b82ff"/><stop offset="0.12" stop-color="#2e6eff"/><stop offset="0.14" stop-color="#2257fd"/><stop offset="0.17" stop-color="#1840f8"/><stop offset="0.22" stop-color="#0e28f4"/><stop offset="0.28" stop-color="#0513ec"/><stop offset="0.39" stop-color="#020bd9"/><stop offset="0.57" stop-color="#0107cd"/><stop offset="1" stop-color="#0005c3"/></linearGradient><linearGradient id="g200"><stop offset="0" stop-color="#050073"/><stop offset="0.03" stop-color="#050073"/><stop offset="0.03" stop-color="#030fe4"/><stop offset="0.04" stop-color="#4c9eff"/><stop offset="0.05" stop-color="#68c5f6"/><stop offset="0.06" stop-color="#6ac7f5"/><stop offset="0.08" stop-color="#69c6f5"/><stop offset="0.1" stop-color="#68c5f6"/><stop offset="0.12" stop-color="#53a9ff"/><stop offset="0.14" stop-color="#3c84ff"/><stop offset="0.17" stop-color="#2761ff"/><stop offset="0.22" stop-color="#1539f7"/><stop offset="0.28" stop-color="#0513ee"/><stop offset="0.39" stop-color="#0109d2"/><stop offset="0.57" stop-color="#0004bf"/><stop offset="1" stop-color="#0003b3"/></linearGradient><linearGradient id="g201"><stop offset="0" stop-color="#050076"/><stop offset="0.03" stop-color="#03007e"/><stop offset="0.03" stop-color="#0411e9"/><stop offset="0.04" stop-color="#50a4ff"/><stop offset="0.05" stop-color="#6eccf2"/><stop offset="0.06" stop-color="#73d2ee"/><stop offset="0.08" stop-color="#7adbe9"/><stop offset="0.1" stop-color="#86e9e2"/><stop offset="0.12" stop-color="#ade2ea"/><stop offset="0.14" stop-color="#d8dee0"/><stop offset="0.17" stop-color="#e6dfd2"/><stop offset="0.22" stop-color="#ebdfcc"/><stop offset="0.28" stop-color="#ebdcc7"/><stop offset="0.39" stop-color="#ecd8c1"/><stop offset="0.57" stop-color="#ecd4b9"/><stop offset="1" stop-color="#edd0b3"/></linearGradient><linearGradient id="g202"><stop offset="0" stop-color="#040079"/><stop offset="0.03" stop-color="#01008d"/><stop offset="0.03" stop-color="#0514ef"/><stop offset="0.04" stop-color="#55adff"/><stop offset="0.05" stop-color="#75d5ed"/><stop offset="0.06" stop-color="#7ddee8"/><stop offset="0.08" stop-color="#89eae2"/><stop offset="0.1" stop-color="#b5e0ec"/><stop offset="0.12" stop-color="#dfdfd9"/><stop offset="0.14" stop-color="#ecd6bd"/><stop offset="0.17" stop-color="#edcaab"/><stop offset="0.22" stop-color="#eec4a0"/><stop offset="0.28" stop-color="#efbd96"/><stop offset="0.39" stop-color="#f0b589"/><stop offset="0.57" stop-color="#eda57f"/><stop offset="1" stop-color="#e99776"/></linearGradient><linearGradient id="g203"><stop offset="0" stop-color="#050073"/><stop offset="0.03" stop-color="#050073"/><stop offset="0.03" stop-color="#0410e6"/><stop offset="0.04" stop-color="#53a9ff"/><stop offset="0.05" stop-color="#70cef1"/><stop offset="0.06" stop-color="#71d0f0"/><stop offset="0.08" stop-color="#6fcef1"/><stop offset="0.1" stop-color="#6eccf2"/><stop offset="0.12" stop-color="#5ab4ff"/><stop offset="0.14" stop-color="#428dff"/><stop offset="0.17" stop-color="#2c6aff"/><stop offset="0.22" stop-color="#1941f8"/><stop offset="0.28" stop-color="#0719f1"/><stop offset="0.39" stop-color="#020bd7"/><stop offset="0.57" stop-color="#0005c6"/><stop offset="1" stop-color="#0004b9"/></linearGradient><linearGradient id="g204"><stop offset="0" stop-color="#050073"/><stop offset="0.03" stop-color="#050073"/><stop offset="0.03" stop-color="#0411e9"/><stop offset="0.04" stop-color="#5ab4ff"/><stop offset="0.05" stop-color="#77d8ec"/><stop offset="0.06" stop-color="#78d9eb"/><stop offset="0.08" stop-color="#76d6ec"/><stop offset="0.1" stop-color="#74d4ee"/><stop offset="0.12" stop-color="#60bbfb"/><stop offset="0.14" stop-color="#4897ff"/><stop offset="0.17" stop-color="#3173ff"/><stop offset="0.22" stop-color="#1d4afa"/><stop offset="0.28" stop-color="#0b21f2"/><stop offset="0.39" stop-color="#030ddd"/><stop offset="0.57" stop-color="#0006cb"/><stop offset="1" stop-color="#0004c0"/></linearGradient><linearGradient id="g205"><stop offset="0" stop-color="#050073"/><stop offset="0.03" stop-color="#050073"/><stop offset="0.03" stop-color="#0412ec"/><stop offset="0.04" stop-color="#61bcfb"/><stop offset="0.05" stop-color="#7fe1e6"/><stop offset="0.06" stop-color="#80e2e6"/><stop offset="0.08" stop-color="#7ddfe8"/><stop offset="0.1" stop-color="#7adce9"/><stop offset="0.12" stop-color="#65c2f7"/><stop offset="0.14" stop-color="#4da0ff"/><stop offset="0.17" stop-color="#367bff"/><stop offset="0.22" stop-color="#2052fc"/><stop offset="0.28" stop-color="#0e28f4"/><stop offset="0.39" stop-color="#030fe3"/><stop offset="0.57" stop-color="#0108d0"/><stop offset="1" stop-color="#0005c6"/></linearGradient><linearGradient id="g206"><stop offset="0" stop-color="#050073"/><stop offset="0.03" stop-color="#050073"/><stop offset="0.03" stop-color="#0004be"/><stop offset="0.04" stop-color="#020bd8"/><stop offset="0.05" stop-color="#030dde"/><stop offset="0.06" stop-color="#030dde"/><stop offset="0.08" stop-color="#020cdc"/><stop offset="0.1" stop-color="#020cda"/><stop offset="0.12" stop-color="#0109d4"/><stop offset="0.14" stop-color="#0107cc"/><stop offset="0.17" stop-color="#0005c5"/><stop offset="0.22" stop-color="#0004bc"/><stop offset="0.28" stop-color="#0003b1"/><stop offset="0.39" stop-color="#0002a6"/><stop offset="0.57" stop-color="#00019d"/><stop offset="1" stop-color="#000095"/></linearGradient><linearGradient id="g207"><stop offset="0" stop-color="#050074"/><stop offset="0.03" stop-color="#050076"/><stop offset="0.03" stop-color="#0004c0"/><stop offset="0.04" stop-color="#020bd9"/><stop offset="0.05" stop-color="#030ee1"/><stop offset="0.06" stop-color="#030fe2"/><stop offset="0.08" stop-color="#0410e4"/><stop offset="0.1" stop-color="#0719f1"/><stop offset="0.12" stop-color="#2358fd"/><stop offset="0.14" stop-color="#58b1ff"/><stop offset="0.17" stop-color="#83e6e4"/><stop offset="0.22" stop-color="#9fe6e6"/><stop offset="0.28" stop-color="#ace2ea"/><stop offset="0.39" stop-color="#b8e0ec"/><stop offset="0.57" stop-color="#c2ddef"/><stop offset="1" stop-color="#c9dcef"/></linearGradient><linearGradient id="g208"><stop offset="0" stop-color="#050075"/><stop offset="0.03" stop-color="#04007b"/><stop offset="0.03" stop-color="#0005c6"/><stop offset="0.04" stop-color="#030ddc"/><stop offset="0.05" stop-color="#0410e6"/><stop offset="0.06" stop-color="#0411e9"/><stop offset="0.08" stop-color="#1334f6"/><stop offset="0.1" stop-color="#3477ff"/><stop offset="0.12" stop-color="#72d1ef"/><stop offset="0.14" stop-color="#c9dcef"/><stop offset="0.17" stop-color="#e9e0cf"/><stop offset="0.22" stop-color="#eec9a9"/><stop offset="0.28" stop-color="#f0b387"/><stop offset="0.39" stop-color="#e5866d"/><stop offset="0.57" stop-color="#db5c55"/><stop offset="1" stop-color="#cc4045"/></linearGradient><linearGradient id="g209"><stop offset="0" stop-color="#050073"/><stop offset="0.03" stop-color="#050073"/><stop offset="0.03" stop-color="#0004c0"/><stop offset="0.04" stop-color="#030ddd"/><stop offset="0.05" stop-color="#0410e5"/><stop offset="0.06" stop-color="#0410e4"/><stop offset="0.08" stop-color="#030fe2"/><stop offset="0.1" stop-color="#030ee0"/><stop offset="0.12" stop-color="#020bd9"/><stop offset="0.14" stop-color="#0108d1"/><stop offset="0.17" stop-color="#0006ca"/><stop offset="0.22" stop-color="#0004c0"/><stop offset="0.28" stop-color="#0003b5"/><stop offset="0.39" stop-color="#0002aa"/><stop offset="0.57" stop-color="#0001a0"/><stop offset="1" stop-color="#000097"/></linearGradient><linearGradient id="g210"><stop offset="0" stop-color="#050073"/><stop offset="0.03" stop-color="#050073"/><stop offset="0.03" stop-color="#0004c2"/><stop offset="0.04" stop-color="#030fe3"/><stop offset="0.05" stop-color="#0412ec"/><stop offset="0.06" stop-color="#0412eb"/><stop offset="0.08" stop-color="#0411e8"/><stop offset="0.1" stop-color="#0410e5"/><stop offset="0.12" stop-color="#030dde"/><stop offset="0.14" stop-color="#020ad6"/><stop offset="0.17" stop-color="#0107ce"/><stop offset="0.22" stop-color="#0005c5"/><stop offset="0.28" stop-color="#0004b9"/><stop offset="0.39" stop-color="#0002ad"/><stop offset="0.57" stop-color="#0001a3"/><stop offset="1" stop-color="#00009a"/></linearGradient><linearGradient id="g211"><stop offset="0" stop-color="#050073"/><stop offset="0.03" stop-color="#050073"/><stop offset="0.03" stop-color="#0005c3"/><stop offset="0.04" stop-color="#0411e8"/><stop offset="0.05" stop-color="#0617f1"/><stop offset="0.06" stop-color="#0616f0"/><stop offset="0.08" stop-color="#0513ee"/><stop offset="0.1" stop-color="#0412eb"/><stop offset="0.12" stop-color="#030fe3"/><stop offset="0.14" stop-color="#020cda"/><stop offset="0.17" stop-color="#0109d2"/><stop offset="0.22" stop-color="#0005c9"/><stop offset="0.28" stop-color="#0004bd"/><stop offset="0.39" stop-color="#0003b1"/><stop offset="0.57" stop-color="#0002a6"/><stop offset="1" stop-color="#00019d"/></linearGradient><linearGradient id="g212"><stop offset="0" stop-color="#050073"/><stop offset="0.03" stop-color="#050073"/><stop offset="0.03" stop-color="#0006cb"/><stop offset="0.04" stop-color="#102cf5"/><stop offset="0.05" stop-color="#1942f9"/><stop offset="0.06" stop-color="#1942f9"/><stop offset="0.08" stop-color="#1840f8"/><stop offset="0.1" stop-color="#173ef8"/><stop offset="0.12" stop-color="#0f2cf4"/><stop offset="0.14" stop-color="#0718f1"/><stop offset="0.17" stop-color="#030fe4"/><stop offset="0.22" stop-color="#0109d3"/><stop offset="0.28" stop-color="#0004c1"/><stop offset="0.39" stop-color="#0002ad"/><stop offset="0.57" stop-color="#0001a0"/><stop offset="1" stop-color="#000096"/></linearGradient><linearGradient id="g213"><stop offset="0" stop-color="#050074"/><stop offset="0.03" stop-color="#050076"/><stop offset="0.03" stop-color="#0006cc"/><stop offset="0.04" stop-color="#102ef5"/><stop offset="0.05" stop-color="#1a45f9"/><stop offset="0.06" stop-color="#1b47f9"/><stop offset="0.08" stop-color="#1c49fa"/><stop offset="0.1" stop-color="#2051fb"/><stop offset="0.12" stop-color="#2b68ff"/><stop offset="0.14" stop-color="#5fbafc"/><stop offset="0.17" stop-color="#88ebe1"/><stop offset="0.22" stop-color="#a3e4e8"/><stop offset="0.28" stop-color="#afe2ea"/><stop offset="0.39" stop-color="#b9dfed"/><stop offset="0.57" stop-color="#c3ddef"/><stop offset="1" stop-color="#c9dcef"/></linearGradient><linearGradient id="g214"><stop offset="0" stop-color="#050075"/><stop offset="0.03" stop-color="#04007b"/><stop offset="0.03" stop-color="#0107ce"/><stop offset="0.04" stop-color="#1231f5"/><stop offset="0.05" stop-color="#1d4afa"/><stop offset="0.06" stop-color="#1f4ffb"/><stop offset="0.08" stop-color="#245afd"/><stop offset="0.1" stop-color="#3f89ff"/><stop offset="0.12" stop-color="#7adce9"/><stop offset="0.14" stop-color="#cdddeb"/><stop offset="0.17" stop-color="#ebdfcb"/><stop offset="0.22" stop-color="#eec7a5"/><stop offset="0.28" stop-color="#efb185"/><stop offset="0.39" stop-color="#e5856c"/><stop offset="0.57" stop-color="#db5b54"/><stop offset="1" stop-color="#cc4045"/></linearGradient><linearGradient id="g215"><stop offset="0" stop-color="#050073"/><stop offset="0.03" stop-color="#050073"/><stop offset="0.03" stop-color="#0107cc"/><stop offset="0.04" stop-color="#1233f6"/><stop offset="0.05" stop-color="#1c4afa"/><stop offset="0.06" stop-color="#1c4afa"/><stop offset="0.08" stop-color="#1b47fa"/><stop offset="0.1" stop-color="#1a44f9"/><stop offset="0.12" stop-color="#1232f6"/><stop offset="0.14" stop-color="#091ef2"/><stop offset="0.17" stop-color="#0411e8"/><stop offset="0.22" stop-color="#020ad7"/><stop offset="0.28" stop-color="#0005c5"/><stop offset="0.39" stop-color="#0003b1"/><stop offset="0.57" stop-color="#0001a3"/><stop offset="1" stop-color="#000099"/></linearGradient><linearGradient id="g216"><stop offset="0" stop-color="#050073"/><stop offset="0.03" stop-color="#050073"/><stop offset="0.03" stop-color="#0107ce"/><stop offset="0.04" stop-color="#1539f7"/><stop offset="0.05" stop-color="#2051fb"/><stop offset="0.06" stop-color="#2051fb"/><stop offset="0.08" stop-color="#1e4efb"/><stop offset="0.1" stop-color="#1d4bfa"/><stop offset="0.12" stop-color="#1538f7"/><stop offset="0.14" stop-color="#0c23f3"/><stop offset="0.17" stop-color="#0513ec"/><stop offset="0.22" stop-color="#020cda"/><stop offset="0.28" stop-color="#0005c9"/><stop offset="0.39" stop-color="#0003b5"/><stop offset="0.57" stop-color="#0002a7"/><stop offset="1" stop-color="#00019c"/></linearGradient><linearGradient id="g217"><stop offset="0" stop-color="#050073"/><stop offset="0.03" stop-color="#050073"/><stop offset="0.03" stop-color="#0108cf"/><stop offset="0.04" stop-color="#1840f8"/><stop offset="0.05" stop-color="#2359fd"/><stop offset="0.06" stop-color="#2359fd"/><stop offset="0.08" stop-color="#2155fc"/><stop offset="0.1" stop-color="#2051fb"/><stop offset="0.12" stop-color="#173df8"/><stop offset="0.14" stop-color="#0e28f4"/><stop offset="0.17" stop-color="#0514f0"/><stop offset="0.22" stop-color="#030dde"/><stop offset="0.28" stop-color="#0006cc"/><stop offset="0.39" stop-color="#0003b8"/><stop offset="0.57" stop-color="#0002aa"/><stop offset="1" stop-color="#00019f"/></linearGradient><linearGradient id="g218"><stop offset="0" stop-color="#050073"/><stop offset="0.03" stop-color="#050073"/><stop offset="0.03" stop-color="#030ddc"/><stop offset="0.04" stop-color="#387dff"/><stop offset="0.05" stop-color="#50a4ff"/><stop offset="0.06" stop-color="#51a6ff"/><stop offset="0.08" stop-color="#50a4ff"/><stop offset="0.1" stop-color="#4fa2ff"/><stop offset="0.12" stop-color="#3b83ff"/><stop offset="0.14" stop-color="#2660fe"/><stop offset="0.17" stop-color="#173df8"/><stop offset="0.22" stop-color="#0718f1"/><stop offset="0.28" stop-color="#020ad4"/><stop offset="0.39" stop-color="#0003b7"/><stop offset="0.57" stop-color="#0001a3"/><stop offset="1" stop-color="#000097"/></linearGradient><linearGradient id="g219"><stop offset="0" stop-color="#050074"/><stop offset="0.03" stop-color="#050076"/><stop offset="0.03" stop-color="#030ddd"/><stop offset="0.04" stop-color="#397fff"/><stop offset="0.05" stop-color="#51a6ff"/><stop offset="0.06" stop-color="#54aaff"/><stop offset="0.08" stop-color="#55acff"/><stop offset="0.1" stop-color="#59b3ff"/><stop offset="0.12" stop-color="#51a5ff"/><stop offset="0.14" stop-color="#6ac7f5"/><stop offset="0.17" stop-color="#93e8e4"/><stop offset="0.22" stop-color="#aae3e9"/><stop offset="0.28" stop-color="#b3e1eb"/><stop offset="0.39" stop-color="#badfed"/><stop offset="0.57" stop-color="#c3ddef"/><stop offset="1" stop-color="#c9dcef"/></linearGradient><linearGradient id="g220"><stop offset="0" stop-color="#050075"/><stop offset="0.03" stop-color="#04007b"/><stop offset="0.03" stop-color="#030ee0"/><stop offset="0.04" stop-color="#3b82ff"/><stop offset="0.05" stop-color="#54abff"/><stop offset="0.06" stop-color="#58b1ff"/><stop offset="0.08" stop-color="#5eb9fc"/><stop offset="0.1" stop-color="#67c4f6"/><stop offset="0.12" stop-color="#88ebe1"/><stop offset="0.14" stop-color="#d3dde5"/><stop offset="0.17" stop-color="#ecd9c2"/><stop offset="0.22" stop-color="#eec39f"/><stop offset="0.28" stop-color="#eeac83"/><stop offset="0.39" stop-color="#e4836b"/><stop offset="0.57" stop-color="#db5b54"/><stop offset="1" stop-color="#cc4045"/></linearGradient><linearGradient id="g221"><stop offset="0" stop-color="#050073"/><stop offset="0.03" stop-color="#050073"/><stop offset="0.03" stop-color="#030dde"/><stop offset="0.04" stop-color="#3b83ff"/><stop offset="0.05" stop-color="#54abff"/><stop offset="0.06" stop-color="#55acff"/><stop offset="0.08" stop-color="#54aaff"/><stop offset="0.1" stop-color="#52a8ff"/><stop offset="0.12" stop-color="#3e88ff"/><stop offset="0.14" stop-color="#2965ff"/><stop offset="0.17" stop-color="#1942f9"/><stop offset="0.22" stop-color="#091cf2"/><stop offset="0.28" stop-color="#020bd8"/><stop offset="0.39" stop-color="#0004ba"/><stop offset="0.57" stop-color="#0002a6"/><stop offset="1" stop-color="#00009a"/></linearGradient><linearGradient id="g222"><stop offset="0" stop-color="#050073"/><stop offset="0.03" stop-color="#050073"/><stop offset="0.03" stop-color="#030edf"/><stop offset="0.04" stop-color="#3f89ff"/><stop offset="0.05" stop-color="#58b1ff"/><stop offset="0.06" stop-color="#59b3ff"/><stop offset="0.08" stop-color="#58b0ff"/><stop offset="0.1" stop-color="#56adff"/><stop offset="0.12" stop-color="#428dff"/><stop offset="0.14" stop-color="#2c6aff"/><stop offset="0.17" stop-color="#1b46f9"/><stop offset="0.22" stop-color="#0a20f2"/><stop offset="0.28" stop-color="#020cdb"/><stop offset="0.39" stop-color="#0004be"/><stop offset="0.57" stop-color="#0002a9"/><stop offset="1" stop-color="#00019e"/></linearGradient><linearGradient id="g223"><stop offset="0" stop-color="#050073"/><stop offset="0.03" stop-color="#050073"/><stop offset="0.03" stop-color="#030ee0"/><stop offset="0.04" stop-color="#428eff"/><stop offset="0.05" stop-color="#5cb7fd"/><stop offset="0.06" stop-color="#5db8fd"/><stop offset="0.08" stop-color="#5bb5fe"/><stop offset="0.1" stop-color="#59b3ff"/><stop offset="0.12" stop-color="#4592ff"/><stop offset="0.14" stop-color="#2f6fff"/><stop offset="0.17" stop-color="#1d4bfa"/><stop offset="0.22" stop-color="#0c25f3"/><stop offset="0.28" stop-color="#030dde"/><stop offset="0.39" stop-color="#0004c1"/><stop offset="0.57" stop-color="#0002ad"/><stop offset="1" stop-color="#0001a1"/></linearGradient><linearGradient id="g224"><stop offset="0" stop-color="#000092"/><stop offset="0.03" stop-color="#000092"/><stop offset="0.03" stop-color="#00009b"/><stop offset="0.04" stop-color="#0107ce"/><stop offset="0.05" stop-color="#0718f1"/><stop offset="0.06" stop-color="#0e27f4"/><stop offset="0.08" stop-color="#102df5"/><stop offset="0.1" stop-color="#102df5"/><stop offset="0.12" stop-color="#0f2cf4"/><stop offset="0.14" stop-color="#0c25f3"/><stop offset="0.17" stop-color="#091ef2"/><stop offset="0.22" stop-color="#0615f0"/><stop offset="0.28" stop-color="#0411e9"/><stop offset="0.39" stop-color="#030ee0"/><stop offset="0.57" stop-color="#020bd8"/><stop offset="1" stop-color="#0108d0"/></linearGradient><linearGradient id="g225"><stop offset="0" stop-color="#00019c"/><stop offset="0.03" stop-color="#0005c4"/><stop offset="0.03" stop-color="#0006cc"/><stop offset="0.04" stop-color="#0616f0"/><stop offset="0.05" stop-color="#2052fc"/><stop offset="0.06" stop-color="#3b83ff"/><stop offset="0.08" stop-color="#6ccaf3"/><stop offset="0.1" stop-color="#a2e5e7"/><stop offset="0.12" stop-color="#d2dde6"/><stop offset="0.14" stop-color="#e5dfd3"/><stop offset="0.17" stop-color="#ebddc9"/><stop offset="0.22" stop-color="#ecd7bf"/><stop offset="0.28" stop-color="#edd2b7"/><stop offset="0.39" stop-color="#edccae"/><stop offset="0.57" stop-color="#eec7a6"/><stop offset="1" stop-color="#eec4a0"/></linearGradient><linearGradient id="g226"><stop offset="0" stop-color="#0002ad"/><stop offset="0.03" stop-color="#0718f1"/><stop offset="0.03" stop-color="#0b22f3"/><stop offset="0.04" stop-color="#2358fd"/><stop offset="0.05" stop-color="#4ea1ff"/><stop offset="0.06" stop-color="#72d2ef"/><stop offset="0.08" stop-color="#b1e1eb"/><stop offset="0.1" stop-color="#d7dee1"/><stop offset="0.12" stop-color="#ebe0cd"/><stop offset="0.14" stop-color="#ecd4ba"/><stop offset="0.17" stop-color="#edceb0"/><stop offset="0.22" stop-color="#eec9a9"/><stop offset="0.28" stop-color="#eec5a1"/><stop offset="0.39" stop-color="#efbf99"/><stop offset="0.57" stop-color="#efbb92"/><stop offset="1" stop-color="#f0b88d"/></linearGradient><linearGradient id="g227"><stop offset="0" stop-color="#000092"/><stop offset="0.03" stop-color="#000092"/><stop offset="0.03" stop-color="#00019c"/><stop offset="0.04" stop-color="#020ad4"/><stop offset="0.05" stop-color="#0c25f3"/><stop offset="0.06" stop-color="#1435f6"/><stop offset="0.08" stop-color="#163bf7"/><stop offset="0.1" stop-color="#163af7"/><stop offset="0.12" stop-color="#1437f7"/><stop offset="0.14" stop-color="#112ff5"/><stop offset="0.17" stop-color="#0d27f4"/><stop offset="0.22" stop-color="#091ef2"/><stop offset="0.28" stop-color="#0514f0"/><stop offset="0.39" stop-color="#0410e6"/><stop offset="0.57" stop-color="#030ddd"/><stop offset="1" stop-color="#020ad5"/></linearGradient><linearGradient id="g228"><stop offset="0" stop-color="#000092"/><stop offset="0.03" stop-color="#000092"/><stop offset="0.03" stop-color="#00019d"/><stop offset="0.04" stop-color="#020cdb"/><stop offset="0.05" stop-color="#1231f6"/><stop offset="0.06" stop-color="#1a43f9"/><stop offset="0.08" stop-color="#1c48fa"/><stop offset="0.1" stop-color="#1b47f9"/><stop offset="0.12" stop-color="#1a43f9"/><stop offset="0.14" stop-color="#163af7"/><stop offset="0.17" stop-color="#1231f5"/><stop offset="0.22" stop-color="#0d26f3"/><stop offset="0.28" stop-color="#081bf1"/><stop offset="0.39" stop-color="#0412ec"/><stop offset="0.57" stop-color="#030fe3"/><stop offset="1" stop-color="#020cda"/></linearGradient><linearGradient id="g229"><stop offset="0" stop-color="#000092"/><stop offset="0.03" stop-color="#000092"/><stop offset="0.03" stop-color="#00019f"/><stop offset="0.04" stop-color="#030ee1"/><stop offset="0.05" stop-color="#173ef8"/><stop offset="0.06" stop-color="#2051fb"/><stop offset="0.08" stop-color="#2256fc"/><stop offset="0.1" stop-color="#2153fc"/><stop offset="0.12" stop-color="#1f4ffb"/><stop offset="0.14" stop-color="#1a45f9"/><stop offset="0.17" stop-color="#163af7"/><stop offset="0.22" stop-color="#112ff5"/><stop offset="0.28" stop-color="#0b22f3"/><stop offset="0.39" stop-color="#0615f0"/><stop offset="0.57" stop-color="#0411e8"/><stop offset="1" stop-color="#030edf"/></linearGradient><linearGradient id="g230"><stop offset="0" stop-color="#000092"/><stop offset="0.03" stop-color="#000092"/><stop offset="0.03" stop-color="#0001a0"/><stop offset="0.04" stop-color="#0411e8"/><stop offset="0.05" stop-color="#1e4efb"/><stop offset="0.06" stop-color="#2965ff"/><stop offset="0.08" stop-color="#2e6eff"/><stop offset="0.1" stop-color="#2e6eff"/><stop offset="0.12" stop-color="#2e6dff"/><stop offset="0.14" stop-color="#255dfe"/><stop offset="0.17" stop-color="#1d4cfa"/><stop offset="0.22" stop-color="#1538f7"/><stop offset="0.28" stop-color="#0c23f3"/><stop offset="0.39" stop-color="#0412eb"/><stop offset="0.57" stop-color="#030ddf"/><stop offset="1" stop-color="#020ad5"/></linearGradient><linearGradient id="g231"><stop offset="0" stop-color="#00019c"/><stop offset="0.03" stop-color="#0005c4"/><stop offset="0.03" stop-color="#0107cd"/><stop offset="0.04" stop-color="#0a1ff2"/><stop offset="0.05" stop-color="#2b69ff"/><stop offset="0.06" stop-color="#4693ff"/><stop offset="0.08" stop-color="#76d6ed"/><stop offset="0.1" stop-color="#afe2ea"/><stop offset="0.12" stop-color="#d9dedf"/><stop offset="0.14" stop-color="#eae0ce"/><stop offset="0.17" stop-color="#ecd8c1"/><stop offset="0.22" stop-color="#ecd4b9"/><stop offset="0.28" stop-color="#edd0b3"/><stop offset="0.39" stop-color="#edcbac"/><stop offset="0.57" stop-color="#eec7a4"/><stop offset="1" stop-color="#eec39f"/></linearGradient><linearGradient id="g232"><stop offset="0" stop-color="#0002ad"/><stop offset="0.03" stop-color="#0718f1"/><stop offset="0.03" stop-color="#0c24f3"/><stop offset="0.04" stop-color="#2761fe"/><stop offset="0.05" stop-color="#57afff"/><stop offset="0.06" stop-color="#7cdde9"/><stop offset="0.08" stop-color="#bddeee"/><stop offset="0.1" stop-color="#dddedb"/><stop offset="0.12" stop-color="#ecdac3"/><stop offset="0.14" stop-color="#edceb1"/><stop offset="0.17" stop-color="#eec9a8"/><stop offset="0.22" stop-color="#eec5a3"/><stop offset="0.28" stop-color="#eec29e"/><stop offset="0.39" stop-color="#efbe97"/><stop offset="0.57" stop-color="#efba91"/><stop offset="1" stop-color="#f0b78c"/></linearGradient><linearGradient id="g233"><stop offset="0" stop-color="#000092"/><stop offset="0.03" stop-color="#000092"/><stop offset="0.03" stop-color="#0001a2"/><stop offset="0.04" stop-color="#0513ef"/><stop offset="0.05" stop-color="#245afd"/><stop offset="0.06" stop-color="#3071ff"/><stop offset="0.08" stop-color="#367aff"/><stop offset="0.1" stop-color="#3579ff"/><stop offset="0.12" stop-color="#3477ff"/><stop offset="0.14" stop-color="#2a67ff"/><stop offset="0.17" stop-color="#2155fc"/><stop offset="0.22" stop-color="#1840f8"/><stop offset="0.28" stop-color="#0f2af4"/><stop offset="0.39" stop-color="#0615f0"/><stop offset="0.57" stop-color="#030fe4"/><stop offset="1" stop-color="#020cda"/></linearGradient><linearGradient id="g234"><stop offset="0" stop-color="#000092"/><stop offset="0.03" stop-color="#000092"/><stop offset="0.03" stop-color="#0001a3"/><stop offset="0.04" stop-color="#081af1"/><stop offset="0.05" stop-color="#2966ff"/><stop offset="0.06" stop-color="#387dff"/><stop offset="0.08" stop-color="#3d85ff"/><stop offset="0.1" stop-color="#3c85ff"/><stop offset="0.12" stop-color="#3a82ff"/><stop offset="0.14" stop-color="#3071ff"/><stop offset="0.17" stop-color="#265ffe"/><stop offset="0.22" stop-color="#1c49fa"/><stop offset="0.28" stop-color="#1232f6"/><stop offset="0.39" stop-color="#081cf1"/><stop offset="0.57" stop-color="#0411e9"/><stop offset="1" stop-color="#030edf"/></linearGradient><linearGradient id="g235"><stop offset="0" stop-color="#000092"/><stop offset="0.03" stop-color="#000092"/><stop offset="0.03" stop-color="#0001a5"/><stop offset="0.04" stop-color="#0b21f2"/><stop offset="0.05" stop-color="#3071ff"/><stop offset="0.06" stop-color="#3f89ff"/><stop offset="0.08" stop-color="#4491ff"/><stop offset="0.1" stop-color="#4390ff"/><stop offset="0.12" stop-color="#418cff"/><stop offset="0.14" stop-color="#367aff"/><stop offset="0.17" stop-color="#2a68ff"/><stop offset="0.22" stop-color="#2051fb"/><stop offset="0.28" stop-color="#1539f7"/><stop offset="0.39" stop-color="#0b22f3"/><stop offset="0.57" stop-color="#0513ee"/><stop offset="1" stop-color="#030fe4"/></linearGradient><linearGradient id="g236"><stop offset="0" stop-color="#000092"/><stop offset="0.03" stop-color="#000092"/><stop offset="0.03" stop-color="#0002a9"/><stop offset="0.04" stop-color="#163af7"/><stop offset="0.05" stop-color="#4a9aff"/><stop offset="0.06" stop-color="#5eb9fd"/><stop offset="0.08" stop-color="#66c2f7"/><stop offset="0.1" stop-color="#67c3f7"/><stop offset="0.12" stop-color="#66c3f7"/><stop offset="0.14" stop-color="#55abff"/><stop offset="0.17" stop-color="#418cff"/><stop offset="0.22" stop-color="#2c6aff"/><stop offset="0.28" stop-color="#1a43f9"/><stop offset="0.39" stop-color="#091ef2"/><stop offset="0.57" stop-color="#030fe4"/><stop offset="1" stop-color="#020bd7"/></linearGradient><linearGradient id="g237"><stop offset="0" stop-color="#00019c"/><stop offset="0.03" stop-color="#0005c4"/><stop offset="0.03" stop-color="#0108cf"/><stop offset="0.04" stop-color="#1e4dfb"/><stop offset="0.05" stop-color="#59b3ff"/><stop offset="0.06" stop-color="#72d2ef"/><stop offset="0.08" stop-color="#87ebe1"/><stop offset="0.1" stop-color="#c2ddef"/><stop offset="0.12" stop-color="#e2dfd6"/><stop offset="0.14" stop-color="#ecd8c0"/><stop offset="0.17" stop-color="#edd1b5"/><stop offset="0.22" stop-color="#edceb1"/><stop offset="0.28" stop-color="#edccae"/><stop offset="0.39" stop-color="#eec9a9"/><stop offset="0.57" stop-color="#eec6a3"/><stop offset="1" stop-color="#eec39f"/></linearGradient><linearGradient id="g238"><stop offset="0" stop-color="#0002ad"/><stop offset="0.03" stop-color="#0718f1"/><stop offset="0.03" stop-color="#0d26f3"/><stop offset="0.04" stop-color="#2e6eff"/><stop offset="0.05" stop-color="#66c3f7"/><stop offset="0.06" stop-color="#8beae2"/><stop offset="0.08" stop-color="#ccdcec"/><stop offset="0.1" stop-color="#e7dfd1"/><stop offset="0.12" stop-color="#edceb1"/><stop offset="0.14" stop-color="#eec5a2"/><stop offset="0.17" stop-color="#eec19c"/><stop offset="0.22" stop-color="#efc09a"/><stop offset="0.28" stop-color="#efbf98"/><stop offset="0.39" stop-color="#efbc94"/><stop offset="0.57" stop-color="#efb990"/><stop offset="1" stop-color="#f0b78b"/></linearGradient><linearGradient id="g239"><stop offset="0" stop-color="#000092"/><stop offset="0.03" stop-color="#000092"/><stop offset="0.03" stop-color="#0002ab"/><stop offset="0.04" stop-color="#1942f9"/><stop offset="0.05" stop-color="#51a5ff"/><stop offset="0.06" stop-color="#65c1f8"/><stop offset="0.08" stop-color="#6ccaf3"/><stop offset="0.1" stop-color="#6dcbf2"/><stop offset="0.12" stop-color="#6ccaf3"/><stop offset="0.14" stop-color="#5ab4ff"/><stop offset="0.17" stop-color="#4695ff"/><stop offset="0.22" stop-color="#3071ff"/><stop offset="0.28" stop-color="#1d4afa"/><stop offset="0.39" stop-color="#0c25f3"/><stop offset="0.57" stop-color="#0411e9"/><stop offset="1" stop-color="#030ddc"/></linearGradient><linearGradient id="g240"><stop offset="0" stop-color="#000092"/><stop offset="0.03" stop-color="#000092"/><stop offset="0.03" stop-color="#0002ac"/><stop offset="0.04" stop-color="#1c49fa"/><stop offset="0.05" stop-color="#57b0ff"/><stop offset="0.06" stop-color="#6bc9f3"/><stop offset="0.08" stop-color="#73d2ee"/><stop offset="0.1" stop-color="#73d3ee"/><stop offset="0.12" stop-color="#71d1ef"/><stop offset="0.14" stop-color="#60bbfb"/><stop offset="0.17" stop-color="#4c9dff"/><stop offset="0.22" stop-color="#3579ff"/><stop offset="0.28" stop-color="#2052fc"/><stop offset="0.39" stop-color="#0f2bf4"/><stop offset="0.57" stop-color="#0513ee"/><stop offset="1" stop-color="#030ee1"/></linearGradient><linearGradient id="g241"><stop offset="0" stop-color="#000092"/><stop offset="0.03" stop-color="#000092"/><stop offset="0.03" stop-color="#0002ad"/><stop offset="0.04" stop-color="#2051fb"/><stop offset="0.05" stop-color="#5eb9fc"/><stop offset="0.06" stop-color="#72d1ef"/><stop offset="0.08" stop-color="#7adbea"/><stop offset="0.1" stop-color="#79daea"/><stop offset="0.12" stop-color="#77d8ec"/><stop offset="0.14" stop-color="#65c1f8"/><stop offset="0.17" stop-color="#51a5ff"/><stop offset="0.22" stop-color="#3a80ff"/><stop offset="0.28" stop-color="#2359fd"/><stop offset="0.39" stop-color="#1232f6"/><stop offset="0.57" stop-color="#0718f1"/><stop offset="1" stop-color="#0410e6"/></linearGradient><linearGradient id="g242"><stop offset="0" stop-color="#000092"/><stop offset="0.03" stop-color="#000092"/><stop offset="0.03" stop-color="#000099"/><stop offset="0.04" stop-color="#0005c6"/><stop offset="0.05" stop-color="#0411e7"/><stop offset="0.06" stop-color="#0616f0"/><stop offset="0.08" stop-color="#081bf1"/><stop offset="0.1" stop-color="#081bf1"/><stop offset="0.12" stop-color="#0719f1"/><stop offset="0.14" stop-color="#0513ee"/><stop offset="0.17" stop-color="#0411e7"/><stop offset="0.22" stop-color="#030ee0"/><stop offset="0.28" stop-color="#020bd7"/><stop offset="0.39" stop-color="#0107ce"/><stop offset="0.57" stop-color="#0005c5"/><stop offset="1" stop-color="#0004bb"/></linearGradient><linearGradient id="g243"><stop offset="0" stop-color="#000094"/><stop offset="0.03" stop-color="#00019c"/><stop offset="0.03" stop-color="#0001a3"/><stop offset="0.04" stop-color="#0006ca"/><stop offset="0.05" stop-color="#0513ed"/><stop offset="0.06" stop-color="#0b22f3"/><stop offset="0.08" stop-color="#1a44f9"/><stop offset="0.1" stop-color="#3578ff"/><stop offset="0.12" stop-color="#63bff9"/><stop offset="0.14" stop-color="#90e9e3"/><stop offset="0.17" stop-color="#b1e1eb"/><stop offset="0.22" stop-color="#c4ddef"/><stop offset="0.28" stop-color="#ccddec"/><stop offset="0.39" stop-color="#d3dde5"/><stop offset="0.57" stop-color="#dadede"/><stop offset="1" stop-color="#dedfda"/></linearGradient><linearGradient id="g244"><stop offset="0" stop-color="#000098"/><stop offset="0.03" stop-color="#0003b4"/><stop offset="0.03" stop-color="#0004bc"/><stop offset="0.04" stop-color="#030edf"/><stop offset="0.05" stop-color="#1333f6"/><stop offset="0.06" stop-color="#265efe"/><stop offset="0.08" stop-color="#51a6ff"/><stop offset="0.1" stop-color="#82e5e4"/><stop offset="0.12" stop-color="#c9dcef"/><stop offset="0.14" stop-color="#e3dfd5"/><stop offset="0.17" stop-color="#ecd8c0"/><stop offset="0.22" stop-color="#edcdae"/><stop offset="0.28" stop-color="#eec29e"/><stop offset="0.39" stop-color="#f0b68b"/><stop offset="0.57" stop-color="#eca47e"/><stop offset="1" stop-color="#e89475"/></linearGradient><linearGradient id="g245"><stop offset="0" stop-color="#000092"/><stop offset="0.03" stop-color="#000092"/><stop offset="0.03" stop-color="#00009a"/><stop offset="0.04" stop-color="#0006ca"/><stop offset="0.05" stop-color="#0513ec"/><stop offset="0.06" stop-color="#091df2"/><stop offset="0.08" stop-color="#0b22f3"/><stop offset="0.1" stop-color="#0b21f2"/><stop offset="0.12" stop-color="#0a1ff2"/><stop offset="0.14" stop-color="#0617f1"/><stop offset="0.17" stop-color="#0412ec"/><stop offset="0.22" stop-color="#030fe4"/><stop offset="0.28" stop-color="#020cda"/><stop offset="0.39" stop-color="#0108d1"/><stop offset="0.57" stop-color="#0005c8"/><stop offset="1" stop-color="#0004be"/></linearGradient><linearGradient id="g246"><stop offset="0" stop-color="#000092"/><stop offset="0.03" stop-color="#000092"/><stop offset="0.03" stop-color="#00009a"/><stop offset="0.04" stop-color="#0107cd"/><stop offset="0.05" stop-color="#0616f0"/><stop offset="0.06" stop-color="#0c24f3"/><stop offset="0.08" stop-color="#0e29f4"/><stop offset="0.1" stop-color="#0e27f4"/><stop offset="0.12" stop-color="#0c25f3"/><stop offset="0.14" stop-color="#091cf2"/><stop offset="0.17" stop-color="#0514f0"/><stop offset="0.22" stop-color="#0411e7"/><stop offset="0.28" stop-color="#030dde"/><stop offset="0.39" stop-color="#0109d4"/><stop offset="0.57" stop-color="#0006cb"/><stop offset="1" stop-color="#0004c1"/></linearGradient><linearGradient id="g247"><stop offset="0" stop-color="#000092"/><stop offset="0.03" stop-color="#000092"/><stop offset="0.03" stop-color="#00019b"/><stop offset="0.04" stop-color="#0108d0"/><stop offset="0.05" stop-color="#091cf2"/><stop offset="0.06" stop-color="#0f2bf4"/><stop offset="0.08" stop-color="#112ff5"/><stop offset="0.1" stop-color="#102ef5"/><stop offset="0.12" stop-color="#0f2bf4"/><stop offset="0.14" stop-color="#0b22f3"/><stop offset="0.17" stop-color="#0719f1"/><stop offset="0.22" stop-color="#0412eb"/><stop offset="0.28" stop-color="#030ee1"/><stop offset="0.39" stop-color="#020ad6"/><stop offset="0.57" stop-color="#0107ce"/><stop offset="1" stop-color="#0005c4"/></linearGradient><linearGradient id="g248"><stop offset="0" stop-color="#000092"/><stop offset="0.03" stop-color="#000092"/><stop offset="0.03" stop-color="#00019f"/><stop offset="0.04" stop-color="#030fe2"/><stop offset="0.05" stop-color="#1942f9"/><stop offset="0.06" stop-color="#2257fd"/><stop offset="0.08" stop-color="#2660fe"/><stop offset="0.1" stop-color="#2761fe"/><stop offset="0.12" stop-color="#265ffe"/><stop offset="0.14" stop-color="#1e4dfb"/><stop offset="0.17" stop-color="#1539f7"/><stop offset="0.22" stop-color="#0c24f3"/><stop offset="0.28" stop-color="#0412ea"/><stop offset="0.39" stop-color="#020bd7"/><stop offset="0.57" stop-color="#0006ca"/><stop offset="1" stop-color="#0004be"/></linearGradient><linearGradient id="g249"><stop offset="0" stop-color="#000094"/><stop offset="0.03" stop-color="#00019c"/><stop offset="0.03" stop-color="#0001a5"/><stop offset="0.04" stop-color="#0410e6"/><stop offset="0.05" stop-color="#1c49fa"/><stop offset="0.06" stop-color="#2763ff"/><stop offset="0.08" stop-color="#3274ff"/><stop offset="0.1" stop-color="#408bff"/><stop offset="0.12" stop-color="#6dccf2"/><stop offset="0.14" stop-color="#9be6e6"/><stop offset="0.17" stop-color="#badfed"/><stop offset="0.22" stop-color="#c9dcef"/><stop offset="0.28" stop-color="#ceddea"/><stop offset="0.39" stop-color="#d4dde4"/><stop offset="0.57" stop-color="#dadede"/><stop offset="1" stop-color="#dfdfd9"/></linearGradient><linearGradient id="g250"><stop offset="0" stop-color="#000098"/><stop offset="0.03" stop-color="#0003b4"/><stop offset="0.03" stop-color="#0004be"/><stop offset="0.04" stop-color="#0513ee"/><stop offset="0.05" stop-color="#2256fc"/><stop offset="0.06" stop-color="#3274ff"/><stop offset="0.08" stop-color="#5cb7fd"/><stop offset="0.1" stop-color="#8ee9e3"/><stop offset="0.12" stop-color="#d0dde8"/><stop offset="0.14" stop-color="#e9e0cf"/><stop offset="0.17" stop-color="#ecd3b8"/><stop offset="0.22" stop-color="#eec9a8"/><stop offset="0.28" stop-color="#efc09a"/><stop offset="0.39" stop-color="#f0b589"/><stop offset="0.57" stop-color="#eca37d"/><stop offset="1" stop-color="#e89475"/></linearGradient><linearGradient id="g251"><stop offset="0" stop-color="#000092"/><stop offset="0.03" stop-color="#000092"/><stop offset="0.03" stop-color="#0001a0"/><stop offset="0.04" stop-color="#0410e5"/><stop offset="0.05" stop-color="#1c48fa"/><stop offset="0.06" stop-color="#255efe"/><stop offset="0.08" stop-color="#2a67ff"/><stop offset="0.1" stop-color="#2a67ff"/><stop offset="0.12" stop-color="#2965ff"/><stop offset="0.14" stop-color="#2052fc"/><stop offset="0.17" stop-color="#173ef8"/><stop offset="0.22" stop-color="#0e28f4"/><stop offset="0.28" stop-color="#0513ee"/><stop offset="0.39" stop-color="#020cda"/><stop offset="0.57" stop-color="#0107cc"/><stop offset="1" stop-color="#0004c1"/></linearGradient><linearGradient id="g252"><stop offset="0" stop-color="#000092"/><stop offset="0.03" stop-color="#000092"/><stop offset="0.03" stop-color="#0001a0"/><stop offset="0.04" stop-color="#0411e9"/><stop offset="0.05" stop-color="#1e4efb"/><stop offset="0.06" stop-color="#2965ff"/><stop offset="0.08" stop-color="#2d6dff"/><stop offset="0.1" stop-color="#2d6cff"/><stop offset="0.12" stop-color="#2c6aff"/><stop offset="0.14" stop-color="#2257fd"/><stop offset="0.17" stop-color="#1a43f9"/><stop offset="0.22" stop-color="#102cf5"/><stop offset="0.28" stop-color="#0515f0"/><stop offset="0.39" stop-color="#030ddd"/><stop offset="0.57" stop-color="#0108cf"/><stop offset="1" stop-color="#0005c4"/></linearGradient><linearGradient id="g253"><stop offset="0" stop-color="#000092"/><stop offset="0.03" stop-color="#000092"/><stop offset="0.03" stop-color="#0001a1"/><stop offset="0.04" stop-color="#0412ec"/><stop offset="0.05" stop-color="#2154fc"/><stop offset="0.06" stop-color="#2c6bff"/><stop offset="0.08" stop-color="#3173ff"/><stop offset="0.1" stop-color="#3172ff"/><stop offset="0.12" stop-color="#2f6fff"/><stop offset="0.14" stop-color="#255dfe"/><stop offset="0.17" stop-color="#1c48fa"/><stop offset="0.22" stop-color="#1231f5"/><stop offset="0.28" stop-color="#0719f1"/><stop offset="0.39" stop-color="#030ee0"/><stop offset="0.57" stop-color="#0109d2"/><stop offset="1" stop-color="#0005c7"/></linearGradient><linearGradient id="g254"><stop offset="0" stop-color="#000092"/><stop offset="0.03" stop-color="#000092"/><stop offset="0.03" stop-color="#0002a9"/><stop offset="0.04" stop-color="#1538f7"/><stop offset="0.05" stop-color="#4796ff"/><stop offset="0.06" stop-color="#5bb5fe"/><stop offset="0.08" stop-color="#63bef9"/><stop offset="0.1" stop-color="#63c0f9"/><stop offset="0.12" stop-color="#63bff9"/><stop offset="0.14" stop-color="#4fa3ff"/><stop offset="0.17" stop-color="#3a81ff"/><stop offset="0.22" stop-color="#245afd"/><stop offset="0.28" stop-color="#112ff5"/><stop offset="0.39" stop-color="#0410e5"/><stop offset="0.57" stop-color="#0107ce"/><stop offset="1" stop-color="#0004bf"/></linearGradient><linearGradient id="g255"><stop offset="0" stop-color="#000094"/><stop offset="0.03" stop-color="#00019c"/><stop offset="0.03" stop-color="#0002ac"/><stop offset="0.04" stop-color="#173cf8"/><stop offset="0.05" stop-color="#4b9cff"/><stop offset="0.06" stop-color="#60bcfb"/><stop offset="0.08" stop-color="#6dccf2"/><stop offset="0.1" stop-color="#77d7ec"/><stop offset="0.12" stop-color="#83e6e4"/><stop offset="0.14" stop-color="#ade2ea"/><stop offset="0.17" stop-color="#c8dcf0"/><stop offset="0.22" stop-color="#ceddea"/><stop offset="0.28" stop-color="#d2dde6"/><stop offset="0.39" stop-color="#d6dee2"/><stop offset="0.57" stop-color="#dbdedd"/><stop offset="1" stop-color="#dfdfd9"/></linearGradient><linearGradient id="g256"><stop offset="0" stop-color="#000098"/><stop offset="0.03" stop-color="#0003b4"/><stop offset="0.03" stop-color="#0004c1"/><stop offset="0.04" stop-color="#1a45f9"/><stop offset="0.05" stop-color="#52a8ff"/><stop offset="0.06" stop-color="#6ac8f4"/><stop offset="0.08" stop-color="#7ddfe7"/><stop offset="0.1" stop-color="#a4e4e8"/><stop offset="0.12" stop-color="#dadede"/><stop offset="0.14" stop-color="#ecd8c1"/><stop offset="0.17" stop-color="#edcbac"/><stop offset="0.22" stop-color="#eec39f"/><stop offset="0.28" stop-color="#efbc94"/><stop offset="0.39" stop-color="#f0b387"/><stop offset="0.57" stop-color="#eca27d"/><stop offset="1" stop-color="#e89475"/></linearGradient><linearGradient id="g257"><stop offset="0" stop-color="#000092"/><stop offset="0.03" stop-color="#000092"/><stop offset="0.03" stop-color="#0002a9"/><stop offset="0.04" stop-color="#163bf7"/><stop offset="0.05" stop-color="#4a9bff"/><stop offset="0.06" stop-color="#5eb9fc"/><stop offset="0.08" stop-color="#66c3f7"/><stop offset="0.1" stop-color="#67c3f7"/><stop offset="0.12" stop-color="#66c2f7"/><stop offset="0.14" stop-color="#52a8ff"/><stop offset="0.17" stop-color="#3d85ff"/><stop offset="0.22" stop-color="#265ffe"/><stop offset="0.28" stop-color="#1233f6"/><stop offset="0.39" stop-color="#0411e8"/><stop offset="0.57" stop-color="#0108d1"/><stop offset="1" stop-color="#0004c2"/></linearGradient><linearGradient id="g258"><stop offset="0" stop-color="#000092"/><stop offset="0.03" stop-color="#000092"/><stop offset="0.03" stop-color="#0002aa"/><stop offset="0.04" stop-color="#183ff8"/><stop offset="0.05" stop-color="#4ea1ff"/><stop offset="0.06" stop-color="#62bdfa"/><stop offset="0.08" stop-color="#69c7f5"/><stop offset="0.1" stop-color="#6ac7f5"/><stop offset="0.12" stop-color="#69c6f5"/><stop offset="0.14" stop-color="#55acff"/><stop offset="0.17" stop-color="#3f89ff"/><stop offset="0.22" stop-color="#2863ff"/><stop offset="0.28" stop-color="#1436f6"/><stop offset="0.39" stop-color="#0412ea"/><stop offset="0.57" stop-color="#0109d3"/><stop offset="1" stop-color="#0005c5"/></linearGradient><linearGradient id="g259"><stop offset="0" stop-color="#000092"/><stop offset="0.03" stop-color="#000092"/><stop offset="0.03" stop-color="#0002ab"/><stop offset="0.04" stop-color="#1943f9"/><stop offset="0.05" stop-color="#51a6ff"/><stop offset="0.06" stop-color="#65c2f8"/><stop offset="0.08" stop-color="#6dcbf3"/><stop offset="0.1" stop-color="#6dcbf2"/><stop offset="0.12" stop-color="#6cc9f3"/><stop offset="0.14" stop-color="#58b1ff"/><stop offset="0.17" stop-color="#428eff"/><stop offset="0.22" stop-color="#2a67ff"/><stop offset="0.28" stop-color="#163af7"/><stop offset="0.39" stop-color="#0513ed"/><stop offset="0.57" stop-color="#020ad6"/><stop offset="1" stop-color="#0005c8"/></linearGradient><linearGradient id="bwrbar"><stop offset="0" stop-color="#0000b4"/><stop offset="0.05" stop-color="#1717ce"/><stop offset="0.1" stop-color="#2d2de8"/><stop offset="0.15" stop-color="#4747eb"/><stop offset="0.2" stop-color="#6262ee"/><stop offset="0.25" stop-color="#7c7cf1"/><stop offset="0.3" stop-color="#9696f4"/><stop offset="0.35" stop-color="#b0b0f6"/><stop offset="0.4" stop-color="#cacaf9"/><stop offset="0.45" stop-color="#e5e5fc"/><stop offset="0.5" stop-color="#ffffff"/><stop offset="0.55" stop-color="#fce5e5"/><stop offset="0.6" stop-color="#f9caca"/><stop offset="0.65" stop-color="#f6b0b0"/><stop offset="0.7" stop-color="#f49696"/><stop offset="0.75" stop-color="#f17c7c"/><stop offset="0.8" stop-color="#ee6161"/><stop offset="0.85" stop-color="#eb4747"/><stop offset="0.9" stop-color="#e82d2d"/><stop offset="0.95" stop-color="#ce1717"/><stop offset="1" stop-color="#b40000"/></linearGradient></defs><rect width="520" height="662" fill="#fff"/><text x="1.6" y="18.4" font-size="15" font-weight="bold" fill="#111" stroke="#111" stroke-width="0.2" textLength="11.4" lengthAdjust="spacingAndGlyphs">A</text><text x="31.7" y="13.1" font-size="8.6" fill="#222" stroke="#222" stroke-width="0.2" textLength="20" lengthAdjust="spacingAndGlyphs">Input</text><rect x="56.2" y="7.2" width="5.4" height="5.4" fill="#14148a" stroke="#777" stroke-width="0.4"/><rect x="65.5" y="7.2" width="5.7" height="5.4" fill="#98dcf0" stroke="#777" stroke-width="0.4"/><rect x="75" y="7.2" width="5.6" height="5.4" fill="#f8f030" stroke="#777" stroke-width="0.4"/><rect x="84.7" y="7.2" width="5.7" height="5.4" fill="#dc0808" stroke="#777" stroke-width="0.4"/><text x="57.2" y="21.8" font-size="6" fill="#444" stroke="#444" stroke-width="0.2" textLength="2.4" lengthAdjust="spacingAndGlyphs">0</text><text x="64.1" y="21.8" font-size="6" fill="#444" stroke="#444" stroke-width="0.2" textLength="8.1" lengthAdjust="spacingAndGlyphs">0.1</text><text x="76.8" y="21.8" font-size="6" fill="#444" stroke="#444" stroke-width="0.2" textLength="2.1" lengthAdjust="spacingAndGlyphs">1</text><text x="84.1" y="21.8" font-size="6" fill="#444" stroke="#444" stroke-width="0.2" textLength="6" lengthAdjust="spacingAndGlyphs">10</text><text x="96.4" y="21.8" font-size="6" fill="#444" stroke="#444" stroke-width="0.2" textLength="6.9" lengthAdjust="spacingAndGlyphs">EC</text><text x="91.8" y="21.2" font-size="4.5" fill="#666" stroke="#666" stroke-width="0.2" textLength="2" lengthAdjust="spacingAndGlyphs">×</text><text x="103.7" y="23" font-size="3.6" fill="#666" stroke="#666" stroke-width="0.2" textLength="3.4" lengthAdjust="spacingAndGlyphs">50</text><text x="139.2" y="25.1" font-size="10.3" fill="#222" stroke="#222" stroke-width="0.2" textLength="52.4" lengthAdjust="spacingAndGlyphs">Experiment</text><text x="219.9" y="18.5" font-size="9.8" fill="#222" stroke="#222" stroke-width="0.2" textLength="68.6" lengthAdjust="spacingAndGlyphs">Platelet Response</text><rect x="310.2" y="10.7" width="29.8" height="7.1" fill="url(#jetbar)" stroke="#333" stroke-width="0.4"/><text x="296.5" y="16.2" font-size="6.6" fill="#222" stroke="#222" stroke-width="0.2" textLength="10.3" lengthAdjust="spacingAndGlyphs">min</text><text x="343" y="16.2" font-size="6.6" fill="#222" stroke="#222" stroke-width="0.2" textLength="11" lengthAdjust="spacingAndGlyphs">max</text><text x="301.4" y="26.4" font-size="6.6" fill="#222" stroke="#222" stroke-width="0.2">Intracellular [Ca<tspan font-size="4" dy="-2.5">2+</tspan><tspan dy="2.5">]</tspan></text><text x="390.8" y="29" font-size="10.7" fill="#222" stroke="#222" stroke-width="0.2" textLength="49.3" lengthAdjust="spacingAndGlyphs">Simulation</text><rect x="1.2" y="34.3" width="15.98" height="19.83" fill="#00008c"/><rect x="1.2" y="53.13" width="15.98" height="9.24" fill="#86d8f0"/><rect x="1.2" y="61.37" width="15.98" height="9.24" fill="#f8cc28"/><rect x="1.2" y="69.61" width="15.98" height="9.24" fill="#860000"/><rect x="1.2" y="77.85" width="15.98" height="19.83" fill="#00008c"/><rect x="1.2" y="96.68" width="15.98" height="9.24" fill="#86d8f0"/><rect x="1.2" y="104.92" width="15.98" height="9.24" fill="#f8cc28"/><rect x="1.2" y="113.16" width="15.98" height="8.24" fill="#860000"/><rect x="16.18" y="34.3" width="15.97" height="5.71" fill="#00008c"/><rect x="16.18" y="39.01" width="15.97" height="5.71" fill="#86d8f0"/><rect x="16.18" y="43.72" width="15.97" height="5.71" fill="#f8cc28"/><rect x="16.18" y="48.42" width="15.97" height="5.71" fill="#860000"/><rect x="16.18" y="53.13" width="15.97" height="5.71" fill="#00008c"/><rect x="16.18" y="57.84" width="15.97" height="2.18" fill="#d2f0e6"/><rect x="16.18" y="59.02" width="15.97" height="2.18" fill="#f0b848"/><rect x="16.18" y="60.19" width="15.97" height="2.18" fill="#5a1208"/><rect x="16.18" y="61.37" width="15.97" height="5.71" fill="#00008c"/><rect x="16.18" y="66.08" width="15.97" height="2.18" fill="#d2f0e6"/><rect x="16.18" y="67.26" width="15.97" height="2.18" fill="#f0b848"/><rect x="16.18" y="68.43" width="15.97" height="2.18" fill="#5a1208"/><rect x="16.18" y="69.61" width="15.97" height="5.71" fill="#00008c"/><rect x="16.18" y="74.32" width="15.97" height="2.18" fill="#d2f0e6"/><rect x="16.18" y="75.5" width="15.97" height="2.18" fill="#f0b848"/><rect x="16.18" y="76.67" width="15.97" height="2.18" fill="#5a1208"/><rect x="16.18" y="77.85" width="15.97" height="5.71" fill="#00008c"/><rect x="16.18" y="82.56" width="15.97" height="5.71" fill="#86d8f0"/><rect x="16.18" y="87.27" width="15.97" height="5.71" fill="#f8cc28"/><rect x="16.18" y="91.97" width="15.97" height="5.71" fill="#860000"/><rect x="16.18" y="96.68" width="15.97" height="5.71" fill="#00008c"/><rect x="16.18" y="101.39" width="15.97" height="2.18" fill="#d2f0e6"/><rect x="16.18" y="102.57" width="15.97" height="2.18" fill="#f0b848"/><rect x="16.18" y="103.74" width="15.97" height="2.18" fill="#5a1208"/><rect x="16.18" y="104.92" width="15.97" height="5.71" fill="#00008c"/><rect x="16.18" y="109.63" width="15.97" height="2.18" fill="#d2f0e6"/><rect x="16.18" y="110.81" width="15.97" height="2.18" fill="#f0b848"/><rect x="16.18" y="111.98" width="15.97" height="2.18" fill="#5a1208"/><rect x="16.18" y="113.16" width="15.97" height="5.71" fill="#00008c"/><rect x="16.18" y="117.87" width="15.97" height="2.18" fill="#d2f0e6"/><rect x="16.18" y="119.05" width="15.97" height="2.18" fill="#f0b848"/><rect x="16.18" y="120.22" width="15.97" height="1.18" fill="#5a1208"/><rect x="31.15" y="34.3" width="15.98" height="2.18" fill="#00008c"/><rect x="31.15" y="35.48" width="15.98" height="2.18" fill="#d2f0e6"/><rect x="31.15" y="36.65" width="15.98" height="2.18" fill="#f0b848"/><rect x="31.15" y="37.83" width="15.98" height="2.18" fill="#5a1208"/><rect x="31.15" y="39.01" width="15.98" height="2.18" fill="#00008c"/><rect x="31.15" y="40.19" width="15.98" height="2.18" fill="#d2f0e6"/><rect x="31.15" y="41.36" width="15.98" height="2.18" fill="#f0b848"/><rect x="31.15" y="42.54" width="15.98" height="2.18" fill="#5a1208"/><rect x="31.15" y="43.72" width="15.98" height="2.18" fill="#00008c"/><rect x="31.15" y="44.89" width="15.98" height="2.18" fill="#d2f0e6"/><rect x="31.15" y="46.07" width="15.98" height="2.18" fill="#f0b848"/><rect x="31.15" y="47.25" width="15.98" height="2.18" fill="#5a1208"/><rect x="31.15" y="48.42" width="15.98" height="2.18" fill="#00008c"/><rect x="31.15" y="49.6" width="15.98" height="2.18" fill="#d2f0e6"/><rect x="31.15" y="50.78" width="15.98" height="2.18" fill="#f0b848"/><rect x="31.15" y="51.96" width="15.98" height="2.18" fill="#5a1208"/><rect x="31.15" y="53.13" width="15.98" height="2.18" fill="#00008c"/><rect x="31.15" y="54.31" width="15.98" height="2.18" fill="#d2f0e6"/><rect x="31.15" y="55.49" width="15.98" height="2.18" fill="#f0b848"/><rect x="31.15" y="56.66" width="15.98" height="2.18" fill="#5a1208"/><rect x="31.15" y="57.84" width="15.98" height="5.71" fill="#00008c"/><rect x="31.15" y="62.55" width="15.98" height="2.18" fill="#d2f0e6"/><rect x="31.15" y="63.73" width="15.98" height="2.18" fill="#f0b848"/><rect x="31.15" y="64.9" width="15.98" height="2.18" fill="#5a1208"/><rect x="31.15" y="66.08" width="15.98" height="5.71" fill="#00008c"/><rect x="31.15" y="70.79" width="15.98" height="2.18" fill="#d2f0e6"/><rect x="31.15" y="71.96" width="15.98" height="2.18" fill="#f0b848"/><rect x="31.15" y="73.14" width="15.98" height="2.18" fill="#5a1208"/><rect x="31.15" y="74.32" width="15.98" height="5.71" fill="#00008c"/><rect x="31.15" y="79.03" width="15.98" height="2.18" fill="#d2f0e6"/><rect x="31.15" y="80.2" width="15.98" height="2.18" fill="#f0b848"/><rect x="31.15" y="81.38" width="15.98" height="2.18" fill="#5a1208"/><rect x="31.15" y="82.56" width="15.98" height="2.18" fill="#00008c"/><rect x="31.15" y="83.74" width="15.98" height="2.18" fill="#d2f0e6"/><rect x="31.15" y="84.91" width="15.98" height="2.18" fill="#f0b848"/><rect x="31.15" y="86.09" width="15.98" height="2.18" fill="#5a1208"/><rect x="31.15" y="87.27" width="15.98" height="2.18" fill="#00008c"/><rect x="31.15" y="88.44" width="15.98" height="2.18" fill="#d2f0e6"/><rect x="31.15" y="89.62" width="15.98" height="2.18" fill="#f0b848"/><rect x="31.15" y="90.8" width="15.98" height="2.18" fill="#5a1208"/><rect x="31.15" y="91.97" width="15.98" height="2.18" fill="#00008c"/><rect x="31.15" y="93.15" width="15.98" height="2.18" fill="#d2f0e6"/><rect x="31.15" y="94.33" width="15.98" height="2.18" fill="#f0b848"/><rect x="31.15" y="95.51" width="15.98" height="2.18" fill="#5a1208"/><rect x="31.15" y="96.68" width="15.98" height="2.18" fill="#00008c"/><rect x="31.15" y="97.86" width="15.98" height="2.18" fill="#d2f0e6"/><rect x="31.15" y="99.04" width="15.98" height="2.18" fill="#f0b848"/><rect x="31.15" y="100.21" width="15.98" height="2.18" fill="#5a1208"/><rect x="31.15" y="101.39" width="15.98" height="5.71" fill="#00008c"/><rect x="31.15" y="106.1" width="15.98" height="2.18" fill="#d2f0e6"/><rect x="31.15" y="107.28" width="15.98" height="2.18" fill="#f0b848"/><rect x="31.15" y="108.45" width="15.98" height="2.18" fill="#5a1208"/><rect x="31.15" y="109.63" width="15.98" height="5.71" fill="#00008c"/><rect x="31.15" y="114.34" width="15.98" height="2.18" fill="#d2f0e6"/><rect x="31.15" y="115.51" width="15.98" height="2.18" fill="#f0b848"/><rect x="31.15" y="116.69" width="15.98" height="2.18" fill="#5a1208"/><rect x="31.15" y="117.87" width="15.98" height="3.53" fill="#00008c"/><rect x="46.12" y="34.3" width="14.98" height="44.55" fill="#00008c"/><rect x="46.12" y="77.85" width="14.98" height="43.55" fill="#860000"/><rect x="1.2" y="34.3" width="59.9" height="87.1" fill="none" stroke="#202040" stroke-width="0.5"/><rect x="64.1" y="34.3" width="218.3" height="2.18" fill="url(#g0)"/><rect x="64.1" y="35.48" width="218.3" height="2.18" fill="url(#g0)"/><rect x="64.1" y="36.65" width="218.3" height="2.18" fill="url(#g1)"/><rect x="64.1" y="37.83" width="218.3" height="2.18" fill="url(#g2)"/><rect x="64.1" y="39.01" width="218.3" height="2.18" fill="url(#g3)"/><rect x="64.1" y="40.19" width="218.3" height="2.18" fill="url(#g3)"/><rect x="64.1" y="41.36" width="218.3" height="2.18" fill="url(#g4)"/><rect x="64.1" y="42.54" width="218.3" height="2.18" fill="url(#g5)"/><rect x="64.1" y="43.72" width="218.3" height="2.18" fill="url(#g6)"/><rect x="64.1" y="44.89" width="218.3" height="2.18" fill="url(#g6)"/><rect x="64.1" y="46.07" width="218.3" height="2.18" fill="url(#g7)"/><rect x="64.1" y="47.25" width="218.3" height="2.18" fill="url(#g8)"/><rect x="64.1" y="48.42" width="218.3" height="2.18" fill="url(#g9)"/><rect x="64.1" y="49.6" width="218.3" height="2.18" fill="url(#g9)"/><rect x="64.1" y="50.78" width="218.3" height="2.18" fill="url(#g10)"/><rect x="64.1" y="51.96" width="218.3" height="2.18" fill="url(#g11)"/><rect x="64.1" y="53.13" width="218.3" height="2.18" fill="url(#g12)"/><rect x="64.1" y="54.31" width="218.3" height="2.18" fill="url(#g12)"/><rect x="64.1" y="55.49" width="218.3" height="2.18" fill="url(#g13)"/><rect x="64.1" y="56.66" width="218.3" height="2.18" fill="url(#g14)"/><rect x="64.1" y="57.84" width="218.3" height="2.18" fill="url(#g15)"/><rect x="64.1" y="59.02" width="218.3" height="2.18" fill="url(#g16)"/><rect x="64.1" y="60.19" width="218.3" height="2.18" fill="url(#g17)"/><rect x="64.1" y="61.37" width="218.3" height="2.18" fill="url(#g18)"/><rect x="64.1" y="62.55" width="218.3" height="2.18" fill="url(#g18)"/><rect x="64.1" y="63.73" width="218.3" height="2.18" fill="url(#g19)"/><rect x="64.1" y="64.9" width="218.3" height="2.18" fill="url(#g20)"/><rect x="64.1" y="66.08" width="218.3" height="2.18" fill="url(#g21)"/><rect x="64.1" y="67.26" width="218.3" height="2.18" fill="url(#g22)"/><rect x="64.1" y="68.43" width="218.3" height="2.18" fill="url(#g23)"/><rect x="64.1" y="69.61" width="218.3" height="2.18" fill="url(#g24)"/><rect x="64.1" y="70.79" width="218.3" height="2.18" fill="url(#g24)"/><rect x="64.1" y="71.96" width="218.3" height="2.18" fill="url(#g25)"/><rect x="64.1" y="73.14" width="218.3" height="2.18" fill="url(#g26)"/><rect x="64.1" y="74.32" width="218.3" height="2.18" fill="url(#g27)"/><rect x="64.1" y="75.5" width="218.3" height="2.18" fill="url(#g28)"/><rect x="64.1" y="76.67" width="218.3" height="2.18" fill="url(#g29)"/><rect x="64.1" y="77.85" width="218.3" height="2.18" fill="url(#g0)"/><rect x="64.1" y="79.03" width="218.3" height="2.18" fill="url(#g0)"/><rect x="64.1" y="80.2" width="218.3" height="2.18" fill="url(#g30)"/><rect x="64.1" y="81.38" width="218.3" height="2.18" fill="url(#g31)"/><rect x="64.1" y="82.56" width="218.3" height="2.18" fill="url(#g32)"/><rect x="64.1" y="83.74" width="218.3" height="2.18" fill="url(#g32)"/><rect x="64.1" y="84.91" width="218.3" height="2.18" fill="url(#g33)"/><rect x="64.1" y="86.09" width="218.3" height="2.18" fill="url(#g34)"/><rect x="64.1" y="87.27" width="218.3" height="2.18" fill="url(#g3)"/><rect x="64.1" y="88.44" width="218.3" height="2.18" fill="url(#g3)"/><rect x="64.1" y="89.62" width="218.3" height="2.18" fill="url(#g35)"/><rect x="64.1" y="90.8" width="218.3" height="2.18" fill="url(#g36)"/><rect x="64.1" y="91.97" width="218.3" height="2.18" fill="url(#g37)"/><rect x="64.1" y="93.15" width="218.3" height="2.18" fill="url(#g37)"/><rect x="64.1" y="94.33" width="218.3" height="2.18" fill="url(#g38)"/><rect x="64.1" y="95.51" width="218.3" height="2.18" fill="url(#g39)"/><rect x="64.1" y="96.68" width="218.3" height="2.18" fill="url(#g40)"/><rect x="64.1" y="97.86" width="218.3" height="2.18" fill="url(#g40)"/><rect x="64.1" y="99.04" width="218.3" height="2.18" fill="url(#g41)"/><rect x="64.1" y="100.21" width="218.3" height="2.18" fill="url(#g42)"/><rect x="64.1" y="101.39" width="218.3" height="2.18" fill="url(#g43)"/><rect x="64.1" y="102.57" width="218.3" height="2.18" fill="url(#g44)"/><rect x="64.1" y="103.74" width="218.3" height="2.18" fill="url(#g45)"/><rect x="64.1" y="104.92" width="218.3" height="2.18" fill="url(#g46)"/><rect x="64.1" y="106.1" width="218.3" height="2.18" fill="url(#g46)"/><rect x="64.1" y="107.28" width="218.3" height="2.18" fill="url(#g47)"/><rect x="64.1" y="108.45" width="218.3" height="2.18" fill="url(#g48)"/><rect x="64.1" y="109.63" width="218.3" height="2.18" fill="url(#g49)"/><rect x="64.1" y="110.81" width="218.3" height="2.18" fill="url(#g50)"/><rect x="64.1" y="111.98" width="218.3" height="2.18" fill="url(#g51)"/><rect x="64.1" y="113.16" width="218.3" height="2.18" fill="url(#g52)"/><rect x="64.1" y="114.34" width="218.3" height="2.18" fill="url(#g52)"/><rect x="64.1" y="115.51" width="218.3" height="2.18" fill="url(#g53)"/><rect x="64.1" y="116.69" width="218.3" height="2.18" fill="url(#g54)"/><rect x="64.1" y="117.87" width="218.3" height="2.18" fill="url(#g55)"/><rect x="64.1" y="119.05" width="218.3" height="2.18" fill="url(#g56)"/><rect x="64.1" y="120.22" width="218.3" height="1.18" fill="url(#g57)"/><line x1="111.56" y1="34.3" x2="111.56" y2="36.3" stroke="#222" stroke-width="0.7"/><line x1="111.56" y1="121.4" x2="111.56" y2="119.4" stroke="#222" stroke-width="0.7"/><line x1="159.01" y1="34.3" x2="159.01" y2="36.3" stroke="#222" stroke-width="0.7"/><line x1="159.01" y1="121.4" x2="159.01" y2="119.4" stroke="#222" stroke-width="0.7"/><line x1="206.47" y1="34.3" x2="206.47" y2="36.3" stroke="#222" stroke-width="0.7"/><line x1="206.47" y1="121.4" x2="206.47" y2="119.4" stroke="#222" stroke-width="0.7"/><line x1="253.93" y1="34.3" x2="253.93" y2="36.3" stroke="#222" stroke-width="0.7"/><line x1="253.93" y1="121.4" x2="253.93" y2="119.4" stroke="#222" stroke-width="0.7"/><rect x="286.3" y="34.3" width="218.2" height="2.18" fill="url(#g58)"/><rect x="286.3" y="35.48" width="218.2" height="2.18" fill="url(#g58)"/><rect x="286.3" y="36.65" width="218.2" height="2.18" fill="url(#g59)"/><rect x="286.3" y="37.83" width="218.2" height="2.18" fill="url(#g60)"/><rect x="286.3" y="39.01" width="218.2" height="2.18" fill="url(#g61)"/><rect x="286.3" y="40.19" width="218.2" height="2.18" fill="url(#g61)"/><rect x="286.3" y="41.36" width="218.2" height="2.18" fill="url(#g62)"/><rect x="286.3" y="42.54" width="218.2" height="2.18" fill="url(#g63)"/><rect x="286.3" y="43.72" width="218.2" height="2.18" fill="url(#g64)"/><rect x="286.3" y="44.89" width="218.2" height="2.18" fill="url(#g64)"/><rect x="286.3" y="46.07" width="218.2" height="2.18" fill="url(#g65)"/><rect x="286.3" y="47.25" width="218.2" height="2.18" fill="url(#g66)"/><rect x="286.3" y="48.42" width="218.2" height="2.18" fill="url(#g67)"/><rect x="286.3" y="49.6" width="218.2" height="2.18" fill="url(#g67)"/><rect x="286.3" y="50.78" width="218.2" height="2.18" fill="url(#g68)"/><rect x="286.3" y="51.96" width="218.2" height="2.18" fill="url(#g69)"/><rect x="286.3" y="53.13" width="218.2" height="2.18" fill="url(#g70)"/><rect x="286.3" y="54.31" width="218.2" height="2.18" fill="url(#g70)"/><rect x="286.3" y="55.49" width="218.2" height="2.18" fill="url(#g71)"/><rect x="286.3" y="56.66" width="218.2" height="2.18" fill="url(#g72)"/><rect x="286.3" y="57.84" width="218.2" height="2.18" fill="url(#g73)"/><rect x="286.3" y="59.02" width="218.2" height="2.18" fill="url(#g74)"/><rect x="286.3" y="60.19" width="218.2" height="2.18" fill="url(#g75)"/><rect x="286.3" y="61.37" width="218.2" height="2.18" fill="url(#g76)"/><rect x="286.3" y="62.55" width="218.2" height="2.18" fill="url(#g76)"/><rect x="286.3" y="63.73" width="218.2" height="2.18" fill="url(#g77)"/><rect x="286.3" y="64.9" width="218.2" height="2.18" fill="url(#g78)"/><rect x="286.3" y="66.08" width="218.2" height="2.18" fill="url(#g79)"/><rect x="286.3" y="67.26" width="218.2" height="2.18" fill="url(#g80)"/><rect x="286.3" y="68.43" width="218.2" height="2.18" fill="url(#g81)"/><rect x="286.3" y="69.61" width="218.2" height="2.18" fill="url(#g82)"/><rect x="286.3" y="70.79" width="218.2" height="2.18" fill="url(#g82)"/><rect x="286.3" y="71.96" width="218.2" height="2.18" fill="url(#g83)"/><rect x="286.3" y="73.14" width="218.2" height="2.18" fill="url(#g84)"/><rect x="286.3" y="74.32" width="218.2" height="2.18" fill="url(#g85)"/><rect x="286.3" y="75.5" width="218.2" height="2.18" fill="url(#g86)"/><rect x="286.3" y="76.67" width="218.2" height="2.18" fill="url(#g87)"/><rect x="286.3" y="77.85" width="218.2" height="2.18" fill="url(#g58)"/><rect x="286.3" y="79.03" width="218.2" height="2.18" fill="url(#g58)"/><rect x="286.3" y="80.2" width="218.2" height="2.18" fill="url(#g88)"/><rect x="286.3" y="81.38" width="218.2" height="2.18" fill="url(#g89)"/><rect x="286.3" y="82.56" width="218.2" height="2.18" fill="url(#g90)"/><rect x="286.3" y="83.74" width="218.2" height="2.18" fill="url(#g90)"/><rect x="286.3" y="84.91" width="218.2" height="2.18" fill="url(#g91)"/><rect x="286.3" y="86.09" width="218.2" height="2.18" fill="url(#g92)"/><rect x="286.3" y="87.27" width="218.2" height="2.18" fill="url(#g61)"/><rect x="286.3" y="88.44" width="218.2" height="2.18" fill="url(#g61)"/><rect x="286.3" y="89.62" width="218.2" height="2.18" fill="url(#g93)"/><rect x="286.3" y="90.8" width="218.2" height="2.18" fill="url(#g94)"/><rect x="286.3" y="91.97" width="218.2" height="2.18" fill="url(#g95)"/><rect x="286.3" y="93.15" width="218.2" height="2.18" fill="url(#g95)"/><rect x="286.3" y="94.33" width="218.2" height="2.18" fill="url(#g96)"/><rect x="286.3" y="95.51" width="218.2" height="2.18" fill="url(#g97)"/><rect x="286.3" y="96.68" width="218.2" height="2.18" fill="url(#g98)"/><rect x="286.3" y="97.86" width="218.2" height="2.18" fill="url(#g98)"/><rect x="286.3" y="99.04" width="218.2" height="2.18" fill="url(#g99)"/><rect x="286.3" y="100.21" width="218.2" height="2.18" fill="url(#g100)"/><rect x="286.3" y="101.39" width="218.2" height="2.18" fill="url(#g101)"/><rect x="286.3" y="102.57" width="218.2" height="2.18" fill="url(#g102)"/><rect x="286.3" y="103.74" width="218.2" height="2.18" fill="url(#g103)"/><rect x="286.3" y="104.92" width="218.2" height="2.18" fill="url(#g104)"/><rect x="286.3" y="106.1" width="218.2" height="2.18" fill="url(#g104)"/><rect x="286.3" y="107.28" width="218.2" height="2.18" fill="url(#g105)"/><rect x="286.3" y="108.45" width="218.2" height="2.18" fill="url(#g106)"/><rect x="286.3" y="109.63" width="218.2" height="2.18" fill="url(#g107)"/><rect x="286.3" y="110.81" width="218.2" height="2.18" fill="url(#g108)"/><rect x="286.3" y="111.98" width="218.2" height="2.18" fill="url(#g109)"/><rect x="286.3" y="113.16" width="218.2" height="2.18" fill="url(#g110)"/><rect x="286.3" y="114.34" width="218.2" height="2.18" fill="url(#g110)"/><rect x="286.3" y="115.51" width="218.2" height="2.18" fill="url(#g111)"/><rect x="286.3" y="116.69" width="218.2" height="2.18" fill="url(#g112)"/><rect x="286.3" y="117.87" width="218.2" height="2.18" fill="url(#g113)"/><rect x="286.3" y="119.05" width="218.2" height="2.18" fill="url(#g114)"/><rect x="286.3" y="120.22" width="218.2" height="1.18" fill="url(#g115)"/><line x1="333.73" y1="34.3" x2="333.73" y2="36.3" stroke="#222" stroke-width="0.7"/><line x1="333.73" y1="121.4" x2="333.73" y2="119.4" stroke="#222" stroke-width="0.7"/><line x1="381.17" y1="34.3" x2="381.17" y2="36.3" stroke="#222" stroke-width="0.7"/><line x1="381.17" y1="121.4" x2="381.17" y2="119.4" stroke="#222" stroke-width="0.7"/><line x1="428.6" y1="34.3" x2="428.6" y2="36.3" stroke="#222" stroke-width="0.7"/><line x1="428.6" y1="121.4" x2="428.6" y2="119.4" stroke="#222" stroke-width="0.7"/><line x1="476.04" y1="34.3" x2="476.04" y2="36.3" stroke="#222" stroke-width="0.7"/><line x1="476.04" y1="121.4" x2="476.04" y2="119.4" stroke="#222" stroke-width="0.7"/><rect x="1.2" y="124.9" width="15.98" height="19.7" fill="#00008c"/><rect x="1.2" y="143.6" width="15.98" height="9.18" fill="#86d8f0"/><rect x="1.2" y="151.79" width="15.98" height="9.18" fill="#f8cc28"/><rect x="1.2" y="159.97" width="15.98" height="9.18" fill="#860000"/><rect x="1.2" y="168.15" width="15.98" height="19.7" fill="#00008c"/><rect x="1.2" y="186.85" width="15.98" height="9.18" fill="#86d8f0"/><rect x="1.2" y="195.04" width="15.98" height="9.18" fill="#f8cc28"/><rect x="1.2" y="203.22" width="15.98" height="8.18" fill="#860000"/><rect x="16.18" y="124.9" width="15.97" height="5.68" fill="#00008c"/><rect x="16.18" y="129.58" width="15.97" height="5.68" fill="#86d8f0"/><rect x="16.18" y="134.25" width="15.97" height="5.68" fill="#f8cc28"/><rect x="16.18" y="138.93" width="15.97" height="5.68" fill="#860000"/><rect x="16.18" y="143.6" width="15.97" height="5.68" fill="#00008c"/><rect x="16.18" y="148.28" width="15.97" height="2.17" fill="#d2f0e6"/><rect x="16.18" y="149.45" width="15.97" height="2.17" fill="#f0b848"/><rect x="16.18" y="150.62" width="15.97" height="2.17" fill="#5a1208"/><rect x="16.18" y="151.79" width="15.97" height="5.68" fill="#00008c"/><rect x="16.18" y="156.46" width="15.97" height="2.17" fill="#d2f0e6"/><rect x="16.18" y="157.63" width="15.97" height="2.17" fill="#f0b848"/><rect x="16.18" y="158.8" width="15.97" height="2.17" fill="#5a1208"/><rect x="16.18" y="159.97" width="15.97" height="5.68" fill="#00008c"/><rect x="16.18" y="164.64" width="15.97" height="2.17" fill="#d2f0e6"/><rect x="16.18" y="165.81" width="15.97" height="2.17" fill="#f0b848"/><rect x="16.18" y="166.98" width="15.97" height="2.17" fill="#5a1208"/><rect x="16.18" y="168.15" width="15.97" height="5.68" fill="#00008c"/><rect x="16.18" y="172.83" width="15.97" height="5.68" fill="#86d8f0"/><rect x="16.18" y="177.5" width="15.97" height="5.68" fill="#f8cc28"/><rect x="16.18" y="182.18" width="15.97" height="5.68" fill="#860000"/><rect x="16.18" y="186.85" width="15.97" height="5.68" fill="#00008c"/><rect x="16.18" y="191.53" width="15.97" height="2.17" fill="#d2f0e6"/><rect x="16.18" y="192.7" width="15.97" height="2.17" fill="#f0b848"/><rect x="16.18" y="193.87" width="15.97" height="2.17" fill="#5a1208"/><rect x="16.18" y="195.04" width="15.97" height="5.68" fill="#00008c"/><rect x="16.18" y="199.71" width="15.97" height="2.17" fill="#d2f0e6"/><rect x="16.18" y="200.88" width="15.97" height="2.17" fill="#f0b848"/><rect x="16.18" y="202.05" width="15.97" height="2.17" fill="#5a1208"/><rect x="16.18" y="203.22" width="15.97" height="5.68" fill="#00008c"/><rect x="16.18" y="207.89" width="15.97" height="2.17" fill="#d2f0e6"/><rect x="16.18" y="209.06" width="15.97" height="2.17" fill="#f0b848"/><rect x="16.18" y="210.23" width="15.97" height="1.17" fill="#5a1208"/><rect x="31.15" y="124.9" width="15.98" height="2.17" fill="#00008c"/><rect x="31.15" y="126.07" width="15.98" height="2.17" fill="#d2f0e6"/><rect x="31.15" y="127.24" width="15.98" height="2.17" fill="#f0b848"/><rect x="31.15" y="128.41" width="15.98" height="2.17" fill="#5a1208"/><rect x="31.15" y="129.58" width="15.98" height="2.17" fill="#00008c"/><rect x="31.15" y="130.74" width="15.98" height="2.17" fill="#d2f0e6"/><rect x="31.15" y="131.91" width="15.98" height="2.17" fill="#f0b848"/><rect x="31.15" y="133.08" width="15.98" height="2.17" fill="#5a1208"/><rect x="31.15" y="134.25" width="15.98" height="2.17" fill="#00008c"/><rect x="31.15" y="135.42" width="15.98" height="2.17" fill="#d2f0e6"/><rect x="31.15" y="136.59" width="15.98" height="2.17" fill="#f0b848"/><rect x="31.15" y="137.76" width="15.98" height="2.17" fill="#5a1208"/><rect x="31.15" y="138.93" width="15.98" height="2.17" fill="#00008c"/><rect x="31.15" y="140.1" width="15.98" height="2.17" fill="#d2f0e6"/><rect x="31.15" y="141.26" width="15.98" height="2.17" fill="#f0b848"/><rect x="31.15" y="142.43" width="15.98" height="2.17" fill="#5a1208"/><rect x="31.15" y="143.6" width="15.98" height="2.17" fill="#00008c"/><rect x="31.15" y="144.77" width="15.98" height="2.17" fill="#d2f0e6"/><rect x="31.15" y="145.94" width="15.98" height="2.17" fill="#f0b848"/><rect x="31.15" y="147.11" width="15.98" height="2.17" fill="#5a1208"/><rect x="31.15" y="148.28" width="15.98" height="5.68" fill="#00008c"/><rect x="31.15" y="152.95" width="15.98" height="2.17" fill="#d2f0e6"/><rect x="31.15" y="154.12" width="15.98" height="2.17" fill="#f0b848"/><rect x="31.15" y="155.29" width="15.98" height="2.17" fill="#5a1208"/><rect x="31.15" y="156.46" width="15.98" height="5.68" fill="#00008c"/><rect x="31.15" y="161.14" width="15.98" height="2.17" fill="#d2f0e6"/><rect x="31.15" y="162.31" width="15.98" height="2.17" fill="#f0b848"/><rect x="31.15" y="163.47" width="15.98" height="2.17" fill="#5a1208"/><rect x="31.15" y="164.64" width="15.98" height="5.68" fill="#00008c"/><rect x="31.15" y="169.32" width="15.98" height="2.17" fill="#d2f0e6"/><rect x="31.15" y="170.49" width="15.98" height="2.17" fill="#f0b848"/><rect x="31.15" y="171.66" width="15.98" height="2.17" fill="#5a1208"/><rect x="31.15" y="172.83" width="15.98" height="2.17" fill="#00008c"/><rect x="31.15" y="173.99" width="15.98" height="2.17" fill="#d2f0e6"/><rect x="31.15" y="175.16" width="15.98" height="2.17" fill="#f0b848"/><rect x="31.15" y="176.33" width="15.98" height="2.17" fill="#5a1208"/><rect x="31.15" y="177.5" width="15.98" height="2.17" fill="#00008c"/><rect x="31.15" y="178.67" width="15.98" height="2.17" fill="#d2f0e6"/><rect x="31.15" y="179.84" width="15.98" height="2.17" fill="#f0b848"/><rect x="31.15" y="181.01" width="15.98" height="2.17" fill="#5a1208"/><rect x="31.15" y="182.18" width="15.98" height="2.17" fill="#00008c"/><rect x="31.15" y="183.35" width="15.98" height="2.17" fill="#d2f0e6"/><rect x="31.15" y="184.51" width="15.98" height="2.17" fill="#f0b848"/><rect x="31.15" y="185.68" width="15.98" height="2.17" fill="#5a1208"/><rect x="31.15" y="186.85" width="15.98" height="2.17" fill="#00008c"/><rect x="31.15" y="188.02" width="15.98" height="2.17" fill="#d2f0e6"/><rect x="31.15" y="189.19" width="15.98" height="2.17" fill="#f0b848"/><rect x="31.15" y="190.36" width="15.98" height="2.17" fill="#5a1208"/><rect x="31.15" y="191.53" width="15.98" height="5.68" fill="#00008c"/><rect x="31.15" y="196.2" width="15.98" height="2.17" fill="#d2f0e6"/><rect x="31.15" y="197.37" width="15.98" height="2.17" fill="#f0b848"/><rect x="31.15" y="198.54" width="15.98" height="2.17" fill="#5a1208"/><rect x="31.15" y="199.71" width="15.98" height="5.68" fill="#00008c"/><rect x="31.15" y="204.39" width="15.98" height="2.17" fill="#d2f0e6"/><rect x="31.15" y="205.56" width="15.98" height="2.17" fill="#f0b848"/><rect x="31.15" y="206.72" width="15.98" height="2.17" fill="#5a1208"/><rect x="31.15" y="207.89" width="15.98" height="3.51" fill="#00008c"/><rect x="46.12" y="124.9" width="14.98" height="44.25" fill="#00008c"/><rect x="46.12" y="168.15" width="14.98" height="43.25" fill="#860000"/><rect x="1.2" y="124.9" width="59.9" height="86.5" fill="none" stroke="#202040" stroke-width="0.5"/><rect x="64.1" y="124.9" width="218.3" height="2.17" fill="url(#g0)"/><rect x="64.1" y="126.07" width="218.3" height="2.17" fill="url(#g0)"/><rect x="64.1" y="127.24" width="218.3" height="2.17" fill="url(#g1)"/><rect x="64.1" y="128.41" width="218.3" height="2.17" fill="url(#g2)"/><rect x="64.1" y="129.58" width="218.3" height="2.17" fill="url(#g3)"/><rect x="64.1" y="130.74" width="218.3" height="2.17" fill="url(#g3)"/><rect x="64.1" y="131.91" width="218.3" height="2.17" fill="url(#g4)"/><rect x="64.1" y="133.08" width="218.3" height="2.17" fill="url(#g5)"/><rect x="64.1" y="134.25" width="218.3" height="2.17" fill="url(#g6)"/><rect x="64.1" y="135.42" width="218.3" height="2.17" fill="url(#g6)"/><rect x="64.1" y="136.59" width="218.3" height="2.17" fill="url(#g7)"/><rect x="64.1" y="137.76" width="218.3" height="2.17" fill="url(#g8)"/><rect x="64.1" y="138.93" width="218.3" height="2.17" fill="url(#g9)"/><rect x="64.1" y="140.1" width="218.3" height="2.17" fill="url(#g9)"/><rect x="64.1" y="141.26" width="218.3" height="2.17" fill="url(#g10)"/><rect x="64.1" y="142.43" width="218.3" height="2.17" fill="url(#g11)"/><rect x="64.1" y="143.6" width="218.3" height="2.17" fill="url(#g116)"/><rect x="64.1" y="144.77" width="218.3" height="2.17" fill="url(#g116)"/><rect x="64.1" y="145.94" width="218.3" height="2.17" fill="url(#g117)"/><rect x="64.1" y="147.11" width="218.3" height="2.17" fill="url(#g118)"/><rect x="64.1" y="148.28" width="218.3" height="2.17" fill="url(#g119)"/><rect x="64.1" y="149.45" width="218.3" height="2.17" fill="url(#g120)"/><rect x="64.1" y="150.62" width="218.3" height="2.17" fill="url(#g121)"/><rect x="64.1" y="151.79" width="218.3" height="2.17" fill="url(#g122)"/><rect x="64.1" y="152.95" width="218.3" height="2.17" fill="url(#g122)"/><rect x="64.1" y="154.12" width="218.3" height="2.17" fill="url(#g123)"/><rect x="64.1" y="155.29" width="218.3" height="2.17" fill="url(#g124)"/><rect x="64.1" y="156.46" width="218.3" height="2.17" fill="url(#g125)"/><rect x="64.1" y="157.63" width="218.3" height="2.17" fill="url(#g126)"/><rect x="64.1" y="158.8" width="218.3" height="2.17" fill="url(#g127)"/><rect x="64.1" y="159.97" width="218.3" height="2.17" fill="url(#g128)"/><rect x="64.1" y="161.14" width="218.3" height="2.17" fill="url(#g128)"/><rect x="64.1" y="162.31" width="218.3" height="2.17" fill="url(#g129)"/><rect x="64.1" y="163.47" width="218.3" height="2.17" fill="url(#g130)"/><rect x="64.1" y="164.64" width="218.3" height="2.17" fill="url(#g131)"/><rect x="64.1" y="165.81" width="218.3" height="2.17" fill="url(#g132)"/><rect x="64.1" y="166.98" width="218.3" height="2.17" fill="url(#g133)"/><rect x="64.1" y="168.15" width="218.3" height="2.17" fill="url(#g0)"/><rect x="64.1" y="169.32" width="218.3" height="2.17" fill="url(#g0)"/><rect x="64.1" y="170.49" width="218.3" height="2.17" fill="url(#g30)"/><rect x="64.1" y="171.66" width="218.3" height="2.17" fill="url(#g31)"/><rect x="64.1" y="172.83" width="218.3" height="2.17" fill="url(#g32)"/><rect x="64.1" y="173.99" width="218.3" height="2.17" fill="url(#g32)"/><rect x="64.1" y="175.16" width="218.3" height="2.17" fill="url(#g33)"/><rect x="64.1" y="176.33" width="218.3" height="2.17" fill="url(#g34)"/><rect x="64.1" y="177.5" width="218.3" height="2.17" fill="url(#g3)"/><rect x="64.1" y="178.67" width="218.3" height="2.17" fill="url(#g3)"/><rect x="64.1" y="179.84" width="218.3" height="2.17" fill="url(#g35)"/><rect x="64.1" y="181.01" width="218.3" height="2.17" fill="url(#g36)"/><rect x="64.1" y="182.18" width="218.3" height="2.17" fill="url(#g37)"/><rect x="64.1" y="183.35" width="218.3" height="2.17" fill="url(#g37)"/><rect x="64.1" y="184.51" width="218.3" height="2.17" fill="url(#g38)"/><rect x="64.1" y="185.68" width="218.3" height="2.17" fill="url(#g39)"/><rect x="64.1" y="186.85" width="218.3" height="2.17" fill="url(#g134)"/><rect x="64.1" y="188.02" width="218.3" height="2.17" fill="url(#g134)"/><rect x="64.1" y="189.19" width="218.3" height="2.17" fill="url(#g135)"/><rect x="64.1" y="190.36" width="218.3" height="2.17" fill="url(#g136)"/><rect x="64.1" y="191.53" width="218.3" height="2.17" fill="url(#g137)"/><rect x="64.1" y="192.7" width="218.3" height="2.17" fill="url(#g138)"/><rect x="64.1" y="193.87" width="218.3" height="2.17" fill="url(#g139)"/><rect x="64.1" y="195.04" width="218.3" height="2.17" fill="url(#g140)"/><rect x="64.1" y="196.2" width="218.3" height="2.17" fill="url(#g140)"/><rect x="64.1" y="197.37" width="218.3" height="2.17" fill="url(#g141)"/><rect x="64.1" y="198.54" width="218.3" height="2.17" fill="url(#g142)"/><rect x="64.1" y="199.71" width="218.3" height="2.17" fill="url(#g143)"/><rect x="64.1" y="200.88" width="218.3" height="2.17" fill="url(#g144)"/><rect x="64.1" y="202.05" width="218.3" height="2.17" fill="url(#g145)"/><rect x="64.1" y="203.22" width="218.3" height="2.17" fill="url(#g146)"/><rect x="64.1" y="204.39" width="218.3" height="2.17" fill="url(#g146)"/><rect x="64.1" y="205.56" width="218.3" height="2.17" fill="url(#g147)"/><rect x="64.1" y="206.72" width="218.3" height="2.17" fill="url(#g148)"/><rect x="64.1" y="207.89" width="218.3" height="2.17" fill="url(#g149)"/><rect x="64.1" y="209.06" width="218.3" height="2.17" fill="url(#g150)"/><rect x="64.1" y="210.23" width="218.3" height="1.17" fill="url(#g151)"/><line x1="111.56" y1="124.9" x2="111.56" y2="126.9" stroke="#222" stroke-width="0.7"/><line x1="111.56" y1="211.4" x2="111.56" y2="209.4" stroke="#222" stroke-width="0.7"/><line x1="159.01" y1="124.9" x2="159.01" y2="126.9" stroke="#222" stroke-width="0.7"/><line x1="159.01" y1="211.4" x2="159.01" y2="209.4" stroke="#222" stroke-width="0.7"/><line x1="206.47" y1="124.9" x2="206.47" y2="126.9" stroke="#222" stroke-width="0.7"/><line x1="206.47" y1="211.4" x2="206.47" y2="209.4" stroke="#222" stroke-width="0.7"/><line x1="253.93" y1="124.9" x2="253.93" y2="126.9" stroke="#222" stroke-width="0.7"/><line x1="253.93" y1="211.4" x2="253.93" y2="209.4" stroke="#222" stroke-width="0.7"/><rect x="286.3" y="124.9" width="218.2" height="2.17" fill="url(#g58)"/><rect x="286.3" y="126.07" width="218.2" height="2.17" fill="url(#g58)"/><rect x="286.3" y="127.24" width="218.2" height="2.17" fill="url(#g59)"/><rect x="286.3" y="128.41" width="218.2" height="2.17" fill="url(#g60)"/><rect x="286.3" y="129.58" width="218.2" height="2.17" fill="url(#g61)"/><rect x="286.3" y="130.74" width="218.2" height="2.17" fill="url(#g61)"/><rect x="286.3" y="131.91" width="218.2" height="2.17" fill="url(#g62)"/><rect x="286.3" y="133.08" width="218.2" height="2.17" fill="url(#g63)"/><rect x="286.3" y="134.25" width="218.2" height="2.17" fill="url(#g64)"/><rect x="286.3" y="135.42" width="218.2" height="2.17" fill="url(#g64)"/><rect x="286.3" y="136.59" width="218.2" height="2.17" fill="url(#g65)"/><rect x="286.3" y="137.76" width="218.2" height="2.17" fill="url(#g66)"/><rect x="286.3" y="138.93" width="218.2" height="2.17" fill="url(#g67)"/><rect x="286.3" y="140.1" width="218.2" height="2.17" fill="url(#g67)"/><rect x="286.3" y="141.26" width="218.2" height="2.17" fill="url(#g68)"/><rect x="286.3" y="142.43" width="218.2" height="2.17" fill="url(#g69)"/><rect x="286.3" y="143.6" width="218.2" height="2.17" fill="url(#g152)"/><rect x="286.3" y="144.77" width="218.2" height="2.17" fill="url(#g152)"/><rect x="286.3" y="145.94" width="218.2" height="2.17" fill="url(#g153)"/><rect x="286.3" y="147.11" width="218.2" height="2.17" fill="url(#g154)"/><rect x="286.3" y="148.28" width="218.2" height="2.17" fill="url(#g155)"/><rect x="286.3" y="149.45" width="218.2" height="2.17" fill="url(#g156)"/><rect x="286.3" y="150.62" width="218.2" height="2.17" fill="url(#g157)"/><rect x="286.3" y="151.79" width="218.2" height="2.17" fill="url(#g158)"/><rect x="286.3" y="152.95" width="218.2" height="2.17" fill="url(#g158)"/><rect x="286.3" y="154.12" width="218.2" height="2.17" fill="url(#g159)"/><rect x="286.3" y="155.29" width="218.2" height="2.17" fill="url(#g160)"/><rect x="286.3" y="156.46" width="218.2" height="2.17" fill="url(#g161)"/><rect x="286.3" y="157.63" width="218.2" height="2.17" fill="url(#g162)"/><rect x="286.3" y="158.8" width="218.2" height="2.17" fill="url(#g163)"/><rect x="286.3" y="159.97" width="218.2" height="2.17" fill="url(#g164)"/><rect x="286.3" y="161.14" width="218.2" height="2.17" fill="url(#g164)"/><rect x="286.3" y="162.31" width="218.2" height="2.17" fill="url(#g165)"/><rect x="286.3" y="163.47" width="218.2" height="2.17" fill="url(#g166)"/><rect x="286.3" y="164.64" width="218.2" height="2.17" fill="url(#g167)"/><rect x="286.3" y="165.81" width="218.2" height="2.17" fill="url(#g168)"/><rect x="286.3" y="166.98" width="218.2" height="2.17" fill="url(#g169)"/><rect x="286.3" y="168.15" width="218.2" height="2.17" fill="url(#g58)"/><rect x="286.3" y="169.32" width="218.2" height="2.17" fill="url(#g58)"/><rect x="286.3" y="170.49" width="218.2" height="2.17" fill="url(#g88)"/><rect x="286.3" y="171.66" width="218.2" height="2.17" fill="url(#g89)"/><rect x="286.3" y="172.83" width="218.2" height="2.17" fill="url(#g90)"/><rect x="286.3" y="173.99" width="218.2" height="2.17" fill="url(#g90)"/><rect x="286.3" y="175.16" width="218.2" height="2.17" fill="url(#g91)"/><rect x="286.3" y="176.33" width="218.2" height="2.17" fill="url(#g92)"/><rect x="286.3" y="177.5" width="218.2" height="2.17" fill="url(#g61)"/><rect x="286.3" y="178.67" width="218.2" height="2.17" fill="url(#g61)"/><rect x="286.3" y="179.84" width="218.2" height="2.17" fill="url(#g93)"/><rect x="286.3" y="181.01" width="218.2" height="2.17" fill="url(#g94)"/><rect x="286.3" y="182.18" width="218.2" height="2.17" fill="url(#g95)"/><rect x="286.3" y="183.35" width="218.2" height="2.17" fill="url(#g95)"/><rect x="286.3" y="184.51" width="218.2" height="2.17" fill="url(#g96)"/><rect x="286.3" y="185.68" width="218.2" height="2.17" fill="url(#g97)"/><rect x="286.3" y="186.85" width="218.2" height="2.17" fill="url(#g170)"/><rect x="286.3" y="188.02" width="218.2" height="2.17" fill="url(#g170)"/><rect x="286.3" y="189.19" width="218.2" height="2.17" fill="url(#g171)"/><rect x="286.3" y="190.36" width="218.2" height="2.17" fill="url(#g172)"/><rect x="286.3" y="191.53" width="218.2" height="2.17" fill="url(#g173)"/><rect x="286.3" y="192.7" width="218.2" height="2.17" fill="url(#g174)"/><rect x="286.3" y="193.87" width="218.2" height="2.17" fill="url(#g175)"/><rect x="286.3" y="195.04" width="218.2" height="2.17" fill="url(#g176)"/><rect x="286.3" y="196.2" width="218.2" height="2.17" fill="url(#g176)"/><rect x="286.3" y="197.37" width="218.2" height="2.17" fill="url(#g177)"/><rect x="286.3" y="198.54" width="218.2" height="2.17" fill="url(#g178)"/><rect x="286.3" y="199.71" width="218.2" height="2.17" fill="url(#g179)"/><rect x="286.3" y="200.88" width="218.2" height="2.17" fill="url(#g180)"/><rect x="286.3" y="202.05" width="218.2" height="2.17" fill="url(#g181)"/><rect x="286.3" y="203.22" width="218.2" height="2.17" fill="url(#g182)"/><rect x="286.3" y="204.39" width="218.2" height="2.17" fill="url(#g182)"/><rect x="286.3" y="205.56" width="218.2" height="2.17" fill="url(#g183)"/><rect x="286.3" y="206.72" width="218.2" height="2.17" fill="url(#g184)"/><rect x="286.3" y="207.89" width="218.2" height="2.17" fill="url(#g185)"/><rect x="286.3" y="209.06" width="218.2" height="2.17" fill="url(#g186)"/><rect x="286.3" y="210.23" width="218.2" height="1.17" fill="url(#g187)"/><line x1="333.73" y1="124.9" x2="333.73" y2="126.9" stroke="#222" stroke-width="0.7"/><line x1="333.73" y1="211.4" x2="333.73" y2="209.4" stroke="#222" stroke-width="0.7"/><line x1="381.17" y1="124.9" x2="381.17" y2="126.9" stroke="#222" stroke-width="0.7"/><line x1="381.17" y1="211.4" x2="381.17" y2="209.4" stroke="#222" stroke-width="0.7"/><line x1="428.6" y1="124.9" x2="428.6" y2="126.9" stroke="#222" stroke-width="0.7"/><line x1="428.6" y1="211.4" x2="428.6" y2="209.4" stroke="#222" stroke-width="0.7"/><line x1="476.04" y1="124.9" x2="476.04" y2="126.9" stroke="#222" stroke-width="0.7"/><line x1="476.04" y1="211.4" x2="476.04" y2="209.4" stroke="#222" stroke-width="0.7"/><rect x="1.2" y="214.1" width="15.98" height="19.66" fill="#00008c"/><rect x="1.2" y="232.76" width="15.98" height="9.16" fill="#86d8f0"/><rect x="1.2" y="240.92" width="15.98" height="9.16" fill="#f8cc28"/><rect x="1.2" y="249.09" width="15.98" height="9.16" fill="#860000"/><rect x="1.2" y="257.25" width="15.98" height="19.66" fill="#00008c"/><rect x="1.2" y="275.91" width="15.98" height="9.16" fill="#86d8f0"/><rect x="1.2" y="284.07" width="15.98" height="9.16" fill="#f8cc28"/><rect x="1.2" y="292.24" width="15.98" height="8.16" fill="#860000"/><rect x="16.18" y="214.1" width="15.97" height="5.66" fill="#00008c"/><rect x="16.18" y="218.76" width="15.97" height="5.66" fill="#86d8f0"/><rect x="16.18" y="223.43" width="15.97" height="5.66" fill="#f8cc28"/><rect x="16.18" y="228.09" width="15.97" height="5.66" fill="#860000"/><rect x="16.18" y="232.76" width="15.97" height="5.66" fill="#00008c"/><rect x="16.18" y="237.42" width="15.97" height="2.17" fill="#d2f0e6"/><rect x="16.18" y="238.59" width="15.97" height="2.17" fill="#f0b848"/><rect x="16.18" y="239.76" width="15.97" height="2.17" fill="#5a1208"/><rect x="16.18" y="240.92" width="15.97" height="5.66" fill="#00008c"/><rect x="16.18" y="245.59" width="15.97" height="2.17" fill="#d2f0e6"/><rect x="16.18" y="246.75" width="15.97" height="2.17" fill="#f0b848"/><rect x="16.18" y="247.92" width="15.97" height="2.17" fill="#5a1208"/><rect x="16.18" y="249.09" width="15.97" height="5.66" fill="#00008c"/><rect x="16.18" y="253.75" width="15.97" height="2.17" fill="#d2f0e6"/><rect x="16.18" y="254.92" width="15.97" height="2.17" fill="#f0b848"/><rect x="16.18" y="256.08" width="15.97" height="2.17" fill="#5a1208"/><rect x="16.18" y="257.25" width="15.97" height="5.66" fill="#00008c"/><rect x="16.18" y="261.91" width="15.97" height="5.66" fill="#86d8f0"/><rect x="16.18" y="266.58" width="15.97" height="5.66" fill="#f8cc28"/><rect x="16.18" y="271.24" width="15.97" height="5.66" fill="#860000"/><rect x="16.18" y="275.91" width="15.97" height="5.66" fill="#00008c"/><rect x="16.18" y="280.57" width="15.97" height="2.17" fill="#d2f0e6"/><rect x="16.18" y="281.74" width="15.97" height="2.17" fill="#f0b848"/><rect x="16.18" y="282.91" width="15.97" height="2.17" fill="#5a1208"/><rect x="16.18" y="284.07" width="15.97" height="5.66" fill="#00008c"/><rect x="16.18" y="288.74" width="15.97" height="2.17" fill="#d2f0e6"/><rect x="16.18" y="289.9" width="15.97" height="2.17" fill="#f0b848"/><rect x="16.18" y="291.07" width="15.97" height="2.17" fill="#5a1208"/><rect x="16.18" y="292.24" width="15.97" height="5.66" fill="#00008c"/><rect x="16.18" y="296.9" width="15.97" height="2.17" fill="#d2f0e6"/><rect x="16.18" y="298.07" width="15.97" height="2.17" fill="#f0b848"/><rect x="16.18" y="299.23" width="15.97" height="1.17" fill="#5a1208"/><rect x="31.15" y="214.1" width="15.98" height="2.17" fill="#00008c"/><rect x="31.15" y="215.27" width="15.98" height="2.17" fill="#d2f0e6"/><rect x="31.15" y="216.43" width="15.98" height="2.17" fill="#f0b848"/><rect x="31.15" y="217.6" width="15.98" height="2.17" fill="#5a1208"/><rect x="31.15" y="218.76" width="15.98" height="2.17" fill="#00008c"/><rect x="31.15" y="219.93" width="15.98" height="2.17" fill="#d2f0e6"/><rect x="31.15" y="221.1" width="15.98" height="2.17" fill="#f0b848"/><rect x="31.15" y="222.26" width="15.98" height="2.17" fill="#5a1208"/><rect x="31.15" y="223.43" width="15.98" height="2.17" fill="#00008c"/><rect x="31.15" y="224.6" width="15.98" height="2.17" fill="#d2f0e6"/><rect x="31.15" y="225.76" width="15.98" height="2.17" fill="#f0b848"/><rect x="31.15" y="226.93" width="15.98" height="2.17" fill="#5a1208"/><rect x="31.15" y="228.09" width="15.98" height="2.17" fill="#00008c"/><rect x="31.15" y="229.26" width="15.98" height="2.17" fill="#d2f0e6"/><rect x="31.15" y="230.43" width="15.98" height="2.17" fill="#f0b848"/><rect x="31.15" y="231.59" width="15.98" height="2.17" fill="#5a1208"/><rect x="31.15" y="232.76" width="15.98" height="2.17" fill="#00008c"/><rect x="31.15" y="233.93" width="15.98" height="2.17" fill="#d2f0e6"/><rect x="31.15" y="235.09" width="15.98" height="2.17" fill="#f0b848"/><rect x="31.15" y="236.26" width="15.98" height="2.17" fill="#5a1208"/><rect x="31.15" y="237.42" width="15.98" height="5.66" fill="#00008c"/><rect x="31.15" y="242.09" width="15.98" height="2.17" fill="#d2f0e6"/><rect x="31.15" y="243.26" width="15.98" height="2.17" fill="#f0b848"/><rect x="31.15" y="244.42" width="15.98" height="2.17" fill="#5a1208"/><rect x="31.15" y="245.59" width="15.98" height="5.66" fill="#00008c"/><rect x="31.15" y="250.25" width="15.98" height="2.17" fill="#d2f0e6"/><rect x="31.15" y="251.42" width="15.98" height="2.17" fill="#f0b848"/><rect x="31.15" y="252.59" width="15.98" height="2.17" fill="#5a1208"/><rect x="31.15" y="253.75" width="15.98" height="5.66" fill="#00008c"/><rect x="31.15" y="258.42" width="15.98" height="2.17" fill="#d2f0e6"/><rect x="31.15" y="259.58" width="15.98" height="2.17" fill="#f0b848"/><rect x="31.15" y="260.75" width="15.98" height="2.17" fill="#5a1208"/><rect x="31.15" y="261.91" width="15.98" height="2.17" fill="#00008c"/><rect x="31.15" y="263.08" width="15.98" height="2.17" fill="#d2f0e6"/><rect x="31.15" y="264.25" width="15.98" height="2.17" fill="#f0b848"/><rect x="31.15" y="265.41" width="15.98" height="2.17" fill="#5a1208"/><rect x="31.15" y="266.58" width="15.98" height="2.17" fill="#00008c"/><rect x="31.15" y="267.75" width="15.98" height="2.17" fill="#d2f0e6"/><rect x="31.15" y="268.91" width="15.98" height="2.17" fill="#f0b848"/><rect x="31.15" y="270.08" width="15.98" height="2.17" fill="#5a1208"/><rect x="31.15" y="271.24" width="15.98" height="2.17" fill="#00008c"/><rect x="31.15" y="272.41" width="15.98" height="2.17" fill="#d2f0e6"/><rect x="31.15" y="273.58" width="15.98" height="2.17" fill="#f0b848"/><rect x="31.15" y="274.74" width="15.98" height="2.17" fill="#5a1208"/><rect x="31.15" y="275.91" width="15.98" height="2.17" fill="#00008c"/><rect x="31.15" y="277.08" width="15.98" height="2.17" fill="#d2f0e6"/><rect x="31.15" y="278.24" width="15.98" height="2.17" fill="#f0b848"/><rect x="31.15" y="279.41" width="15.98" height="2.17" fill="#5a1208"/><rect x="31.15" y="280.57" width="15.98" height="5.66" fill="#00008c"/><rect x="31.15" y="285.24" width="15.98" height="2.17" fill="#d2f0e6"/><rect x="31.15" y="286.41" width="15.98" height="2.17" fill="#f0b848"/><rect x="31.15" y="287.57" width="15.98" height="2.17" fill="#5a1208"/><rect x="31.15" y="288.74" width="15.98" height="5.66" fill="#00008c"/><rect x="31.15" y="293.4" width="15.98" height="2.17" fill="#d2f0e6"/><rect x="31.15" y="294.57" width="15.98" height="2.17" fill="#f0b848"/><rect x="31.15" y="295.74" width="15.98" height="2.17" fill="#5a1208"/><rect x="31.15" y="296.9" width="15.98" height="3.5" fill="#00008c"/><rect x="46.12" y="214.1" width="14.98" height="44.15" fill="#00008c"/><rect x="46.12" y="257.25" width="14.98" height="43.15" fill="#860000"/><rect x="1.2" y="214.1" width="59.9" height="86.3" fill="none" stroke="#202040" stroke-width="0.5"/><rect x="64.1" y="214.1" width="218.3" height="2.17" fill="url(#g0)"/><rect x="64.1" y="215.27" width="218.3" height="2.17" fill="url(#g0)"/><rect x="64.1" y="216.43" width="218.3" height="2.17" fill="url(#g1)"/><rect x="64.1" y="217.6" width="218.3" height="2.17" fill="url(#g2)"/><rect x="64.1" y="218.76" width="218.3" height="2.17" fill="url(#g3)"/><rect x="64.1" y="219.93" width="218.3" height="2.17" fill="url(#g3)"/><rect x="64.1" y="221.1" width="218.3" height="2.17" fill="url(#g4)"/><rect x="64.1" y="222.26" width="218.3" height="2.17" fill="url(#g5)"/><rect x="64.1" y="223.43" width="218.3" height="2.17" fill="url(#g6)"/><rect x="64.1" y="224.6" width="218.3" height="2.17" fill="url(#g6)"/><rect x="64.1" y="225.76" width="218.3" height="2.17" fill="url(#g7)"/><rect x="64.1" y="226.93" width="218.3" height="2.17" fill="url(#g8)"/><rect x="64.1" y="228.09" width="218.3" height="2.17" fill="url(#g9)"/><rect x="64.1" y="229.26" width="218.3" height="2.17" fill="url(#g9)"/><rect x="64.1" y="230.43" width="218.3" height="2.17" fill="url(#g10)"/><rect x="64.1" y="231.59" width="218.3" height="2.17" fill="url(#g11)"/><rect x="64.1" y="232.76" width="218.3" height="2.17" fill="url(#g188)"/><rect x="64.1" y="233.93" width="218.3" height="2.17" fill="url(#g188)"/><rect x="64.1" y="235.09" width="218.3" height="2.17" fill="url(#g189)"/><rect x="64.1" y="236.26" width="218.3" height="2.17" fill="url(#g190)"/><rect x="64.1" y="237.42" width="218.3" height="2.17" fill="url(#g191)"/><rect x="64.1" y="238.59" width="218.3" height="2.17" fill="url(#g192)"/><rect x="64.1" y="239.76" width="218.3" height="2.17" fill="url(#g193)"/><rect x="64.1" y="240.92" width="218.3" height="2.17" fill="url(#g194)"/><rect x="64.1" y="242.09" width="218.3" height="2.17" fill="url(#g194)"/><rect x="64.1" y="243.26" width="218.3" height="2.17" fill="url(#g195)"/><rect x="64.1" y="244.42" width="218.3" height="2.17" fill="url(#g196)"/><rect x="64.1" y="245.59" width="218.3" height="2.17" fill="url(#g197)"/><rect x="64.1" y="246.75" width="218.3" height="2.17" fill="url(#g198)"/><rect x="64.1" y="247.92" width="218.3" height="2.17" fill="url(#g199)"/><rect x="64.1" y="249.09" width="218.3" height="2.17" fill="url(#g200)"/><rect x="64.1" y="250.25" width="218.3" height="2.17" fill="url(#g200)"/><rect x="64.1" y="251.42" width="218.3" height="2.17" fill="url(#g201)"/><rect x="64.1" y="252.59" width="218.3" height="2.17" fill="url(#g202)"/><rect x="64.1" y="253.75" width="218.3" height="2.17" fill="url(#g203)"/><rect x="64.1" y="254.92" width="218.3" height="2.17" fill="url(#g204)"/><rect x="64.1" y="256.08" width="218.3" height="2.17" fill="url(#g205)"/><rect x="64.1" y="257.25" width="218.3" height="2.17" fill="url(#g0)"/><rect x="64.1" y="258.42" width="218.3" height="2.17" fill="url(#g0)"/><rect x="64.1" y="259.58" width="218.3" height="2.17" fill="url(#g30)"/><rect x="64.1" y="260.75" width="218.3" height="2.17" fill="url(#g31)"/><rect x="64.1" y="261.91" width="218.3" height="2.17" fill="url(#g32)"/><rect x="64.1" y="263.08" width="218.3" height="2.17" fill="url(#g32)"/><rect x="64.1" y="264.25" width="218.3" height="2.17" fill="url(#g33)"/><rect x="64.1" y="265.41" width="218.3" height="2.17" fill="url(#g34)"/><rect x="64.1" y="266.58" width="218.3" height="2.17" fill="url(#g3)"/><rect x="64.1" y="267.75" width="218.3" height="2.17" fill="url(#g3)"/><rect x="64.1" y="268.91" width="218.3" height="2.17" fill="url(#g35)"/><rect x="64.1" y="270.08" width="218.3" height="2.17" fill="url(#g36)"/><rect x="64.1" y="271.24" width="218.3" height="2.17" fill="url(#g37)"/><rect x="64.1" y="272.41" width="218.3" height="2.17" fill="url(#g37)"/><rect x="64.1" y="273.58" width="218.3" height="2.17" fill="url(#g38)"/><rect x="64.1" y="274.74" width="218.3" height="2.17" fill="url(#g39)"/><rect x="64.1" y="275.91" width="218.3" height="2.17" fill="url(#g206)"/><rect x="64.1" y="277.08" width="218.3" height="2.17" fill="url(#g206)"/><rect x="64.1" y="278.24" width="218.3" height="2.17" fill="url(#g207)"/><rect x="64.1" y="279.41" width="218.3" height="2.17" fill="url(#g208)"/><rect x="64.1" y="280.57" width="218.3" height="2.17" fill="url(#g209)"/><rect x="64.1" y="281.74" width="218.3" height="2.17" fill="url(#g210)"/><rect x="64.1" y="282.91" width="218.3" height="2.17" fill="url(#g211)"/><rect x="64.1" y="284.07" width="218.3" height="2.17" fill="url(#g212)"/><rect x="64.1" y="285.24" width="218.3" height="2.17" fill="url(#g212)"/><rect x="64.1" y="286.41" width="218.3" height="2.17" fill="url(#g213)"/><rect x="64.1" y="287.57" width="218.3" height="2.17" fill="url(#g214)"/><rect x="64.1" y="288.74" width="218.3" height="2.17" fill="url(#g215)"/><rect x="64.1" y="289.9" width="218.3" height="2.17" fill="url(#g216)"/><rect x="64.1" y="291.07" width="218.3" height="2.17" fill="url(#g217)"/><rect x="64.1" y="292.24" width="218.3" height="2.17" fill="url(#g218)"/><rect x="64.1" y="293.4" width="218.3" height="2.17" fill="url(#g218)"/><rect x="64.1" y="294.57" width="218.3" height="2.17" fill="url(#g219)"/><rect x="64.1" y="295.74" width="218.3" height="2.17" fill="url(#g220)"/><rect x="64.1" y="296.9" width="218.3" height="2.17" fill="url(#g221)"/><rect x="64.1" y="298.07" width="218.3" height="2.17" fill="url(#g222)"/><rect x="64.1" y="299.23" width="218.3" height="1.17" fill="url(#g223)"/><line x1="111.56" y1="214.1" x2="111.56" y2="216.1" stroke="#222" stroke-width="0.7"/><line x1="111.56" y1="300.4" x2="111.56" y2="298.4" stroke="#222" stroke-width="0.7"/><line x1="159.01" y1="214.1" x2="159.01" y2="216.1" stroke="#222" stroke-width="0.7"/><line x1="159.01" y1="300.4" x2="159.01" y2="298.4" stroke="#222" stroke-width="0.7"/><line x1="206.47" y1="214.1" x2="206.47" y2="216.1" stroke="#222" stroke-width="0.7"/><line x1="206.47" y1="300.4" x2="206.47" y2="298.4" stroke="#222" stroke-width="0.7"/><line x1="253.93" y1="214.1" x2="253.93" y2="216.1" stroke="#222" stroke-width="0.7"/><line x1="253.93" y1="300.4" x2="253.93" y2="298.4" stroke="#222" stroke-width="0.7"/><rect x="286.3" y="214.1" width="218.2" height="2.17" fill="url(#g58)"/><rect x="286.3" y="215.27" width="218.2" height="2.17" fill="url(#g58)"/><rect x="286.3" y="216.43" width="218.2" height="2.17" fill="url(#g59)"/><rect x="286.3" y="217.6" width="218.2" height="2.17" fill="url(#g60)"/><rect x="286.3" y="218.76" width="218.2" height="2.17" fill="url(#g61)"/><rect x="286.3" y="219.93" width="218.2" height="2.17" fill="url(#g61)"/><rect x="286.3" y="221.1" width="218.2" height="2.17" fill="url(#g62)"/><rect x="286.3" y="222.26" width="218.2" height="2.17" fill="url(#g63)"/><rect x="286.3" y="223.43" width="218.2" height="2.17" fill="url(#g64)"/><rect x="286.3" y="224.6" width="218.2" height="2.17" fill="url(#g64)"/><rect x="286.3" y="225.76" width="218.2" height="2.17" fill="url(#g65)"/><rect x="286.3" y="226.93" width="218.2" height="2.17" fill="url(#g66)"/><rect x="286.3" y="228.09" width="218.2" height="2.17" fill="url(#g67)"/><rect x="286.3" y="229.26" width="218.2" height="2.17" fill="url(#g67)"/><rect x="286.3" y="230.43" width="218.2" height="2.17" fill="url(#g68)"/><rect x="286.3" y="231.59" width="218.2" height="2.17" fill="url(#g69)"/><rect x="286.3" y="232.76" width="218.2" height="2.17" fill="url(#g224)"/><rect x="286.3" y="233.93" width="218.2" height="2.17" fill="url(#g224)"/><rect x="286.3" y="235.09" width="218.2" height="2.17" fill="url(#g225)"/><rect x="286.3" y="236.26" width="218.2" height="2.17" fill="url(#g226)"/><rect x="286.3" y="237.42" width="218.2" height="2.17" fill="url(#g227)"/><rect x="286.3" y="238.59" width="218.2" height="2.17" fill="url(#g228)"/><rect x="286.3" y="239.76" width="218.2" height="2.17" fill="url(#g229)"/><rect x="286.3" y="240.92" width="218.2" height="2.17" fill="url(#g230)"/><rect x="286.3" y="242.09" width="218.2" height="2.17" fill="url(#g230)"/><rect x="286.3" y="243.26" width="218.2" height="2.17" fill="url(#g231)"/><rect x="286.3" y="244.42" width="218.2" height="2.17" fill="url(#g232)"/><rect x="286.3" y="245.59" width="218.2" height="2.17" fill="url(#g233)"/><rect x="286.3" y="246.75" width="218.2" height="2.17" fill="url(#g234)"/><rect x="286.3" y="247.92" width="218.2" height="2.17" fill="url(#g235)"/><rect x="286.3" y="249.09" width="218.2" height="2.17" fill="url(#g236)"/><rect x="286.3" y="250.25" width="218.2" height="2.17" fill="url(#g236)"/><rect x="286.3" y="251.42" width="218.2" height="2.17" fill="url(#g237)"/><rect x="286.3" y="252.59" width="218.2" height="2.17" fill="url(#g238)"/><rect x="286.3" y="253.75" width="218.2" height="2.17" fill="url(#g239)"/><rect x="286.3" y="254.92" width="218.2" height="2.17" fill="url(#g240)"/><rect x="286.3" y="256.08" width="218.2" height="2.17" fill="url(#g241)"/><rect x="286.3" y="257.25" width="218.2" height="2.17" fill="url(#g58)"/><rect x="286.3" y="258.42" width="218.2" height="2.17" fill="url(#g58)"/><rect x="286.3" y="259.58" width="218.2" height="2.17" fill="url(#g88)"/><rect x="286.3" y="260.75" width="218.2" height="2.17" fill="url(#g89)"/><rect x="286.3" y="261.91" width="218.2" height="2.17" fill="url(#g90)"/><rect x="286.3" y="263.08" width="218.2" height="2.17" fill="url(#g90)"/><rect x="286.3" y="264.25" width="218.2" height="2.17" fill="url(#g91)"/><rect x="286.3" y="265.41" width="218.2" height="2.17" fill="url(#g92)"/><rect x="286.3" y="266.58" width="218.2" height="2.17" fill="url(#g61)"/><rect x="286.3" y="267.75" width="218.2" height="2.17" fill="url(#g61)"/><rect x="286.3" y="268.91" width="218.2" height="2.17" fill="url(#g93)"/><rect x="286.3" y="270.08" width="218.2" height="2.17" fill="url(#g94)"/><rect x="286.3" y="271.24" width="218.2" height="2.17" fill="url(#g95)"/><rect x="286.3" y="272.41" width="218.2" height="2.17" fill="url(#g95)"/><rect x="286.3" y="273.58" width="218.2" height="2.17" fill="url(#g96)"/><rect x="286.3" y="274.74" width="218.2" height="2.17" fill="url(#g97)"/><rect x="286.3" y="275.91" width="218.2" height="2.17" fill="url(#g242)"/><rect x="286.3" y="277.08" width="218.2" height="2.17" fill="url(#g242)"/><rect x="286.3" y="278.24" width="218.2" height="2.17" fill="url(#g243)"/><rect x="286.3" y="279.41" width="218.2" height="2.17" fill="url(#g244)"/><rect x="286.3" y="280.57" width="218.2" height="2.17" fill="url(#g245)"/><rect x="286.3" y="281.74" width="218.2" height="2.17" fill="url(#g246)"/><rect x="286.3" y="282.91" width="218.2" height="2.17" fill="url(#g247)"/><rect x="286.3" y="284.07" width="218.2" height="2.17" fill="url(#g248)"/><rect x="286.3" y="285.24" width="218.2" height="2.17" fill="url(#g248)"/><rect x="286.3" y="286.41" width="218.2" height="2.17" fill="url(#g249)"/><rect x="286.3" y="287.57" width="218.2" height="2.17" fill="url(#g250)"/><rect x="286.3" y="288.74" width="218.2" height="2.17" fill="url(#g251)"/><rect x="286.3" y="289.9" width="218.2" height="2.17" fill="url(#g252)"/><rect x="286.3" y="291.07" width="218.2" height="2.17" fill="url(#g253)"/><rect x="286.3" y="292.24" width="218.2" height="2.17" fill="url(#g254)"/><rect x="286.3" y="293.4" width="218.2" height="2.17" fill="url(#g254)"/><rect x="286.3" y="294.57" width="218.2" height="2.17" fill="url(#g255)"/><rect x="286.3" y="295.74" width="218.2" height="2.17" fill="url(#g256)"/><rect x="286.3" y="296.9" width="218.2" height="2.17" fill="url(#g257)"/><rect x="286.3" y="298.07" width="218.2" height="2.17" fill="url(#g258)"/><rect x="286.3" y="299.23" width="218.2" height="1.17" fill="url(#g259)"/><line x1="333.73" y1="214.1" x2="333.73" y2="216.1" stroke="#222" stroke-width="0.7"/><line x1="333.73" y1="300.4" x2="333.73" y2="298.4" stroke="#222" stroke-width="0.7"/><line x1="381.17" y1="214.1" x2="381.17" y2="216.1" stroke="#222" stroke-width="0.7"/><line x1="381.17" y1="300.4" x2="381.17" y2="298.4" stroke="#222" stroke-width="0.7"/><line x1="428.6" y1="214.1" x2="428.6" y2="216.1" stroke="#222" stroke-width="0.7"/><line x1="428.6" y1="300.4" x2="428.6" y2="298.4" stroke="#222" stroke-width="0.7"/><line x1="476.04" y1="214.1" x2="476.04" y2="216.1" stroke="#222" stroke-width="0.7"/><line x1="476.04" y1="300.4" x2="476.04" y2="298.4" stroke="#222" stroke-width="0.7"/><text x="515.5" y="97.2" font-size="10.8" fill="#222" stroke="#222" stroke-width="0.2" textLength="34.7" lengthAdjust="spacingAndGlyphs" transform="rotate(-90 515.5 97.2)">Donor1</text><text x="515.5" y="181" font-size="10.8" fill="#222" stroke="#222" stroke-width="0.2" textLength="36.3" lengthAdjust="spacingAndGlyphs" transform="rotate(-90 515.5 181)">Donor2</text><text x="515.5" y="264.9" font-size="10.8" fill="#222" stroke="#222" stroke-width="0.2" textLength="36.3" lengthAdjust="spacingAndGlyphs" transform="rotate(-90 515.5 264.9)">Donor3</text><text x="11.8" y="323" font-size="9.2" fill="#222" stroke="#222" stroke-width="0.2" textLength="17" lengthAdjust="spacingAndGlyphs" transform="rotate(-90 11.8 323)">ADP</text><text x="27.5" y="336" font-size="9.2" fill="#222" stroke="#222" stroke-width="0.2" textLength="30" lengthAdjust="spacingAndGlyphs" transform="rotate(-90 27.5 336)">U46619</text><text x="44.5" y="323" font-size="9.2" fill="#222" stroke="#222" stroke-width="0.2" textLength="17" lengthAdjust="spacingAndGlyphs" transform="rotate(-90 44.5 323)">CVX</text><text x="59.5" y="334" font-size="9.2" fill="#222" stroke="#222" stroke-width="0.2" textLength="28" lengthAdjust="spacingAndGlyphs" transform="rotate(-90 59.5 334)">iloprost</text><text x="63.8" y="310.5" font-size="8.8" fill="#222" stroke="#222" stroke-width="0.2" textLength="3.4" lengthAdjust="spacingAndGlyphs">0</text><text x="102.3" y="310.5" font-size="8.8" fill="#222" stroke="#222" stroke-width="0.2" textLength="9.3" lengthAdjust="spacingAndGlyphs">50</text><text x="146.2" y="310.5" font-size="8.8" fill="#222" stroke="#222" stroke-width="0.2" textLength="13.8" lengthAdjust="spacingAndGlyphs">100</text><text x="194.2" y="310.5" font-size="8.8" fill="#222" stroke="#222" stroke-width="0.2" textLength="13.9" lengthAdjust="spacingAndGlyphs">150</text><text x="240.4" y="310.5" font-size="8.8" fill="#222" stroke="#222" stroke-width="0.2" textLength="14.6" lengthAdjust="spacingAndGlyphs">200</text><text x="268.2" y="310.5" font-size="8.8" fill="#222" stroke="#222" stroke-width="0.2" textLength="13.8" lengthAdjust="spacingAndGlyphs">230</text><text x="286" y="310.5" font-size="8.8" fill="#222" stroke="#222" stroke-width="0.2" textLength="3.4" lengthAdjust="spacingAndGlyphs">0</text><text x="324.5" y="310.5" font-size="8.8" fill="#222" stroke="#222" stroke-width="0.2" textLength="9.3" lengthAdjust="spacingAndGlyphs">50</text><text x="368.4" y="310.5" font-size="8.8" fill="#222" stroke="#222" stroke-width="0.2" textLength="13.8" lengthAdjust="spacingAndGlyphs">100</text><text x="416.4" y="310.5" font-size="8.8" fill="#222" stroke="#222" stroke-width="0.2" textLength="13.9" lengthAdjust="spacingAndGlyphs">150</text><text x="462.6" y="310.5" font-size="8.8" fill="#222" stroke="#222" stroke-width="0.2" textLength="14.6" lengthAdjust="spacingAndGlyphs">200</text><text x="490.4" y="310.5" font-size="8.8" fill="#222" stroke="#222" stroke-width="0.2" textLength="13.8" lengthAdjust="spacingAndGlyphs">230</text><rect x="220" y="327.4" width="33.2" height="2.3" fill="#111"/><text x="261.9" y="331.7" font-size="12.6" fill="#111" stroke="#111" stroke-width="0.2" textLength="44.6" lengthAdjust="spacingAndGlyphs">Time (s)</text><rect x="314.8" y="327.9" width="27" height="2.3" fill="#111"/><path d="M339.8,324.3 L350.7,329 L339.8,333.6 L342.3,329 Z" fill="#111"/><text x="1.8" y="360.4" font-size="15.4" font-weight="bold" fill="#111" stroke="#111" stroke-width="0.2" textLength="10.6" lengthAdjust="spacingAndGlyphs">B</text><text x="17" y="352" font-size="8.6" fill="#222" stroke="#222" stroke-width="0.2" textLength="20.5" lengthAdjust="spacingAndGlyphs">Input</text><rect x="41.6" y="345.4" width="5.4" height="5" fill="#14148a" stroke="#777" stroke-width="0.4"/><rect x="51.4" y="345.4" width="5.5" height="5" fill="#98dcf0" stroke="#777" stroke-width="0.4"/><rect x="60.7" y="345.4" width="5.4" height="5" fill="#f8f030" stroke="#777" stroke-width="0.4"/><rect x="70.4" y="345.4" width="5.4" height="5" fill="#dc0808" stroke="#777" stroke-width="0.4"/><text x="42.5" y="359" font-size="7" fill="#444" stroke="#444" stroke-width="0.2" textLength="2.7" lengthAdjust="spacingAndGlyphs">0</text><text x="49.8" y="359" font-size="7" fill="#444" stroke="#444" stroke-width="0.2" textLength="7.5" lengthAdjust="spacingAndGlyphs">0.1</text><text x="62.5" y="359" font-size="7" fill="#444" stroke="#444" stroke-width="0.2" textLength="2" lengthAdjust="spacingAndGlyphs">1</text><text x="69.4" y="359" font-size="7" fill="#444" stroke="#444" stroke-width="0.2" textLength="6.4" lengthAdjust="spacingAndGlyphs">10</text><text x="81.5" y="359" font-size="7" fill="#444" stroke="#444" stroke-width="0.2" textLength="6.9" lengthAdjust="spacingAndGlyphs">EC</text><text x="76.7" y="358.4" font-size="5" fill="#666" stroke="#666" stroke-width="0.2" textLength="2" lengthAdjust="spacingAndGlyphs">×</text><text x="88.7" y="360.2" font-size="4" fill="#666" stroke="#666" stroke-width="0.2" textLength="3.8" lengthAdjust="spacingAndGlyphs">50</text><text x="123.7" y="356.3" font-size="11.3" fill="#222" stroke="#222" stroke-width="0.2" textLength="37.5" lengthAdjust="spacingAndGlyphs">Synergy</text><rect x="183.7" y="351.3" width="42" height="7.5" fill="url(#bwrbar)" stroke="#333" stroke-width="0.5"/><text x="177.9" y="345.5" font-size="7" fill="#222" stroke="#222" stroke-width="0.2" textLength="5.1" lengthAdjust="spacingAndGlyphs">-1</text><text x="203.3" y="345.5" font-size="7" fill="#222" stroke="#222" stroke-width="0.2" textLength="3.4" lengthAdjust="spacingAndGlyphs">0</text><text x="220.6" y="345.5" font-size="7" fill="#222" stroke="#222" stroke-width="0.2" textLength="7.4" lengthAdjust="spacingAndGlyphs">+1</text><text x="72.5" y="372.3" font-size="9.2" fill="#222" stroke="#222" stroke-width="0.2" textLength="47.5" lengthAdjust="spacingAndGlyphs">Experimental</text><text x="166.9" y="372.5" font-size="9.2" fill="#222" stroke="#222" stroke-width="0.2" textLength="39" lengthAdjust="spacingAndGlyphs">Simulated</text><rect x="1.6" y="376.3" width="14.57" height="36.13" fill="#00008c"/><rect x="1.6" y="411.43" width="14.57" height="24.42" fill="#86d8f0"/><rect x="1.6" y="434.85" width="14.57" height="24.42" fill="#f8cc28"/><rect x="1.6" y="458.27" width="14.57" height="24.42" fill="#860000"/><rect x="1.6" y="481.69" width="14.57" height="59.55" fill="#00008c"/><rect x="1.6" y="540.23" width="14.57" height="28.32" fill="#86d8f0"/><rect x="1.6" y="567.56" width="14.57" height="28.32" fill="#f8cc28"/><rect x="1.6" y="594.88" width="14.57" height="27.32" fill="#860000"/><rect x="15.17" y="376.3" width="14.58" height="12.71" fill="#86d8f0"/><rect x="15.17" y="388.01" width="14.58" height="12.71" fill="#f8cc28"/><rect x="15.17" y="399.72" width="14.58" height="12.71" fill="#860000"/><rect x="15.17" y="411.43" width="14.58" height="12.71" fill="#00008c"/><rect x="15.17" y="423.14" width="14.58" height="4.9" fill="#86d8f0"/><rect x="15.17" y="427.04" width="14.58" height="4.9" fill="#f8cc28"/><rect x="15.17" y="430.94" width="14.58" height="4.9" fill="#860000"/><rect x="15.17" y="434.85" width="14.58" height="12.71" fill="#00008c"/><rect x="15.17" y="446.56" width="14.58" height="4.9" fill="#86d8f0"/><rect x="15.17" y="450.46" width="14.58" height="4.9" fill="#f8cc28"/><rect x="15.17" y="454.36" width="14.58" height="4.9" fill="#860000"/><rect x="15.17" y="458.27" width="14.58" height="12.71" fill="#00008c"/><rect x="15.17" y="469.98" width="14.58" height="4.9" fill="#86d8f0"/><rect x="15.17" y="473.88" width="14.58" height="4.9" fill="#f8cc28"/><rect x="15.17" y="477.78" width="14.58" height="4.9" fill="#860000"/><rect x="15.17" y="481.69" width="14.58" height="12.71" fill="#00008c"/><rect x="15.17" y="493.4" width="14.58" height="16.61" fill="#86d8f0"/><rect x="15.17" y="509.01" width="14.58" height="16.61" fill="#f8cc28"/><rect x="15.17" y="524.62" width="14.58" height="16.61" fill="#860000"/><rect x="15.17" y="540.23" width="14.58" height="16.61" fill="#00008c"/><rect x="15.17" y="555.85" width="14.58" height="4.9" fill="#86d8f0"/><rect x="15.17" y="559.75" width="14.58" height="4.9" fill="#f8cc28"/><rect x="15.17" y="563.65" width="14.58" height="4.9" fill="#860000"/><rect x="15.17" y="567.56" width="14.58" height="16.61" fill="#00008c"/><rect x="15.17" y="583.17" width="14.58" height="4.9" fill="#86d8f0"/><rect x="15.17" y="587.07" width="14.58" height="4.9" fill="#f8cc28"/><rect x="15.17" y="590.97" width="14.58" height="4.9" fill="#860000"/><rect x="15.17" y="594.88" width="14.58" height="16.61" fill="#00008c"/><rect x="15.17" y="610.49" width="14.58" height="4.9" fill="#86d8f0"/><rect x="15.17" y="614.39" width="14.58" height="4.9" fill="#f8cc28"/><rect x="15.17" y="618.3" width="14.58" height="3.9" fill="#860000"/><rect x="28.75" y="376.3" width="14.57" height="4.9" fill="#86d8f0"/><rect x="28.75" y="380.2" width="14.57" height="4.9" fill="#f8cc28"/><rect x="28.75" y="384.11" width="14.57" height="4.9" fill="#860000"/><rect x="28.75" y="388.01" width="14.57" height="4.9" fill="#86d8f0"/><rect x="28.75" y="391.91" width="14.57" height="4.9" fill="#f8cc28"/><rect x="28.75" y="395.82" width="14.57" height="4.9" fill="#860000"/><rect x="28.75" y="399.72" width="14.57" height="4.9" fill="#86d8f0"/><rect x="28.75" y="403.62" width="14.57" height="4.9" fill="#f8cc28"/><rect x="28.75" y="407.53" width="14.57" height="4.9" fill="#860000"/><rect x="28.75" y="411.43" width="14.57" height="4.9" fill="#86d8f0"/><rect x="28.75" y="415.33" width="14.57" height="4.9" fill="#f8cc28"/><rect x="28.75" y="419.23" width="14.57" height="4.9" fill="#860000"/><rect x="28.75" y="423.14" width="14.57" height="12.71" fill="#00008c"/><rect x="28.75" y="434.85" width="14.57" height="4.9" fill="#86d8f0"/><rect x="28.75" y="438.75" width="14.57" height="4.9" fill="#f8cc28"/><rect x="28.75" y="442.65" width="14.57" height="4.9" fill="#860000"/><rect x="28.75" y="446.56" width="14.57" height="12.71" fill="#00008c"/><rect x="28.75" y="458.27" width="14.57" height="4.9" fill="#86d8f0"/><rect x="28.75" y="462.17" width="14.57" height="4.9" fill="#f8cc28"/><rect x="28.75" y="466.07" width="14.57" height="4.9" fill="#860000"/><rect x="28.75" y="469.98" width="14.57" height="12.71" fill="#00008c"/><rect x="28.75" y="481.69" width="14.57" height="4.9" fill="#86d8f0"/><rect x="28.75" y="485.59" width="14.57" height="4.9" fill="#f8cc28"/><rect x="28.75" y="489.49" width="14.57" height="4.9" fill="#860000"/><rect x="28.75" y="493.4" width="14.57" height="4.9" fill="#00008c"/><rect x="28.75" y="497.3" width="14.57" height="4.9" fill="#86d8f0"/><rect x="28.75" y="501.2" width="14.57" height="4.9" fill="#f8cc28"/><rect x="28.75" y="505.1" width="14.57" height="4.9" fill="#860000"/><rect x="28.75" y="509.01" width="14.57" height="4.9" fill="#00008c"/><rect x="28.75" y="512.91" width="14.57" height="4.9" fill="#86d8f0"/><rect x="28.75" y="516.81" width="14.57" height="4.9" fill="#f8cc28"/><rect x="28.75" y="520.72" width="14.57" height="4.9" fill="#860000"/><rect x="28.75" y="524.62" width="14.57" height="4.9" fill="#00008c"/><rect x="28.75" y="528.52" width="14.57" height="4.9" fill="#86d8f0"/><rect x="28.75" y="532.43" width="14.57" height="4.9" fill="#f8cc28"/><rect x="28.75" y="536.33" width="14.57" height="4.9" fill="#860000"/><rect x="28.75" y="540.23" width="14.57" height="4.9" fill="#00008c"/><rect x="28.75" y="544.14" width="14.57" height="4.9" fill="#86d8f0"/><rect x="28.75" y="548.04" width="14.57" height="4.9" fill="#f8cc28"/><rect x="28.75" y="551.94" width="14.57" height="4.9" fill="#860000"/><rect x="28.75" y="555.85" width="14.57" height="16.61" fill="#00008c"/><rect x="28.75" y="571.46" width="14.57" height="4.9" fill="#86d8f0"/><rect x="28.75" y="575.36" width="14.57" height="4.9" fill="#f8cc28"/><rect x="28.75" y="579.27" width="14.57" height="4.9" fill="#860000"/><rect x="28.75" y="583.17" width="14.57" height="16.61" fill="#00008c"/><rect x="28.75" y="598.78" width="14.57" height="4.9" fill="#86d8f0"/><rect x="28.75" y="602.68" width="14.57" height="4.9" fill="#f8cc28"/><rect x="28.75" y="606.59" width="14.57" height="4.9" fill="#860000"/><rect x="28.75" y="610.49" width="14.57" height="11.71" fill="#00008c"/><rect x="42.32" y="376.3" width="13.58" height="106.39" fill="#00008c"/><rect x="42.32" y="481.69" width="13.58" height="140.51" fill="#860000"/><rect x="1.6" y="376.3" width="54.3" height="245.9" fill="none" stroke="#202040" stroke-width="0.5"/><rect x="60.6" y="376.3" width="28.27" height="4.9" fill="#e5e5fc"/><rect x="87.87" y="376.3" width="28.27" height="4.9" fill="#ffffff"/><rect x="115.13" y="376.3" width="27.27" height="4.9" fill="#bdbdf8"/><rect x="60.6" y="380.2" width="28.27" height="4.9" fill="#fef2f2"/><rect x="87.87" y="380.2" width="28.27" height="4.9" fill="#cacaf9"/><rect x="115.13" y="380.2" width="27.27" height="4.9" fill="#9696f4"/><rect x="60.6" y="384.09" width="28.27" height="4.9" fill="#fbd8d8"/><rect x="87.87" y="384.09" width="28.27" height="4.9" fill="#ffffff"/><rect x="115.13" y="384.09" width="27.27" height="4.9" fill="#f2f2fe"/><rect x="60.6" y="387.99" width="28.27" height="4.9" fill="#fdeaea"/><rect x="87.87" y="387.99" width="28.27" height="4.9" fill="#ffffff"/><rect x="115.13" y="387.99" width="27.27" height="4.9" fill="#ffffff"/><rect x="60.6" y="391.89" width="28.27" height="4.9" fill="#ffffff"/><rect x="87.87" y="391.89" width="28.27" height="4.9" fill="#ffffff"/><rect x="115.13" y="391.89" width="27.27" height="4.9" fill="#f2f2fe"/><rect x="60.6" y="395.78" width="28.27" height="4.9" fill="#e5e5fc"/><rect x="87.87" y="395.78" width="28.27" height="4.9" fill="#6262ee"/><rect x="115.13" y="395.78" width="27.27" height="4.9" fill="#ffffff"/><rect x="60.6" y="399.68" width="28.27" height="4.9" fill="#f6b0b0"/><rect x="87.87" y="399.68" width="28.27" height="4.9" fill="#f6b0b0"/><rect x="115.13" y="399.68" width="27.27" height="4.9" fill="#f8bdbd"/><rect x="60.6" y="403.58" width="28.27" height="4.9" fill="#f8bdbd"/><rect x="87.87" y="403.58" width="28.27" height="4.9" fill="#f5a3a3"/><rect x="115.13" y="403.58" width="27.27" height="4.9" fill="#5454ec"/><rect x="60.6" y="407.47" width="28.27" height="4.9" fill="#d8d8fb"/><rect x="87.87" y="407.47" width="28.27" height="4.9" fill="#6262ee"/><rect x="115.13" y="407.47" width="27.27" height="4.9" fill="#f9caca"/><rect x="60.6" y="411.37" width="28.27" height="4.9" fill="#ffffff"/><rect x="87.87" y="411.37" width="28.27" height="4.9" fill="#ffffff"/><rect x="115.13" y="411.37" width="27.27" height="4.9" fill="#e5e5fc"/><rect x="60.6" y="415.27" width="28.27" height="4.9" fill="#ffffff"/><rect x="87.87" y="415.27" width="28.27" height="4.9" fill="#fce5e5"/><rect x="115.13" y="415.27" width="27.27" height="4.9" fill="#fbd8d8"/><rect x="60.6" y="419.17" width="28.27" height="4.9" fill="#fef2f2"/><rect x="87.87" y="419.17" width="28.27" height="4.9" fill="#7c7cf1"/><rect x="115.13" y="419.17" width="27.27" height="4.9" fill="#d8d8fb"/><rect x="60.6" y="423.06" width="28.27" height="4.9" fill="#fce5e5"/><rect x="87.87" y="423.06" width="28.27" height="4.9" fill="#ffffff"/><rect x="115.13" y="423.06" width="27.27" height="4.9" fill="#f2f2fe"/><rect x="60.6" y="426.96" width="28.27" height="4.9" fill="#fce5e5"/><rect x="87.87" y="426.96" width="28.27" height="4.9" fill="#ffffff"/><rect x="115.13" y="426.96" width="27.27" height="4.9" fill="#ffffff"/><rect x="60.6" y="430.86" width="28.27" height="4.9" fill="#fce5e5"/><rect x="87.87" y="430.86" width="28.27" height="4.9" fill="#f9caca"/><rect x="115.13" y="430.86" width="27.27" height="4.9" fill="#ffffff"/><rect x="60.6" y="434.75" width="28.27" height="4.9" fill="#ffffff"/><rect x="87.87" y="434.75" width="28.27" height="4.9" fill="#e5e5fc"/><rect x="115.13" y="434.75" width="27.27" height="4.9" fill="#fef2f2"/><rect x="60.6" y="438.65" width="28.27" height="4.9" fill="#a3a3f5"/><rect x="87.87" y="438.65" width="28.27" height="4.9" fill="#ffffff"/><rect x="115.13" y="438.65" width="27.27" height="4.9" fill="#ffffff"/><rect x="60.6" y="442.55" width="28.27" height="4.9" fill="#b0b0f6"/><rect x="87.87" y="442.55" width="28.27" height="4.9" fill="#4747eb"/><rect x="115.13" y="442.55" width="27.27" height="4.9" fill="#a3a3f5"/><rect x="60.6" y="446.44" width="28.27" height="4.9" fill="#ffffff"/><rect x="87.87" y="446.44" width="28.27" height="4.9" fill="#ffffff"/><rect x="115.13" y="446.44" width="27.27" height="4.9" fill="#ffffff"/><rect x="60.6" y="450.34" width="28.27" height="4.9" fill="#ffffff"/><rect x="87.87" y="450.34" width="28.27" height="4.9" fill="#f9caca"/><rect x="115.13" y="450.34" width="27.27" height="4.9" fill="#f9caca"/><rect x="60.6" y="454.24" width="28.27" height="4.9" fill="#ffffff"/><rect x="87.87" y="454.24" width="28.27" height="4.9" fill="#fbd8d8"/><rect x="115.13" y="454.24" width="27.27" height="4.9" fill="#fbd8d8"/><rect x="60.6" y="458.13" width="28.27" height="4.9" fill="#ffffff"/><rect x="87.87" y="458.13" width="28.27" height="4.9" fill="#ffffff"/><rect x="115.13" y="458.13" width="27.27" height="4.9" fill="#ffffff"/><rect x="60.6" y="462.03" width="28.27" height="4.9" fill="#b0b0f6"/><rect x="87.87" y="462.03" width="28.27" height="4.9" fill="#f2f2fe"/><rect x="115.13" y="462.03" width="27.27" height="4.9" fill="#b0b0f6"/><rect x="60.6" y="465.93" width="28.27" height="4.9" fill="#a3a3f5"/><rect x="87.87" y="465.93" width="28.27" height="4.9" fill="#4747eb"/><rect x="115.13" y="465.93" width="27.27" height="4.9" fill="#3a3ae9"/><rect x="60.6" y="469.82" width="28.27" height="4.9" fill="#ffffff"/><rect x="87.87" y="469.82" width="28.27" height="4.9" fill="#fef2f2"/><rect x="115.13" y="469.82" width="27.27" height="4.9" fill="#f2f2fe"/><rect x="60.6" y="473.72" width="28.27" height="4.9" fill="#ffffff"/><rect x="87.87" y="473.72" width="28.27" height="4.9" fill="#f9caca"/><rect x="115.13" y="473.72" width="27.27" height="4.9" fill="#ffffff"/><rect x="60.6" y="477.62" width="28.27" height="4.9" fill="#cacaf9"/><rect x="87.87" y="477.62" width="28.27" height="4.9" fill="#ffffff"/><rect x="115.13" y="477.62" width="27.27" height="4.9" fill="#e5e5fc"/><rect x="60.6" y="481.51" width="28.27" height="4.9" fill="#0000b4"/><rect x="87.87" y="481.51" width="28.27" height="4.9" fill="#0000b4"/><rect x="115.13" y="481.51" width="27.27" height="4.9" fill="#0000b4"/><rect x="60.6" y="485.41" width="28.27" height="4.9" fill="#7c7cf1"/><rect x="87.87" y="485.41" width="28.27" height="4.9" fill="#7c7cf1"/><rect x="115.13" y="485.41" width="27.27" height="4.9" fill="#8989f2"/><rect x="60.6" y="489.31" width="28.27" height="4.9" fill="#f2f2fe"/><rect x="87.87" y="489.31" width="28.27" height="4.9" fill="#d8d8fb"/><rect x="115.13" y="489.31" width="27.27" height="4.9" fill="#d8d8fb"/><rect x="60.6" y="493.2" width="28.27" height="4.9" fill="#ffffff"/><rect x="87.87" y="493.2" width="28.27" height="4.9" fill="#d8d8fb"/><rect x="115.13" y="493.2" width="27.27" height="4.9" fill="#e5e5fc"/><rect x="60.6" y="497.1" width="28.27" height="4.9" fill="#b0b0f6"/><rect x="87.87" y="497.1" width="28.27" height="4.9" fill="#b0b0f6"/><rect x="115.13" y="497.1" width="27.27" height="4.9" fill="#b0b0f6"/><rect x="60.6" y="501" width="28.27" height="4.9" fill="#0000b4"/><rect x="87.87" y="501" width="28.27" height="4.9" fill="#0000b4"/><rect x="115.13" y="501" width="27.27" height="4.9" fill="#0000b4"/><rect x="60.6" y="504.9" width="28.27" height="4.9" fill="#7c7cf1"/><rect x="87.87" y="504.9" width="28.27" height="4.9" fill="#1717ce"/><rect x="115.13" y="504.9" width="27.27" height="4.9" fill="#6262ee"/><rect x="60.6" y="508.79" width="28.27" height="4.9" fill="#a3a3f5"/><rect x="87.87" y="508.79" width="28.27" height="4.9" fill="#b0b0f6"/><rect x="115.13" y="508.79" width="27.27" height="4.9" fill="#e5e5fc"/><rect x="60.6" y="512.69" width="28.27" height="4.9" fill="#a3a3f5"/><rect x="87.87" y="512.69" width="28.27" height="4.9" fill="#b0b0f6"/><rect x="115.13" y="512.69" width="27.27" height="4.9" fill="#f2f2fe"/><rect x="60.6" y="516.59" width="28.27" height="4.9" fill="#1717ce"/><rect x="87.87" y="516.59" width="28.27" height="4.9" fill="#0b0bc1"/><rect x="115.13" y="516.59" width="27.27" height="4.9" fill="#1717ce"/><rect x="60.6" y="520.48" width="28.27" height="4.9" fill="#6f6fef"/><rect x="87.87" y="520.48" width="28.27" height="4.9" fill="#2d2de8"/><rect x="115.13" y="520.48" width="27.27" height="4.9" fill="#8989f2"/><rect x="60.6" y="524.38" width="28.27" height="4.9" fill="#b0b0f6"/><rect x="87.87" y="524.38" width="28.27" height="4.9" fill="#bdbdf8"/><rect x="115.13" y="524.38" width="27.27" height="4.9" fill="#fafafe"/><rect x="60.6" y="528.28" width="28.27" height="4.9" fill="#b0b0f6"/><rect x="87.87" y="528.28" width="28.27" height="4.9" fill="#b0b0f6"/><rect x="115.13" y="528.28" width="27.27" height="4.9" fill="#f2f2fe"/><rect x="60.6" y="532.17" width="28.27" height="4.9" fill="#2222db"/><rect x="87.87" y="532.17" width="28.27" height="4.9" fill="#2222db"/><rect x="115.13" y="532.17" width="27.27" height="4.9" fill="#4747eb"/><rect x="60.6" y="536.07" width="28.27" height="4.9" fill="#2222db"/><rect x="87.87" y="536.07" width="28.27" height="4.9" fill="#0000b4"/><rect x="115.13" y="536.07" width="27.27" height="4.9" fill="#5454ec"/><rect x="60.6" y="539.97" width="28.27" height="4.9" fill="#cacaf9"/><rect x="87.87" y="539.97" width="28.27" height="4.9" fill="#d8d8fb"/><rect x="115.13" y="539.97" width="27.27" height="4.9" fill="#e5e5fc"/><rect x="60.6" y="543.86" width="28.27" height="4.9" fill="#b0b0f6"/><rect x="87.87" y="543.86" width="28.27" height="4.9" fill="#cacaf9"/><rect x="115.13" y="543.86" width="27.27" height="4.9" fill="#cacaf9"/><rect x="60.6" y="547.76" width="28.27" height="4.9" fill="#0000b4"/><rect x="87.87" y="547.76" width="28.27" height="4.9" fill="#0000b4"/><rect x="115.13" y="547.76" width="27.27" height="4.9" fill="#1717ce"/><rect x="60.6" y="551.66" width="28.27" height="4.9" fill="#4747eb"/><rect x="87.87" y="551.66" width="28.27" height="4.9" fill="#2d2de8"/><rect x="115.13" y="551.66" width="27.27" height="4.9" fill="#9696f4"/><rect x="60.6" y="555.55" width="28.27" height="4.9" fill="#f2f2fe"/><rect x="87.87" y="555.55" width="28.27" height="4.9" fill="#d8d8fb"/><rect x="115.13" y="555.55" width="27.27" height="4.9" fill="#ffffff"/><rect x="60.6" y="559.45" width="28.27" height="4.9" fill="#cacaf9"/><rect x="87.87" y="559.45" width="28.27" height="4.9" fill="#d8d8fb"/><rect x="115.13" y="559.45" width="27.27" height="4.9" fill="#f2f2fe"/><rect x="60.6" y="563.35" width="28.27" height="4.9" fill="#b0b0f6"/><rect x="87.87" y="563.35" width="28.27" height="4.9" fill="#bdbdf8"/><rect x="115.13" y="563.35" width="27.27" height="4.9" fill="#e5e5fc"/><rect x="60.6" y="567.24" width="28.27" height="4.9" fill="#a3a3f5"/><rect x="87.87" y="567.24" width="28.27" height="4.9" fill="#a3a3f5"/><rect x="115.13" y="567.24" width="27.27" height="4.9" fill="#e5e5fc"/><rect x="60.6" y="571.14" width="28.27" height="4.9" fill="#9696f4"/><rect x="87.87" y="571.14" width="28.27" height="4.9" fill="#9696f4"/><rect x="115.13" y="571.14" width="27.27" height="4.9" fill="#a3a3f5"/><rect x="60.6" y="575.04" width="28.27" height="4.9" fill="#0000b4"/><rect x="87.87" y="575.04" width="28.27" height="4.9" fill="#0000b4"/><rect x="115.13" y="575.04" width="27.27" height="4.9" fill="#0b0bc1"/><rect x="60.6" y="578.93" width="28.27" height="4.9" fill="#3a3ae9"/><rect x="87.87" y="578.93" width="28.27" height="4.9" fill="#2222db"/><rect x="115.13" y="578.93" width="27.27" height="4.9" fill="#7c7cf1"/><rect x="60.6" y="582.83" width="28.27" height="4.9" fill="#bdbdf8"/><rect x="87.87" y="582.83" width="28.27" height="4.9" fill="#b0b0f6"/><rect x="115.13" y="582.83" width="27.27" height="4.9" fill="#e5e5fc"/><rect x="60.6" y="586.73" width="28.27" height="4.9" fill="#9696f4"/><rect x="87.87" y="586.73" width="28.27" height="4.9" fill="#b0b0f6"/><rect x="115.13" y="586.73" width="27.27" height="4.9" fill="#f2f2fe"/><rect x="60.6" y="590.63" width="28.27" height="4.9" fill="#8989f2"/><rect x="87.87" y="590.63" width="28.27" height="4.9" fill="#b0b0f6"/><rect x="115.13" y="590.63" width="27.27" height="4.9" fill="#ffffff"/><rect x="60.6" y="594.52" width="28.27" height="4.9" fill="#bdbdf8"/><rect x="87.87" y="594.52" width="28.27" height="4.9" fill="#bdbdf8"/><rect x="115.13" y="594.52" width="27.27" height="4.9" fill="#cacaf9"/><rect x="60.6" y="598.42" width="28.27" height="4.9" fill="#9696f4"/><rect x="87.87" y="598.42" width="28.27" height="4.9" fill="#a3a3f5"/><rect x="115.13" y="598.42" width="27.27" height="4.9" fill="#9696f4"/><rect x="60.6" y="602.32" width="28.27" height="4.9" fill="#0000b4"/><rect x="87.87" y="602.32" width="28.27" height="4.9" fill="#2222db"/><rect x="115.13" y="602.32" width="27.27" height="4.9" fill="#1717ce"/><rect x="60.6" y="606.21" width="28.27" height="4.9" fill="#4747eb"/><rect x="87.87" y="606.21" width="28.27" height="4.9" fill="#2d2de8"/><rect x="115.13" y="606.21" width="27.27" height="4.9" fill="#2d2de8"/><rect x="60.6" y="610.11" width="28.27" height="4.9" fill="#8989f2"/><rect x="87.87" y="610.11" width="28.27" height="4.9" fill="#bdbdf8"/><rect x="115.13" y="610.11" width="27.27" height="4.9" fill="#bdbdf8"/><rect x="60.6" y="614.01" width="28.27" height="4.9" fill="#7c7cf1"/><rect x="87.87" y="614.01" width="28.27" height="4.9" fill="#bdbdf8"/><rect x="115.13" y="614.01" width="27.27" height="4.9" fill="#bdbdf8"/><rect x="60.6" y="617.9" width="28.27" height="3.9" fill="#7c7cf1"/><rect x="87.87" y="617.9" width="28.27" height="3.9" fill="#b0b0f6"/><rect x="115.13" y="617.9" width="27.27" height="3.9" fill="#b0b0f6"/><rect x="60.6" y="376.3" width="81.8" height="245.5" fill="none" stroke="#555" stroke-width="0.8"/><line x1="74.23" y1="376.3" x2="74.23" y2="377.8" stroke="#555" stroke-width="0.6"/><line x1="74.23" y1="621.8" x2="74.23" y2="620.3" stroke="#555" stroke-width="0.6"/><line x1="101.5" y1="376.3" x2="101.5" y2="377.8" stroke="#555" stroke-width="0.6"/><line x1="101.5" y1="621.8" x2="101.5" y2="620.3" stroke="#555" stroke-width="0.6"/><line x1="128.77" y1="376.3" x2="128.77" y2="377.8" stroke="#555" stroke-width="0.6"/><line x1="128.77" y1="621.8" x2="128.77" y2="620.3" stroke="#555" stroke-width="0.6"/><line x1="60.6" y1="413.32" x2="62.1" y2="413.32" stroke="#555" stroke-width="0.6"/><line x1="142.4" y1="413.32" x2="140.9" y2="413.32" stroke="#555" stroke-width="0.6"/><line x1="60.6" y1="452.29" x2="62.1" y2="452.29" stroke="#555" stroke-width="0.6"/><line x1="142.4" y1="452.29" x2="140.9" y2="452.29" stroke="#555" stroke-width="0.6"/><line x1="60.6" y1="491.26" x2="62.1" y2="491.26" stroke="#555" stroke-width="0.6"/><line x1="142.4" y1="491.26" x2="140.9" y2="491.26" stroke="#555" stroke-width="0.6"/><line x1="60.6" y1="530.22" x2="62.1" y2="530.22" stroke="#555" stroke-width="0.6"/><line x1="142.4" y1="530.22" x2="140.9" y2="530.22" stroke="#555" stroke-width="0.6"/><line x1="60.6" y1="569.19" x2="62.1" y2="569.19" stroke="#555" stroke-width="0.6"/><line x1="142.4" y1="569.19" x2="140.9" y2="569.19" stroke="#555" stroke-width="0.6"/><line x1="60.6" y1="608.16" x2="62.1" y2="608.16" stroke="#555" stroke-width="0.6"/><line x1="142.4" y1="608.16" x2="140.9" y2="608.16" stroke="#555" stroke-width="0.6"/><rect x="147.1" y="376.3" width="28.2" height="4.9" fill="#f2f2fe"/><rect x="174.3" y="376.3" width="28.2" height="4.9" fill="#f7f7fe"/><rect x="201.5" y="376.3" width="27.2" height="4.9" fill="#f2f2fe"/><rect x="147.1" y="380.2" width="28.2" height="4.9" fill="#f2f2fe"/><rect x="174.3" y="380.2" width="28.2" height="4.9" fill="#ffffff"/><rect x="201.5" y="380.2" width="27.2" height="4.9" fill="#f2f2fe"/><rect x="147.1" y="384.09" width="28.2" height="4.9" fill="#f9caca"/><rect x="174.3" y="384.09" width="28.2" height="4.9" fill="#ffffff"/><rect x="201.5" y="384.09" width="27.2" height="4.9" fill="#ffffff"/><rect x="147.1" y="387.99" width="28.2" height="4.9" fill="#f9caca"/><rect x="174.3" y="387.99" width="28.2" height="4.9" fill="#fef7f7"/><rect x="201.5" y="387.99" width="27.2" height="4.9" fill="#bdbdf8"/><rect x="147.1" y="391.89" width="28.2" height="4.9" fill="#ffffff"/><rect x="174.3" y="391.89" width="28.2" height="4.9" fill="#ffffff"/><rect x="201.5" y="391.89" width="27.2" height="4.9" fill="#e5e5fc"/><rect x="147.1" y="395.78" width="28.2" height="4.9" fill="#ffffff"/><rect x="174.3" y="395.78" width="28.2" height="4.9" fill="#b0b0f6"/><rect x="201.5" y="395.78" width="27.2" height="4.9" fill="#f7f7fe"/><rect x="147.1" y="399.68" width="28.2" height="4.9" fill="#f9caca"/><rect x="174.3" y="399.68" width="28.2" height="4.9" fill="#fbd8d8"/><rect x="201.5" y="399.68" width="27.2" height="4.9" fill="#ffffff"/><rect x="147.1" y="403.58" width="28.2" height="4.9" fill="#fbd8d8"/><rect x="174.3" y="403.58" width="28.2" height="4.9" fill="#fef2f2"/><rect x="201.5" y="403.58" width="27.2" height="4.9" fill="#3a3ae9"/><rect x="147.1" y="407.47" width="28.2" height="4.9" fill="#bdbdf8"/><rect x="174.3" y="407.47" width="28.2" height="4.9" fill="#8989f2"/><rect x="201.5" y="407.47" width="27.2" height="4.9" fill="#f2f2fe"/><rect x="147.1" y="411.37" width="28.2" height="4.9" fill="#f2f2fe"/><rect x="174.3" y="411.37" width="28.2" height="4.9" fill="#ffffff"/><rect x="201.5" y="411.37" width="27.2" height="4.9" fill="#f2f2fe"/><rect x="147.1" y="415.27" width="28.2" height="4.9" fill="#e5e5fc"/><rect x="174.3" y="415.27" width="28.2" height="4.9" fill="#ffffff"/><rect x="201.5" y="415.27" width="27.2" height="4.9" fill="#fdeaea"/><rect x="147.1" y="419.17" width="28.2" height="4.9" fill="#e5e5fc"/><rect x="174.3" y="419.17" width="28.2" height="4.9" fill="#ffffff"/><rect x="201.5" y="419.17" width="27.2" height="4.9" fill="#cacaf9"/><rect x="147.1" y="423.06" width="28.2" height="4.9" fill="#f7f7fe"/><rect x="174.3" y="423.06" width="28.2" height="4.9" fill="#ffffff"/><rect x="201.5" y="423.06" width="27.2" height="4.9" fill="#f2f2fe"/><rect x="147.1" y="426.96" width="28.2" height="4.9" fill="#fef2f2"/><rect x="174.3" y="426.96" width="28.2" height="4.9" fill="#fbd8d8"/><rect x="201.5" y="426.96" width="27.2" height="4.9" fill="#ffffff"/><rect x="147.1" y="430.86" width="28.2" height="4.9" fill="#ffffff"/><rect x="174.3" y="430.86" width="28.2" height="4.9" fill="#fbd8d8"/><rect x="201.5" y="430.86" width="27.2" height="4.9" fill="#ffffff"/><rect x="147.1" y="434.75" width="28.2" height="4.9" fill="#ffffff"/><rect x="174.3" y="434.75" width="28.2" height="4.9" fill="#ffffff"/><rect x="201.5" y="434.75" width="27.2" height="4.9" fill="#ffffff"/><rect x="147.1" y="438.65" width="28.2" height="4.9" fill="#cacaf9"/><rect x="174.3" y="438.65" width="28.2" height="4.9" fill="#ffffff"/><rect x="201.5" y="438.65" width="27.2" height="4.9" fill="#ffffff"/><rect x="147.1" y="442.55" width="28.2" height="4.9" fill="#9696f4"/><rect x="174.3" y="442.55" width="28.2" height="4.9" fill="#9696f4"/><rect x="201.5" y="442.55" width="27.2" height="4.9" fill="#9696f4"/><rect x="147.1" y="446.44" width="28.2" height="4.9" fill="#ffffff"/><rect x="174.3" y="446.44" width="28.2" height="4.9" fill="#ffffff"/><rect x="201.5" y="446.44" width="27.2" height="4.9" fill="#ffffff"/><rect x="147.1" y="450.34" width="28.2" height="4.9" fill="#ffffff"/><rect x="174.3" y="450.34" width="28.2" height="4.9" fill="#f9caca"/><rect x="201.5" y="450.34" width="27.2" height="4.9" fill="#fef2f2"/><rect x="147.1" y="454.24" width="28.2" height="4.9" fill="#ffffff"/><rect x="174.3" y="454.24" width="28.2" height="4.9" fill="#f9caca"/><rect x="201.5" y="454.24" width="27.2" height="4.9" fill="#fce5e5"/><rect x="147.1" y="458.13" width="28.2" height="4.9" fill="#ffffff"/><rect x="174.3" y="458.13" width="28.2" height="4.9" fill="#fafafe"/><rect x="201.5" y="458.13" width="27.2" height="4.9" fill="#ffffff"/><rect x="147.1" y="462.03" width="28.2" height="4.9" fill="#cacaf9"/><rect x="174.3" y="462.03" width="28.2" height="4.9" fill="#e5e5fc"/><rect x="201.5" y="462.03" width="27.2" height="4.9" fill="#e5e5fc"/><rect x="147.1" y="465.93" width="28.2" height="4.9" fill="#8989f2"/><rect x="174.3" y="465.93" width="28.2" height="4.9" fill="#6f6fef"/><rect x="201.5" y="465.93" width="27.2" height="4.9" fill="#9696f4"/><rect x="147.1" y="469.82" width="28.2" height="4.9" fill="#ffffff"/><rect x="174.3" y="469.82" width="28.2" height="4.9" fill="#fdeaea"/><rect x="201.5" y="469.82" width="27.2" height="4.9" fill="#fdeaea"/><rect x="147.1" y="473.72" width="28.2" height="4.9" fill="#f2f2fe"/><rect x="174.3" y="473.72" width="28.2" height="4.9" fill="#fef2f2"/><rect x="201.5" y="473.72" width="27.2" height="4.9" fill="#fce5e5"/><rect x="147.1" y="477.62" width="28.2" height="4.9" fill="#cacaf9"/><rect x="174.3" y="477.62" width="28.2" height="4.9" fill="#ffffff"/><rect x="201.5" y="477.62" width="27.2" height="4.9" fill="#ffffff"/><rect x="147.1" y="481.51" width="28.2" height="4.9" fill="#0000b4"/><rect x="174.3" y="481.51" width="28.2" height="4.9" fill="#0000b4"/><rect x="201.5" y="481.51" width="27.2" height="4.9" fill="#0000b4"/><rect x="147.1" y="485.41" width="28.2" height="4.9" fill="#7c7cf1"/><rect x="174.3" y="485.41" width="28.2" height="4.9" fill="#7c7cf1"/><rect x="201.5" y="485.41" width="27.2" height="4.9" fill="#7c7cf1"/><rect x="147.1" y="489.31" width="28.2" height="4.9" fill="#e5e5fc"/><rect x="174.3" y="489.31" width="28.2" height="4.9" fill="#ffffff"/><rect x="201.5" y="489.31" width="27.2" height="4.9" fill="#f2f2fe"/><rect x="147.1" y="493.2" width="28.2" height="4.9" fill="#d8d8fb"/><rect x="174.3" y="493.2" width="28.2" height="4.9" fill="#f2f2fe"/><rect x="201.5" y="493.2" width="27.2" height="4.9" fill="#f2f2fe"/><rect x="147.1" y="497.1" width="28.2" height="4.9" fill="#b0b0f6"/><rect x="174.3" y="497.1" width="28.2" height="4.9" fill="#cacaf9"/><rect x="201.5" y="497.1" width="27.2" height="4.9" fill="#cacaf9"/><rect x="147.1" y="501" width="28.2" height="4.9" fill="#0000b4"/><rect x="174.3" y="501" width="28.2" height="4.9" fill="#0000b4"/><rect x="201.5" y="501" width="27.2" height="4.9" fill="#0000b4"/><rect x="147.1" y="504.9" width="28.2" height="4.9" fill="#7c7cf1"/><rect x="174.3" y="504.9" width="28.2" height="4.9" fill="#6f6fef"/><rect x="201.5" y="504.9" width="27.2" height="4.9" fill="#a3a3f5"/><rect x="147.1" y="508.79" width="28.2" height="4.9" fill="#d8d8fb"/><rect x="174.3" y="508.79" width="28.2" height="4.9" fill="#e5e5fc"/><rect x="201.5" y="508.79" width="27.2" height="4.9" fill="#e5e5fc"/><rect x="147.1" y="512.69" width="28.2" height="4.9" fill="#b0b0f6"/><rect x="174.3" y="512.69" width="28.2" height="4.9" fill="#e5e5fc"/><rect x="201.5" y="512.69" width="27.2" height="4.9" fill="#e5e5fc"/><rect x="147.1" y="516.59" width="28.2" height="4.9" fill="#0b0bc1"/><rect x="174.3" y="516.59" width="28.2" height="4.9" fill="#0b0bc1"/><rect x="201.5" y="516.59" width="27.2" height="4.9" fill="#0b0bc1"/><rect x="147.1" y="520.48" width="28.2" height="4.9" fill="#7c7cf1"/><rect x="174.3" y="520.48" width="28.2" height="4.9" fill="#4747eb"/><rect x="201.5" y="520.48" width="27.2" height="4.9" fill="#9696f4"/><rect x="147.1" y="524.38" width="28.2" height="4.9" fill="#b0b0f6"/><rect x="174.3" y="524.38" width="28.2" height="4.9" fill="#cacaf9"/><rect x="201.5" y="524.38" width="27.2" height="4.9" fill="#f2f2fe"/><rect x="147.1" y="528.28" width="28.2" height="4.9" fill="#a3a3f5"/><rect x="174.3" y="528.28" width="28.2" height="4.9" fill="#b0b0f6"/><rect x="201.5" y="528.28" width="27.2" height="4.9" fill="#e5e5fc"/><rect x="147.1" y="532.17" width="28.2" height="4.9" fill="#2222db"/><rect x="174.3" y="532.17" width="28.2" height="4.9" fill="#1717ce"/><rect x="201.5" y="532.17" width="27.2" height="4.9" fill="#6262ee"/><rect x="147.1" y="536.07" width="28.2" height="4.9" fill="#2222db"/><rect x="174.3" y="536.07" width="28.2" height="4.9" fill="#2222db"/><rect x="201.5" y="536.07" width="27.2" height="4.9" fill="#6f6fef"/><rect x="147.1" y="539.97" width="28.2" height="4.9" fill="#e5e5fc"/><rect x="174.3" y="539.97" width="28.2" height="4.9" fill="#ffffff"/><rect x="201.5" y="539.97" width="27.2" height="4.9" fill="#f2f2fe"/><rect x="147.1" y="543.86" width="28.2" height="4.9" fill="#bdbdf8"/><rect x="174.3" y="543.86" width="28.2" height="4.9" fill="#f2f2fe"/><rect x="201.5" y="543.86" width="27.2" height="4.9" fill="#e5e5fc"/><rect x="147.1" y="547.76" width="28.2" height="4.9" fill="#0000b4"/><rect x="174.3" y="547.76" width="28.2" height="4.9" fill="#0000b4"/><rect x="201.5" y="547.76" width="27.2" height="4.9" fill="#1717ce"/><rect x="147.1" y="551.66" width="28.2" height="4.9" fill="#6262ee"/><rect x="174.3" y="551.66" width="28.2" height="4.9" fill="#6262ee"/><rect x="201.5" y="551.66" width="27.2" height="4.9" fill="#9696f4"/><rect x="147.1" y="555.55" width="28.2" height="4.9" fill="#d8d8fb"/><rect x="174.3" y="555.55" width="28.2" height="4.9" fill="#f2f2fe"/><rect x="201.5" y="555.55" width="27.2" height="4.9" fill="#e5e5fc"/><rect x="147.1" y="559.45" width="28.2" height="4.9" fill="#bdbdf8"/><rect x="174.3" y="559.45" width="28.2" height="4.9" fill="#e5e5fc"/><rect x="201.5" y="559.45" width="27.2" height="4.9" fill="#d8d8fb"/><rect x="147.1" y="563.35" width="28.2" height="4.9" fill="#a3a3f5"/><rect x="174.3" y="563.35" width="28.2" height="4.9" fill="#cacaf9"/><rect x="201.5" y="563.35" width="27.2" height="4.9" fill="#e5e5fc"/><rect x="147.1" y="567.24" width="28.2" height="4.9" fill="#b0b0f6"/><rect x="174.3" y="567.24" width="28.2" height="4.9" fill="#e5e5fc"/><rect x="201.5" y="567.24" width="27.2" height="4.9" fill="#e5e5fc"/><rect x="147.1" y="571.14" width="28.2" height="4.9" fill="#b0b0f6"/><rect x="174.3" y="571.14" width="28.2" height="4.9" fill="#d8d8fb"/><rect x="201.5" y="571.14" width="27.2" height="4.9" fill="#d8d8fb"/><rect x="147.1" y="575.04" width="28.2" height="4.9" fill="#0000b4"/><rect x="174.3" y="575.04" width="28.2" height="4.9" fill="#0000b4"/><rect x="201.5" y="575.04" width="27.2" height="4.9" fill="#0b0bc1"/><rect x="147.1" y="578.93" width="28.2" height="4.9" fill="#3a3ae9"/><rect x="174.3" y="578.93" width="28.2" height="4.9" fill="#3a3ae9"/><rect x="201.5" y="578.93" width="27.2" height="4.9" fill="#7c7cf1"/><rect x="147.1" y="582.83" width="28.2" height="4.9" fill="#cacaf9"/><rect x="174.3" y="582.83" width="28.2" height="4.9" fill="#f2f2fe"/><rect x="201.5" y="582.83" width="27.2" height="4.9" fill="#e5e5fc"/><rect x="147.1" y="586.73" width="28.2" height="4.9" fill="#bdbdf8"/><rect x="174.3" y="586.73" width="28.2" height="4.9" fill="#f2f2fe"/><rect x="201.5" y="586.73" width="27.2" height="4.9" fill="#e5e5fc"/><rect x="147.1" y="590.63" width="28.2" height="4.9" fill="#a3a3f5"/><rect x="174.3" y="590.63" width="28.2" height="4.9" fill="#f2f2fe"/><rect x="201.5" y="590.63" width="27.2" height="4.9" fill="#e5e5fc"/><rect x="147.1" y="594.52" width="28.2" height="4.9" fill="#b0b0f6"/><rect x="174.3" y="594.52" width="28.2" height="4.9" fill="#cacaf9"/><rect x="201.5" y="594.52" width="27.2" height="4.9" fill="#e5e5fc"/><rect x="147.1" y="598.42" width="28.2" height="4.9" fill="#b0b0f6"/><rect x="174.3" y="598.42" width="28.2" height="4.9" fill="#cacaf9"/><rect x="201.5" y="598.42" width="27.2" height="4.9" fill="#d8d8fb"/><rect x="147.1" y="602.32" width="28.2" height="4.9" fill="#0000b4"/><rect x="174.3" y="602.32" width="28.2" height="4.9" fill="#0000b4"/><rect x="201.5" y="602.32" width="27.2" height="4.9" fill="#0b0bc1"/><rect x="147.1" y="606.21" width="28.2" height="4.9" fill="#2d2de8"/><rect x="174.3" y="606.21" width="28.2" height="4.9" fill="#2d2de8"/><rect x="201.5" y="606.21" width="27.2" height="4.9" fill="#6262ee"/><rect x="147.1" y="610.11" width="28.2" height="4.9" fill="#9696f4"/><rect x="174.3" y="610.11" width="28.2" height="4.9" fill="#cacaf9"/><rect x="201.5" y="610.11" width="27.2" height="4.9" fill="#d8d8fb"/><rect x="147.1" y="614.01" width="28.2" height="4.9" fill="#9696f4"/><rect x="174.3" y="614.01" width="28.2" height="4.9" fill="#cacaf9"/><rect x="201.5" y="614.01" width="27.2" height="4.9" fill="#d8d8fb"/><rect x="147.1" y="617.9" width="28.2" height="3.9" fill="#8989f2"/><rect x="174.3" y="617.9" width="28.2" height="3.9" fill="#bdbdf8"/><rect x="201.5" y="617.9" width="27.2" height="3.9" fill="#cacaf9"/><rect x="147.1" y="376.3" width="81.6" height="245.5" fill="none" stroke="#555" stroke-width="0.8"/><line x1="160.7" y1="376.3" x2="160.7" y2="377.8" stroke="#555" stroke-width="0.6"/><line x1="160.7" y1="621.8" x2="160.7" y2="620.3" stroke="#555" stroke-width="0.6"/><line x1="187.9" y1="376.3" x2="187.9" y2="377.8" stroke="#555" stroke-width="0.6"/><line x1="187.9" y1="621.8" x2="187.9" y2="620.3" stroke="#555" stroke-width="0.6"/><line x1="215.1" y1="376.3" x2="215.1" y2="377.8" stroke="#555" stroke-width="0.6"/><line x1="215.1" y1="621.8" x2="215.1" y2="620.3" stroke="#555" stroke-width="0.6"/><line x1="147.1" y1="413.32" x2="148.6" y2="413.32" stroke="#555" stroke-width="0.6"/><line x1="228.7" y1="413.32" x2="227.2" y2="413.32" stroke="#555" stroke-width="0.6"/><line x1="147.1" y1="452.29" x2="148.6" y2="452.29" stroke="#555" stroke-width="0.6"/><line x1="228.7" y1="452.29" x2="227.2" y2="452.29" stroke="#555" stroke-width="0.6"/><line x1="147.1" y1="491.26" x2="148.6" y2="491.26" stroke="#555" stroke-width="0.6"/><line x1="228.7" y1="491.26" x2="227.2" y2="491.26" stroke="#555" stroke-width="0.6"/><line x1="147.1" y1="530.22" x2="148.6" y2="530.22" stroke="#555" stroke-width="0.6"/><line x1="228.7" y1="530.22" x2="227.2" y2="530.22" stroke="#555" stroke-width="0.6"/><line x1="147.1" y1="569.19" x2="148.6" y2="569.19" stroke="#555" stroke-width="0.6"/><line x1="228.7" y1="569.19" x2="227.2" y2="569.19" stroke="#555" stroke-width="0.6"/><line x1="147.1" y1="608.16" x2="148.6" y2="608.16" stroke="#555" stroke-width="0.6"/><line x1="228.7" y1="608.16" x2="227.2" y2="608.16" stroke="#555" stroke-width="0.6"/><text x="74" y="633.6" font-size="8.6" text-anchor="middle" fill="#222" stroke="#222" stroke-width="0.2">1</text><text x="100.7" y="633.6" font-size="8.6" text-anchor="middle" fill="#222" stroke="#222" stroke-width="0.2">2</text><text x="128" y="633.6" font-size="8.6" text-anchor="middle" fill="#222" stroke="#222" stroke-width="0.2">3</text><text x="160.2" y="633.6" font-size="8.6" text-anchor="middle" fill="#222" stroke="#222" stroke-width="0.2">1</text><text x="187.3" y="633.6" font-size="8.6" text-anchor="middle" fill="#222" stroke="#222" stroke-width="0.2">2</text><text x="214.7" y="633.6" font-size="8.6" text-anchor="middle" fill="#222" stroke="#222" stroke-width="0.2">3</text><text x="127.3" y="646.8" font-size="11.5" fill="#222" stroke="#222" stroke-width="0.2" textLength="29.3" lengthAdjust="spacingAndGlyphs">Donor</text><text x="11" y="646.6" font-size="9.2" fill="#222" stroke="#222" stroke-width="0.2" textLength="17.3" lengthAdjust="spacingAndGlyphs" transform="rotate(-90 11 646.6)">ADP</text><text x="25.9" y="660.4" font-size="9.2" fill="#222" stroke="#222" stroke-width="0.2" textLength="31.1" lengthAdjust="spacingAndGlyphs" transform="rotate(-90 25.9 660.4)">U46619</text><text x="40.4" y="646.6" font-size="9.2" fill="#222" stroke="#222" stroke-width="0.2" textLength="17.3" lengthAdjust="spacingAndGlyphs" transform="rotate(-90 40.4 646.6)">CVX</text><text x="53.6" y="659.7" font-size="9.2" fill="#222" stroke="#222" stroke-width="0.2" textLength="31.7" lengthAdjust="spacingAndGlyphs" transform="rotate(-90 53.6 659.7)">iloprost</text><text x="242.2" y="360.6" font-size="15" font-weight="bold" fill="#111" stroke="#111" stroke-width="0.2" textLength="10.7" lengthAdjust="spacingAndGlyphs">C</text><text x="267" y="360.2" font-size="10" fill="#222" stroke="#222" font-family='"Liberation Serif", serif' stroke-width='0.05' textLength="31.7" lengthAdjust="spacingAndGlyphs">Synergy</text><rect x="306.5" y="356.2" width="5.5" height="1" fill="#444"/><rect x="306.5" y="358.4" width="5.5" height="1" fill="#444"/><text x="327.7" y="357.6" font-size="11" fill="#222" stroke="#222" font-family='"Liberation Serif", serif' stroke-width='0.05' textLength="69.3" lengthAdjust="spacingAndGlyphs">∫AB − (∫A + ∫B)</text><rect x="327.3" y="359.8" width="70.9" height="0.9" fill="#222"/><text x="308" y="372.2" font-size="11" fill="#222" stroke="#222" font-family='"Liberation Serif", serif' stroke-width='0.05' textLength="93.6" lengthAdjust="spacingAndGlyphs">max|∫AB − (∫A + ∫B)|</text><path d="M441.6,377.4 C444,360 445.5,345 448.5,344.6 C452,344.5 455,356 462,362 C475,370 495,374 513,377.4 Z" fill="#6b6b6b"/><path d="M443,377.4 C446,368 449,360 453.6,359.6 C458,359.8 462,365 470,369 C482,373 495,376 505,377.4 Z" fill="#9c9c9c"/><path d="M445,377.4 C448,373 451,371 455,371 C462,371.5 472,374 490,377.4 Z" fill="#cfcfcf"/><path d="M425.4,350.9 H444 M425,363.1 H454.3 M422.5,374.6 H454" stroke="#333" stroke-width="0.7"/><text x="412.7" y="354.3" font-size="8.4" fill="#333" stroke="#333" stroke-width="0.2" textLength="12.7" lengthAdjust="spacingAndGlyphs">∫AB</text><text x="412.7" y="365.9" font-size="8.4" fill="#333" stroke="#333" stroke-width="0.2" textLength="9.3" lengthAdjust="spacingAndGlyphs">∫A</text><text x="412.7" y="378.1" font-size="8.4" fill="#333" stroke="#333" stroke-width="0.2" textLength="9.9" lengthAdjust="spacingAndGlyphs">∫B</text><circle cx="389.1" cy="490.7" r="4" fill="none" stroke="#b8121e" stroke-width="1.7"/><circle cx="410.8" cy="489.2" r="4" fill="none" stroke="#b8121e" stroke-width="1.7"/><circle cx="281" cy="587.9" r="4" fill="none" stroke="#b8121e" stroke-width="1.7"/><circle cx="396" cy="493" r="4" fill="none" stroke="#b8121e" stroke-width="1.7"/><circle cx="380" cy="497" r="4" fill="none" stroke="#b8121e" stroke-width="1.7"/><circle cx="266.1" cy="602.9" r="4.8" fill="#d8000c"/><circle cx="271.8" cy="596" r="4.8" fill="#d8000c"/><circle cx="278.2" cy="587.9" r="4.8" fill="#d8000c"/><circle cx="284.5" cy="588.4" r="4.8" fill="#d8000c"/><circle cx="301.3" cy="575.2" r="4.8" fill="#d8000c"/><circle cx="305.3" cy="570" r="4.8" fill="#d8000c"/><circle cx="308.2" cy="578.6" r="4.8" fill="#d8000c"/><circle cx="314.5" cy="566.5" r="4.8" fill="#d8000c"/><circle cx="304.6" cy="569.2" r="4.8" fill="#d8000c"/><circle cx="316.1" cy="565.7" r="4.8" fill="#d8000c"/><circle cx="329.4" cy="556.5" r="4.8" fill="#d8000c"/><circle cx="327.7" cy="551.9" r="4.8" fill="#d8000c"/><circle cx="347.3" cy="548.4" r="4.8" fill="#d8000c"/><circle cx="356.5" cy="535.8" r="4.8" fill="#d8000c"/><circle cx="362.7" cy="534" r="4.8" fill="#d8000c"/><circle cx="357" cy="537.5" r="4.8" fill="#d8000c"/><circle cx="372" cy="526.5" r="4.8" fill="#d8000c"/><circle cx="350" cy="548.4" r="4.8" fill="#d8000c"/><circle cx="362.7" cy="531.5" r="4.8" fill="#d8000c"/><circle cx="353" cy="535.4" r="4.8" fill="#d8000c"/><circle cx="380" cy="520" r="4.8" fill="#d8000c"/><circle cx="371.3" cy="526.5" r="4.8" fill="#d8000c"/><circle cx="388" cy="515" r="4.8" fill="#d8000c"/><circle cx="376" cy="522" r="4.8" fill="#d8000c"/><rect x="329.3" y="520.6" width="7.2" height="7.2" fill="none" stroke="#0000b8" stroke-width="1.5"/><rect x="401.9" y="483.2" width="7.2" height="7.2" fill="none" stroke="#0000b8" stroke-width="1.5"/><rect x="409.1" y="486.6" width="7.2" height="7.2" fill="none" stroke="#0000b8" stroke-width="1.5"/><rect x="414.9" y="496.2" width="7.2" height="7.2" fill="none" stroke="#0000b8" stroke-width="1.5"/><rect x="397.6" y="503.4" width="7.2" height="7.2" fill="none" stroke="#0000b8" stroke-width="1.5"/><rect x="390.8" y="505.4" width="7.2" height="7.2" fill="none" stroke="#0000b8" stroke-width="1.5"/><rect x="379.3" y="493.8" width="7.2" height="7.2" fill="none" stroke="#0000b8" stroke-width="1.5"/><rect x="407.9" y="485.4" width="7.2" height="7.2" fill="none" stroke="#0000b8" stroke-width="1.5"/><rect x="347.2" y="508.4" width="7.2" height="7.2" fill="none" stroke="#0000b8" stroke-width="1.5"/><rect x="353.9" y="505.4" width="7.2" height="7.2" fill="none" stroke="#0000b8" stroke-width="1.5"/><rect x="360.6" y="505.4" width="7.2" height="7.2" fill="none" stroke="#0000b8" stroke-width="1.5"/><rect x="368.3" y="499.7" width="7.2" height="7.2" fill="none" stroke="#0000b8" stroke-width="1.5"/><rect x="373.1" y="494.9" width="7.2" height="7.2" fill="none" stroke="#0000b8" stroke-width="1.5"/><rect x="377.9" y="493.9" width="7.2" height="7.2" fill="none" stroke="#0000b8" stroke-width="1.5"/><rect x="348.4" y="509.9" width="7.2" height="7.2" fill="none" stroke="#0000b8" stroke-width="1.5"/><rect x="340.4" y="512.4" width="7.2" height="7.2" fill="none" stroke="#0000b8" stroke-width="1.5"/><rect x="386.4" y="496.4" width="7.2" height="7.2" fill="none" stroke="#0000b8" stroke-width="1.5"/><rect x="283.5" y="558.6" width="9" height="9" fill="#0000e4"/><rect x="274.3" y="570.7" width="9" height="9" fill="#0000e4"/><rect x="307.7" y="555.1" width="9" height="9" fill="#0000e4"/><rect x="297.3" y="579.3" width="9" height="9" fill="#0000e4"/><rect x="306" y="582.8" width="9" height="9" fill="#0000e4"/><rect x="291" y="590.3" width="9" height="9" fill="#0000e4"/><rect x="281.8" y="593.2" width="9" height="9" fill="#0000e4"/><rect x="269.6" y="601.8" width="9" height="9" fill="#0000e4"/><rect x="273.7" y="600.1" width="9" height="9" fill="#0000e4"/><rect x="304.2" y="541.6" width="9" height="9" fill="#0000e4"/><rect x="308.2" y="545.1" width="9" height="9" fill="#0000e4"/><rect x="337" y="533.5" width="9" height="9" fill="#0000e4"/><rect x="341.6" y="526.6" width="9" height="9" fill="#0000e4"/><rect x="345.1" y="523.2" width="9" height="9" fill="#0000e4"/><rect x="352" y="522" width="9" height="9" fill="#0000e4"/><rect x="339.2" y="532.2" width="9" height="9" fill="#0000e4"/><rect x="358.2" y="521.3" width="9" height="9" fill="#0000e4"/><rect x="364" y="521.3" width="9" height="9" fill="#0000e4"/><rect x="337" y="529" width="9" height="9" fill="#0000e4"/><rect x="331.3" y="532.8" width="9" height="9" fill="#0000e4"/><rect x="360.5" y="523.2" width="9" height="9" fill="#0000e4"/><rect x="354.5" y="519.5" width="9" height="9" fill="#0000e4"/><rect x="361.5" y="519.5" width="9" height="9" fill="#0000e4"/><rect x="381.3" y="494.3" width="9" height="9" fill="#0000e4"/><rect x="387.5" y="501.5" width="9" height="9" fill="#0000e4"/><rect x="367.5" y="511.5" width="9" height="9" fill="#0000e4"/><path d="M326,528.4 L329.7,535.5 L322.3,535.5 Z" fill="none" stroke="#a0e458" stroke-width="1.5"/><path d="M341,546.9 L344.7,554 L337.3,554 Z" fill="none" stroke="#a0e458" stroke-width="1.5"/><path d="M392,488.2 L395.7,495.3 L388.3,495.3 Z" fill="none" stroke="#a0e458" stroke-width="1.5"/><path d="M402.1,492.1 L405.8,499.2 L398.4,499.2 Z" fill="none" stroke="#a0e458" stroke-width="1.5"/><path d="M408.8,490.1 L412.5,497.2 L405.1,497.2 Z" fill="none" stroke="#a0e458" stroke-width="1.5"/><path d="M406,497.8 L409.7,504.9 L402.3,504.9 Z" fill="none" stroke="#a0e458" stroke-width="1.5"/><path d="M408.8,504.6 L412.5,511.7 L405.1,511.7 Z" fill="none" stroke="#a0e458" stroke-width="1.5"/><path d="M414.6,499.8 L418.3,506.9 L410.9,506.9 Z" fill="none" stroke="#a0e458" stroke-width="1.5"/><path d="M395.4,494.9 L399.1,502 L391.7,502 Z" fill="none" stroke="#a0e458" stroke-width="1.5"/><path d="M415,499.5 L418.7,506.6 L411.3,506.6 Z" fill="none" stroke="#a0e458" stroke-width="1.5"/><path d="M374.2,492.1 L377.9,499.2 L370.5,499.2 Z" fill="none" stroke="#a0e458" stroke-width="1.5"/><path d="M284.5,590.9 L288.2,598 L280.8,598 Z" fill="none" stroke="#a0e458" stroke-width="1.5"/><path d="M285.7,572 L290.3,580.8 L281.1,580.8 Z" fill="#98e848"/><path d="M292,576.1 L296.6,584.9 L287.4,584.9 Z" fill="#98e848"/><path d="M296,581.8 L300.6,590.6 L291.4,590.6 Z" fill="#98e848"/><path d="M280.5,588.1 L285.1,596.9 L275.9,596.9 Z" fill="#98e848"/><path d="M312.2,569.1 L316.8,577.9 L307.6,577.9 Z" fill="#98e848"/><path d="M287.4,600.8 L292,609.6 L282.8,609.6 Z" fill="#98e848"/><path d="M331.1,528.6 L335.7,537.4 L326.5,537.4 Z" fill="#98e848"/><path d="M332.3,538.9 L336.9,547.7 L327.7,547.7 Z" fill="#98e848"/><path d="M321.9,548.2 L326.5,557 L317.3,557 Z" fill="#98e848"/><path d="M339.8,546.3 L344.4,555.1 L335.2,555.1 Z" fill="#98e848"/><path d="M346,509.7 L350.6,518.5 L341.4,518.5 Z" fill="#98e848"/><path d="M348.4,514.7 L353,523.5 L343.8,523.5 Z" fill="#98e848"/><path d="M354.2,512.4 L358.8,521.2 L349.6,521.2 Z" fill="#98e848"/><path d="M333,529.1 L337.6,537.9 L328.4,537.9 Z" fill="#98e848"/><path d="M361.19,503.42 L365.79,512.22 L356.59,512.22 Z" fill="#98e848"/><path d="M377.55,492.13 L382.15,500.93 L372.95,500.93 Z" fill="#98e848"/><path d="M371.79,502.25 L376.39,511.05 L367.19,511.05 Z" fill="#98e848"/><path d="M347.9,510.91 L352.5,519.71 L343.3,519.71 Z" fill="#98e848"/><path d="M346.87,510.28 L351.47,519.08 L342.27,519.08 Z" fill="#98e848"/><path d="M348.49,506.55 L353.09,515.35 L343.89,515.35 Z" fill="#98e848"/><path d="M366.23,515.19 L370.83,523.99 L361.63,523.99 Z" fill="#98e848"/><path d="M351.19,507.35 L355.79,516.15 L346.59,516.15 Z" fill="#98e848"/><path d="M376.37,516.43 L380.97,525.23 L371.77,525.23 Z" fill="#98e848"/><path d="M373.86,501.89 L378.46,510.69 L369.26,510.69 Z" fill="#98e848"/><path d="M393.81,487.3 L398.41,496.1 L389.21,496.1 Z" fill="#98e848"/><path d="M387.92,495.34 L392.52,504.14 L383.32,504.14 Z" fill="#98e848"/><path d="M352.21,505.82 L356.81,514.62 L347.61,514.62 Z" fill="#98e848"/><path d="M360.42,515.23 L365.02,524.03 L355.82,524.03 Z" fill="#98e848"/><path d="M354.04,511.52 L358.64,520.32 L349.44,520.32 Z" fill="#98e848"/><path d="M376.95,500.54 L381.55,509.34 L372.35,509.34 Z" fill="#98e848"/><path d="M372.39,494.1 L376.99,502.9 L367.79,502.9 Z" fill="#98e848"/><path d="M347.98,507.86 L352.58,516.66 L343.38,516.66 Z" fill="#98e848"/><path d="M379.02,501.65 L383.62,510.45 L374.42,510.45 Z" fill="#98e848"/><path d="M360.71,511.23 L365.31,520.03 L356.11,520.03 Z" fill="#98e848"/><path d="M367.66,503.19 L372.26,511.99 L363.06,511.99 Z" fill="#98e848"/><path d="M384.72,508.08 L389.32,516.88 L380.12,516.88 Z" fill="#98e848"/><path d="M357.2,511.34 L361.8,520.14 L352.6,520.14 Z" fill="#98e848"/><path d="M371.26,515.26 L375.86,524.06 L366.66,524.06 Z" fill="#98e848"/><path d="M381.47,497.21 L386.07,506.01 L376.87,506.01 Z" fill="#98e848"/><path d="M394.01,489.03 L398.61,497.83 L389.41,497.83 Z" fill="#98e848"/><path d="M365.91,513.78 L370.51,522.58 L361.31,522.58 Z" fill="#98e848"/><path d="M352.6,510.39 L357.2,519.19 L348,519.19 Z" fill="#98e848"/><path d="M346.96,512.51 L351.56,521.31 L342.36,521.31 Z" fill="#98e848"/><path d="M383.23,504.97 L387.83,513.77 L378.63,513.77 Z" fill="#98e848"/><path d="M388.77,495.7 L393.37,504.5 L384.17,504.5 Z" fill="#98e848"/><path d="M379.76,506.17 L384.36,514.97 L375.16,514.97 Z" fill="#98e848"/><path d="M373.99,503.42 L378.59,512.22 L369.39,512.22 Z" fill="#98e848"/><path d="M387,513.73 L391.6,522.53 L382.4,522.53 Z" fill="#98e848"/><path d="M368.7,510.91 L373.3,519.71 L364.1,519.71 Z" fill="#98e848"/><path d="M348.03,512.88 L352.63,521.68 L343.43,521.68 Z" fill="#98e848"/><path d="M377.36,517.57 L381.96,526.37 L372.76,526.37 Z" fill="#98e848"/><path d="M386.1,495.81 L390.7,504.61 L381.5,504.61 Z" fill="#98e848"/><path d="M364.29,512.35 L368.89,521.15 L359.69,521.15 Z" fill="#98e848"/><path d="M346.13,510.61 L350.73,519.41 L341.53,519.41 Z" fill="#98e848"/><path d="M353.4,505.49 L358,514.29 L348.8,514.29 Z" fill="#98e848"/><path d="M347.95,513.55 L352.55,522.35 L343.35,522.35 Z" fill="#98e848"/><path d="M351.47,507.58 L356.07,516.38 L346.87,516.38 Z" fill="#98e848"/><path d="M364.55,516.42 L369.15,525.22 L359.95,525.22 Z" fill="#98e848"/><path d="M349.03,510.22 L353.63,519.02 L344.43,519.02 Z" fill="#98e848"/><path d="M372.47,515.24 L377.07,524.04 L367.87,524.04 Z" fill="#98e848"/><path d="M385.96,512.08 L390.56,520.88 L381.36,520.88 Z" fill="#98e848"/><path d="M358.92,508.75 L363.52,517.55 L354.32,517.55 Z" fill="#98e848"/><path d="M362.94,516.66 L367.54,525.46 L358.34,525.46 Z" fill="#98e848"/><path d="M392.89,490.16 L397.49,498.96 L388.29,498.96 Z" fill="#98e848"/><path d="M353.81,506.9 L358.41,515.7 L349.21,515.7 Z" fill="#98e848"/><path d="M356.67,510.03 L361.27,518.83 L352.07,518.83 Z" fill="#98e848"/><path d="M374.46,498.09 L379.06,506.89 L369.86,506.89 Z" fill="#98e848"/><path d="M345.2,510.32 L349.8,519.12 L340.6,519.12 Z" fill="#98e848"/><path d="M363.46,510.46 L368.06,519.26 L358.86,519.26 Z" fill="#98e848"/><path d="M364,520.87 L368.6,529.67 L359.4,529.67 Z" fill="#98e848"/><path d="M366.91,517.64 L371.51,526.44 L362.31,526.44 Z" fill="#98e848"/><path d="M369.82,514.86 L374.42,523.66 L365.22,523.66 Z" fill="#98e848"/><path d="M372.73,513.46 L377.33,522.26 L368.13,522.26 Z" fill="#98e848"/><path d="M375.64,511.84 L380.24,520.64 L371.04,520.64 Z" fill="#98e848"/><path d="M378.55,506.82 L383.15,515.62 L373.95,515.62 Z" fill="#98e848"/><path d="M381.45,509.14 L386.05,517.94 L376.85,517.94 Z" fill="#98e848"/><path d="M384.36,506.64 L388.96,515.44 L379.76,515.44 Z" fill="#98e848"/><path d="M387.27,505.2 L391.87,514 L382.67,514 Z" fill="#98e848"/><path d="M390.18,502.91 L394.78,511.71 L385.58,511.71 Z" fill="#98e848"/><path d="M393.09,498.97 L397.69,507.77 L388.49,507.77 Z" fill="#98e848"/><path d="M396,497.09 L400.6,505.89 L391.4,505.89 Z" fill="#98e848"/><line x1="267.2" y1="606.6" x2="509.2" y2="404.4" stroke="#000" stroke-width="1.6"/><rect x="267.2" y="404.4" width="242" height="202.2" fill="none" stroke="#000" stroke-width="1.4"/><line x1="267.2" y1="606.6" x2="267.2" y2="604.6" stroke="#000" stroke-width="1"/><line x1="267.2" y1="404.4" x2="267.2" y2="406.4" stroke="#000" stroke-width="1"/><line x1="267.2" y1="606.6" x2="269.2" y2="606.6" stroke="#000" stroke-width="1"/><line x1="509.2" y1="606.6" x2="507.2" y2="606.6" stroke="#000" stroke-width="1"/><line x1="291.4" y1="606.6" x2="291.4" y2="604.6" stroke="#000" stroke-width="1"/><line x1="291.4" y1="404.4" x2="291.4" y2="406.4" stroke="#000" stroke-width="1"/><line x1="267.2" y1="586.38" x2="269.2" y2="586.38" stroke="#000" stroke-width="1"/><line x1="509.2" y1="586.38" x2="507.2" y2="586.38" stroke="#000" stroke-width="1"/><line x1="315.6" y1="606.6" x2="315.6" y2="604.6" stroke="#000" stroke-width="1"/><line x1="315.6" y1="404.4" x2="315.6" y2="406.4" stroke="#000" stroke-width="1"/><line x1="267.2" y1="566.16" x2="269.2" y2="566.16" stroke="#000" stroke-width="1"/><line x1="509.2" y1="566.16" x2="507.2" y2="566.16" stroke="#000" stroke-width="1"/><line x1="339.8" y1="606.6" x2="339.8" y2="604.6" stroke="#000" stroke-width="1"/><line x1="339.8" y1="404.4" x2="339.8" y2="406.4" stroke="#000" stroke-width="1"/><line x1="267.2" y1="545.94" x2="269.2" y2="545.94" stroke="#000" stroke-width="1"/><line x1="509.2" y1="545.94" x2="507.2" y2="545.94" stroke="#000" stroke-width="1"/><line x1="364" y1="606.6" x2="364" y2="604.6" stroke="#000" stroke-width="1"/><line x1="364" y1="404.4" x2="364" y2="406.4" stroke="#000" stroke-width="1"/><line x1="267.2" y1="525.72" x2="269.2" y2="525.72" stroke="#000" stroke-width="1"/><line x1="509.2" y1="525.72" x2="507.2" y2="525.72" stroke="#000" stroke-width="1"/><line x1="388.2" y1="606.6" x2="388.2" y2="604.6" stroke="#000" stroke-width="1"/><line x1="388.2" y1="404.4" x2="388.2" y2="406.4" stroke="#000" stroke-width="1"/><line x1="267.2" y1="505.5" x2="269.2" y2="505.5" stroke="#000" stroke-width="1"/><line x1="509.2" y1="505.5" x2="507.2" y2="505.5" stroke="#000" stroke-width="1"/><line x1="412.4" y1="606.6" x2="412.4" y2="604.6" stroke="#000" stroke-width="1"/><line x1="412.4" y1="404.4" x2="412.4" y2="406.4" stroke="#000" stroke-width="1"/><line x1="267.2" y1="485.28" x2="269.2" y2="485.28" stroke="#000" stroke-width="1"/><line x1="509.2" y1="485.28" x2="507.2" y2="485.28" stroke="#000" stroke-width="1"/><line x1="436.6" y1="606.6" x2="436.6" y2="604.6" stroke="#000" stroke-width="1"/><line x1="436.6" y1="404.4" x2="436.6" y2="406.4" stroke="#000" stroke-width="1"/><line x1="267.2" y1="465.06" x2="269.2" y2="465.06" stroke="#000" stroke-width="1"/><line x1="509.2" y1="465.06" x2="507.2" y2="465.06" stroke="#000" stroke-width="1"/><line x1="460.8" y1="606.6" x2="460.8" y2="604.6" stroke="#000" stroke-width="1"/><line x1="460.8" y1="404.4" x2="460.8" y2="406.4" stroke="#000" stroke-width="1"/><line x1="267.2" y1="444.84" x2="269.2" y2="444.84" stroke="#000" stroke-width="1"/><line x1="509.2" y1="444.84" x2="507.2" y2="444.84" stroke="#000" stroke-width="1"/><line x1="485" y1="606.6" x2="485" y2="604.6" stroke="#000" stroke-width="1"/><line x1="485" y1="404.4" x2="485" y2="406.4" stroke="#000" stroke-width="1"/><line x1="267.2" y1="424.62" x2="269.2" y2="424.62" stroke="#000" stroke-width="1"/><line x1="509.2" y1="424.62" x2="507.2" y2="424.62" stroke="#000" stroke-width="1"/><line x1="509.2" y1="606.6" x2="509.2" y2="604.6" stroke="#000" stroke-width="1"/><line x1="509.2" y1="404.4" x2="509.2" y2="406.4" stroke="#000" stroke-width="1"/><line x1="267.2" y1="404.4" x2="269.2" y2="404.4" stroke="#000" stroke-width="1"/><line x1="509.2" y1="404.4" x2="507.2" y2="404.4" stroke="#000" stroke-width="1"/><text x="262.3" y="619" font-size="9.2" fill="#222" stroke="#222" stroke-width="0.2" textLength="6.2" lengthAdjust="spacingAndGlyphs">-1</text><text x="263" y="608.5" font-size="8.8" text-anchor="end" fill="#222" stroke="#222" stroke-width="0.2">-1</text><text x="286" y="619" font-size="9.2" fill="#222" stroke="#222" stroke-width="0.2" textLength="14.8" lengthAdjust="spacingAndGlyphs">-0.8</text><text x="263" y="588.28" font-size="8.8" text-anchor="end" fill="#222" stroke="#222" stroke-width="0.2">-0.8</text><text x="310.3" y="619" font-size="9.2" fill="#222" stroke="#222" stroke-width="0.2" textLength="14.7" lengthAdjust="spacingAndGlyphs">-0.6</text><text x="263" y="568.06" font-size="8.8" text-anchor="end" fill="#222" stroke="#222" stroke-width="0.2">-0.6</text><text x="334.4" y="619" font-size="9.2" fill="#222" stroke="#222" stroke-width="0.2" textLength="15.2" lengthAdjust="spacingAndGlyphs">-0.4</text><text x="263" y="547.84" font-size="8.8" text-anchor="end" fill="#222" stroke="#222" stroke-width="0.2">-0.4</text><text x="359.2" y="619" font-size="9.2" fill="#222" stroke="#222" stroke-width="0.2" textLength="14.6" lengthAdjust="spacingAndGlyphs">-0.2</text><text x="263" y="527.62" font-size="8.8" text-anchor="end" fill="#222" stroke="#222" stroke-width="0.2">-0.2</text><text x="384" y="619" font-size="9.2" fill="#222" stroke="#222" stroke-width="0.2" textLength="4.5" lengthAdjust="spacingAndGlyphs">0</text><text x="263" y="507.4" font-size="8.8" text-anchor="end" fill="#222" stroke="#222" stroke-width="0.2">0</text><text x="407.5" y="619" font-size="9.2" fill="#222" stroke="#222" stroke-width="0.2" textLength="12" lengthAdjust="spacingAndGlyphs">0.2</text><text x="263" y="487.18" font-size="8.8" text-anchor="end" fill="#222" stroke="#222" stroke-width="0.2">0.2</text><text x="431.6" y="619" font-size="9.2" fill="#222" stroke="#222" stroke-width="0.2" textLength="11.6" lengthAdjust="spacingAndGlyphs">0.4</text><text x="263" y="466.96" font-size="8.8" text-anchor="end" fill="#222" stroke="#222" stroke-width="0.2">0.4</text><text x="456" y="619" font-size="9.2" fill="#222" stroke="#222" stroke-width="0.2" textLength="11.8" lengthAdjust="spacingAndGlyphs">0.6</text><text x="263" y="446.74" font-size="8.8" text-anchor="end" fill="#222" stroke="#222" stroke-width="0.2">0.6</text><text x="479.8" y="619" font-size="9.2" fill="#222" stroke="#222" stroke-width="0.2" textLength="11.7" lengthAdjust="spacingAndGlyphs">0.8</text><text x="263" y="426.52" font-size="8.8" text-anchor="end" fill="#222" stroke="#222" stroke-width="0.2">0.8</text><text x="507.2" y="619" font-size="8.8" text-anchor="end" fill="#222" stroke="#222" stroke-width="0.2">1</text><text x="263" y="406.3" font-size="8.8" text-anchor="end" fill="#222" stroke="#222" stroke-width="0.2">1</text><text x="357.4" y="635.8" font-size="10.6" fill="#222" stroke="#222" stroke-width="0.2" textLength="91.3" lengthAdjust="spacingAndGlyphs">Experimental Synergy</text><text x="246" y="550.5" font-size="10.6" fill="#222" stroke="#222" stroke-width="0.2" textLength="94.2" lengthAdjust="spacingAndGlyphs" transform="rotate(-90 246 550.5)">Simulation Synergy</text><text x="283.5" y="443.4" font-size="9.6" fill="#222" stroke="#222" stroke-width="0.2" textLength="37.9" lengthAdjust="spacingAndGlyphs">R=0.9543</text><circle cx="410.8" cy="528" r="4" fill="none" stroke="#b8121e" stroke-width="1.7"/><text x="425" y="531" font-size="8.4" fill="#333" stroke="#333" stroke-width="0.2" textLength="65" lengthAdjust="spacingAndGlyphs">Donor 1 : No iloprost</text><circle cx="410.8" cy="540.04" r="4.8" fill="#d8000c"/><text x="425" y="543.04" font-size="8.4" fill="#333" stroke="#333" stroke-width="0.2" textLength="72.7" lengthAdjust="spacingAndGlyphs">Donor 1 : With iloprost</text><rect x="407.2" y="548.48" width="7.2" height="7.2" fill="none" stroke="#0000b8" stroke-width="1.5"/><text x="425" y="555.08" font-size="8.4" fill="#333" stroke="#333" stroke-width="0.2" textLength="66.5" lengthAdjust="spacingAndGlyphs">Donor 2 : No iloprost</text><rect x="406.3" y="559.62" width="9" height="9" fill="#0000e4"/><text x="425" y="567.12" font-size="8.4" fill="#333" stroke="#333" stroke-width="0.2" textLength="72.7" lengthAdjust="spacingAndGlyphs">Donor 2 : With iloprost</text><path d="M410.8,572.26 L414.5,579.36 L407.1,579.36 Z" fill="none" stroke="#a0e458" stroke-width="1.5"/><text x="425" y="579.16" font-size="8.4" fill="#333" stroke="#333" stroke-width="0.2" textLength="66.5" lengthAdjust="spacingAndGlyphs">Donor 3 : No iloprost</text><path d="M410.8,583.3 L415.4,592.1 L406.2,592.1 Z" fill="#98e848"/><text x="425" y="591.2" font-size="8.4" fill="#333" stroke="#333" stroke-width="0.2" textLength="72.7" lengthAdjust="spacingAndGlyphs">Donor 3 : With iloprost</text></svg></body></html>
